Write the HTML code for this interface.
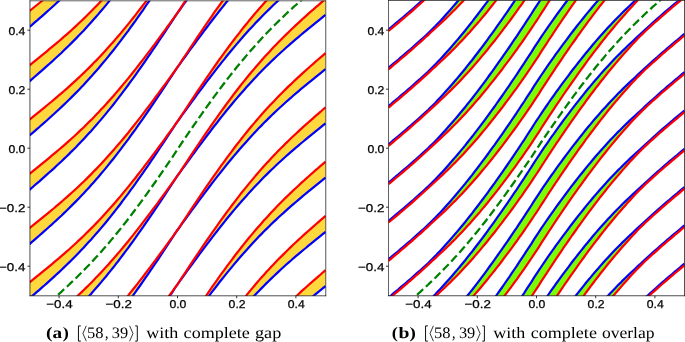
<!DOCTYPE html>
<html><head><meta charset="utf-8"><style>
html,body{margin:0;padding:0;background:#fff;}
svg{display:block;}
text{text-rendering:geometricPrecision;}
.tk{font-family:"Liberation Sans",sans-serif;font-size:11.30px;fill:#000;stroke:#000;stroke-width:0.25px;}
.cr{font-family:"Liberation Serif",serif;font-size:16.00px;fill:#000;}
.cb{font-family:"Liberation Serif",serif;font-size:16.00px;font-weight:bold;fill:#000;}
</style></head><body>
<svg width="685" height="342" viewBox="0 0 685 342" style="will-change:transform">
<rect width="685" height="342" fill="#fff"/>
<defs></defs>
<clipPath id="c0"><rect x="29.95" y="0.80" width="295.80" height="295.00"/></clipPath>
<g clip-path="url(#c0)">
<path d="M29.5 608.0 L32.0 606.0 L34.4 604.0 L36.9 602.0 L39.4 600.0 L41.8 598.0 L44.3 596.0 L46.8 594.0 L49.2 591.9 L51.7 589.9 L54.2 587.8 L56.6 585.8 L59.1 583.7 L61.6 581.6 L64.0 579.4 L66.5 577.3 L69.0 575.1 L71.4 572.9 L73.9 570.6 L76.4 568.3 L78.8 566.0 L81.3 563.7 L83.8 561.3 L86.2 558.9 L88.7 556.5 L91.2 554.0 L93.6 551.5 L96.1 549.0 L98.6 546.4 L101.0 543.8 L103.5 541.1 L106.0 538.4 L108.4 535.7 L110.9 532.9 L113.4 530.1 L115.8 527.3 L118.3 524.4 L120.8 521.5 L123.2 518.5 L125.7 515.6 L128.2 512.5 L130.6 509.5 L133.1 506.4 L135.6 503.3 L138.0 500.2 L140.5 497.0 L143.0 493.8 L145.4 490.6 L147.9 487.3 L150.4 484.0 L152.8 480.7 L155.3 477.4 L157.8 474.1 L160.2 470.8 L162.7 467.4 L165.2 464.0 L167.6 460.7 L170.1 457.3 L172.6 453.9 L175.0 450.5 L177.5 447.1 L180.0 443.3 L182.4 439.6 L184.9 435.9 L187.4 432.1 L189.8 428.4 L192.3 424.7 L194.8 421.0 L197.2 417.3 L199.7 413.7 L202.2 410.0 L204.6 406.4 L207.1 402.8 L209.6 399.2 L212.0 395.7 L214.5 392.1 L217.0 388.6 L219.4 385.2 L221.9 381.7 L224.4 378.3 L226.8 375.0 L229.3 371.6 L231.8 368.3 L234.2 365.1 L236.7 361.9 L239.2 358.7 L241.6 355.5 L244.1 352.4 L246.6 349.4 L249.0 346.4 L251.5 343.4 L254.0 340.5 L256.4 337.6 L258.9 334.7 L261.4 331.9 L263.8 329.1 L266.3 326.4 L268.8 323.7 L271.2 321.1 L273.7 318.4 L276.2 315.9 L278.6 313.3 L281.1 310.8 L283.6 308.4 L286.0 305.9 L288.5 303.5 L291.0 301.2 L293.4 298.8 L295.9 296.5 L298.4 294.2 L300.8 291.9 L303.3 289.7 L305.8 287.5 L308.2 285.3 L310.7 283.1 L313.2 280.9 L315.6 278.8 L318.1 276.6 L320.6 274.5 L323.0 272.3 L325.5 270.2 L325.5 286.2 L323.0 288.2 L320.6 290.2 L318.1 292.2 L315.6 294.2 L313.2 296.2 L310.7 298.2 L308.2 300.2 L305.8 302.2 L303.3 304.3 L300.8 306.3 L298.4 308.4 L295.9 310.5 L293.4 312.6 L291.0 314.7 L288.5 316.9 L286.0 319.1 L283.6 321.3 L281.1 323.6 L278.6 325.8 L276.2 328.1 L273.7 330.5 L271.2 332.8 L268.8 335.2 L266.3 337.7 L263.8 340.1 L261.4 342.6 L258.9 345.2 L256.4 347.8 L254.0 350.4 L251.5 353.0 L249.0 355.7 L246.6 358.5 L244.1 361.2 L241.6 364.0 L239.2 366.9 L236.7 369.8 L234.2 372.7 L231.8 375.6 L229.3 378.6 L226.8 381.6 L224.4 384.7 L221.9 387.8 L219.4 390.9 L217.0 394.0 L214.5 397.2 L212.0 400.4 L209.6 403.6 L207.1 406.9 L204.6 410.1 L202.2 413.4 L199.7 416.7 L197.2 420.1 L194.8 423.4 L192.3 426.8 L189.8 430.1 L187.4 433.5 L184.9 436.9 L182.4 440.3 L180.0 443.7 L177.5 447.1 L175.0 450.8 L172.6 454.6 L170.1 458.3 L167.6 462.0 L165.2 465.7 L162.7 469.5 L160.2 473.2 L157.8 476.8 L155.3 480.5 L152.8 484.1 L150.4 487.8 L147.9 491.4 L145.4 495.0 L143.0 498.5 L140.5 502.0 L138.0 505.5 L135.6 509.0 L133.1 512.4 L130.6 515.8 L128.2 519.2 L125.7 522.5 L123.2 525.8 L120.8 529.1 L118.3 532.3 L115.8 535.5 L113.4 538.6 L110.9 541.7 L108.4 544.8 L106.0 547.8 L103.5 550.8 L101.0 553.7 L98.6 556.6 L96.1 559.5 L93.6 562.3 L91.2 565.0 L88.7 567.8 L86.2 570.5 L83.8 573.1 L81.3 575.7 L78.8 578.3 L76.4 580.8 L73.9 583.3 L71.4 585.8 L69.0 588.2 L66.5 590.6 L64.0 593.0 L61.6 595.4 L59.1 597.7 L56.6 600.0 L54.2 602.2 L51.7 604.5 L49.2 606.7 L46.8 608.9 L44.3 611.1 L41.8 613.3 L39.4 615.4 L36.9 617.6 L34.4 619.7 L32.0 621.8 L29.5 624.0Z M29.5 553.7 L32.0 551.7 L34.4 549.7 L36.9 547.7 L39.4 545.7 L41.8 543.7 L44.3 541.7 L46.8 539.7 L49.2 537.7 L51.7 535.6 L54.2 533.6 L56.6 531.5 L59.1 529.4 L61.6 527.3 L64.0 525.2 L66.5 523.0 L69.0 520.8 L71.4 518.6 L73.9 516.3 L76.4 514.1 L78.8 511.8 L81.3 509.4 L83.8 507.1 L86.2 504.7 L88.7 502.2 L91.2 499.8 L93.6 497.3 L96.1 494.7 L98.6 492.1 L101.0 489.5 L103.5 486.9 L106.0 484.2 L108.4 481.4 L110.9 478.7 L113.4 475.9 L115.8 473.0 L118.3 470.1 L120.8 467.2 L123.2 464.3 L125.7 461.3 L128.2 458.3 L130.6 455.2 L133.1 452.1 L135.6 449.0 L138.0 445.9 L140.5 442.7 L143.0 439.5 L145.4 436.3 L147.9 433.0 L150.4 429.8 L152.8 426.5 L155.3 423.2 L157.8 419.8 L160.2 416.5 L162.7 413.1 L165.2 409.8 L167.6 406.4 L170.1 403.0 L172.6 399.6 L175.0 396.2 L177.5 392.8 L180.0 389.1 L182.4 385.3 L184.9 381.6 L187.4 377.9 L189.8 374.2 L192.3 370.4 L194.8 366.7 L197.2 363.1 L199.7 359.4 L202.2 355.8 L204.6 352.1 L207.1 348.5 L209.6 344.9 L212.0 341.4 L214.5 337.9 L217.0 334.4 L219.4 330.9 L221.9 327.5 L224.4 324.1 L226.8 320.7 L229.3 317.4 L231.8 314.1 L234.2 310.8 L236.7 307.6 L239.2 304.4 L241.6 301.3 L244.1 298.2 L246.6 295.1 L249.0 292.1 L251.5 289.1 L254.0 286.2 L256.4 283.3 L258.9 280.4 L261.4 277.6 L263.8 274.9 L266.3 272.1 L268.8 269.4 L271.2 266.8 L273.7 264.2 L276.2 261.6 L278.6 259.1 L281.1 256.6 L283.6 254.1 L286.0 251.7 L288.5 249.3 L291.0 246.9 L293.4 244.5 L295.9 242.2 L298.4 239.9 L300.8 237.7 L303.3 235.4 L305.8 233.2 L308.2 231.0 L310.7 228.8 L313.2 226.6 L315.6 224.5 L318.1 222.3 L320.6 220.2 L323.0 218.1 L325.5 215.9 L325.5 231.9 L323.0 233.9 L320.6 235.9 L318.1 237.9 L315.6 239.9 L313.2 241.9 L310.7 243.9 L308.2 245.9 L305.8 248.0 L303.3 250.0 L300.8 252.1 L298.4 254.1 L295.9 256.2 L293.4 258.3 L291.0 260.5 L288.5 262.6 L286.0 264.8 L283.6 267.0 L281.1 269.3 L278.6 271.6 L276.2 273.9 L273.7 276.2 L271.2 278.6 L268.8 281.0 L266.3 283.4 L263.8 285.9 L261.4 288.4 L258.9 290.9 L256.4 293.5 L254.0 296.1 L251.5 298.8 L249.0 301.5 L246.6 304.2 L244.1 307.0 L241.6 309.8 L239.2 312.6 L236.7 315.5 L234.2 318.4 L231.8 321.4 L229.3 324.3 L226.8 327.4 L224.4 330.4 L221.9 333.5 L219.4 336.6 L217.0 339.7 L214.5 342.9 L212.0 346.1 L209.6 349.3 L207.1 352.6 L204.6 355.9 L202.2 359.2 L199.7 362.5 L197.2 365.8 L194.8 369.1 L192.3 372.5 L189.8 375.9 L187.4 379.2 L184.9 382.6 L182.4 386.0 L180.0 389.4 L177.5 392.8 L175.0 396.6 L172.6 400.3 L170.1 404.0 L167.6 407.8 L165.2 411.5 L162.7 415.2 L160.2 418.9 L157.8 422.6 L155.3 426.2 L152.8 429.9 L150.4 433.5 L147.9 437.1 L145.4 440.7 L143.0 444.2 L140.5 447.8 L138.0 451.3 L135.6 454.7 L133.1 458.2 L130.6 461.6 L128.2 464.9 L125.7 468.3 L123.2 471.6 L120.8 474.8 L118.3 478.0 L115.8 481.2 L113.4 484.4 L110.9 487.5 L108.4 490.5 L106.0 493.5 L103.5 496.5 L101.0 499.4 L98.6 502.3 L96.1 505.2 L93.6 508.0 L91.2 510.8 L88.7 513.5 L86.2 516.2 L83.8 518.8 L81.3 521.5 L78.8 524.0 L76.4 526.6 L73.9 529.1 L71.4 531.5 L69.0 534.0 L66.5 536.4 L64.0 538.7 L61.6 541.1 L59.1 543.4 L56.6 545.7 L54.2 548.0 L51.7 550.2 L49.2 552.4 L46.8 554.6 L44.3 556.8 L41.8 559.0 L39.4 561.1 L36.9 563.3 L34.4 565.4 L32.0 567.6 L29.5 569.7Z M29.5 499.4 L32.0 497.4 L34.4 495.5 L36.9 493.5 L39.4 491.5 L41.8 489.5 L44.3 487.5 L46.8 485.4 L49.2 483.4 L51.7 481.4 L54.2 479.3 L56.6 477.2 L59.1 475.1 L61.6 473.0 L64.0 470.9 L66.5 468.7 L69.0 466.5 L71.4 464.3 L73.9 462.1 L76.4 459.8 L78.8 457.5 L81.3 455.2 L83.8 452.8 L86.2 450.4 L88.7 448.0 L91.2 445.5 L93.6 443.0 L96.1 440.4 L98.6 437.9 L101.0 435.2 L103.5 432.6 L106.0 429.9 L108.4 427.2 L110.9 424.4 L113.4 421.6 L115.8 418.7 L118.3 415.9 L120.8 413.0 L123.2 410.0 L125.7 407.0 L128.2 404.0 L130.6 401.0 L133.1 397.9 L135.6 394.8 L138.0 391.6 L140.5 388.4 L143.0 385.2 L145.4 382.0 L147.9 378.8 L150.4 375.5 L152.8 372.2 L155.3 368.9 L157.8 365.6 L160.2 362.2 L162.7 358.9 L165.2 355.5 L167.6 352.1 L170.1 348.7 L172.6 345.3 L175.0 341.9 L177.5 338.5 L180.0 334.8 L182.4 331.1 L184.9 327.3 L187.4 323.6 L189.8 319.9 L192.3 316.2 L194.8 312.5 L197.2 308.8 L199.7 305.1 L202.2 301.5 L204.6 297.9 L207.1 294.3 L209.6 290.7 L212.0 287.1 L214.5 283.6 L217.0 280.1 L219.4 276.6 L221.9 273.2 L224.4 269.8 L226.8 266.4 L229.3 263.1 L231.8 259.8 L234.2 256.5 L236.7 253.3 L239.2 250.1 L241.6 247.0 L244.1 243.9 L246.6 240.8 L249.0 237.8 L251.5 234.9 L254.0 231.9 L256.4 229.0 L258.9 226.2 L261.4 223.4 L263.8 220.6 L266.3 217.9 L268.8 215.2 L271.2 212.5 L273.7 209.9 L276.2 207.3 L278.6 204.8 L281.1 202.3 L283.6 199.8 L286.0 197.4 L288.5 195.0 L291.0 192.6 L293.4 190.3 L295.9 188.0 L298.4 185.7 L300.8 183.4 L303.3 181.2 L305.8 178.9 L308.2 176.7 L310.7 174.5 L313.2 172.4 L315.6 170.2 L318.1 168.1 L320.6 165.9 L323.0 163.8 L325.5 161.7 L325.5 177.7 L323.0 179.6 L320.6 181.6 L318.1 183.6 L315.6 185.6 L313.2 187.6 L310.7 189.6 L308.2 191.7 L305.8 193.7 L303.3 195.7 L300.8 197.8 L298.4 199.9 L295.9 202.0 L293.4 204.1 L291.0 206.2 L288.5 208.4 L286.0 210.6 L283.6 212.8 L281.1 215.0 L278.6 217.3 L276.2 219.6 L273.7 221.9 L271.2 224.3 L268.8 226.7 L266.3 229.1 L263.8 231.6 L261.4 234.1 L258.9 236.6 L256.4 239.2 L254.0 241.8 L251.5 244.5 L249.0 247.2 L246.6 249.9 L244.1 252.7 L241.6 255.5 L239.2 258.3 L236.7 261.2 L234.2 264.1 L231.8 267.1 L229.3 270.1 L226.8 273.1 L224.4 276.1 L221.9 279.2 L219.4 282.3 L217.0 285.5 L214.5 288.7 L212.0 291.9 L209.6 295.1 L207.1 298.3 L204.6 301.6 L202.2 304.9 L199.7 308.2 L197.2 311.5 L194.8 314.9 L192.3 318.2 L189.8 321.6 L187.4 325.0 L184.9 328.4 L182.4 331.7 L180.0 335.1 L177.5 338.5 L175.0 342.3 L172.6 346.0 L170.1 349.8 L167.6 353.5 L165.2 357.2 L162.7 360.9 L160.2 364.6 L157.8 368.3 L155.3 372.0 L152.8 375.6 L150.4 379.2 L147.9 382.8 L145.4 386.4 L143.0 390.0 L140.5 393.5 L138.0 397.0 L135.6 400.5 L133.1 403.9 L130.6 407.3 L128.2 410.7 L125.7 414.0 L123.2 417.3 L120.8 420.5 L118.3 423.8 L115.8 426.9 L113.4 430.1 L110.9 433.2 L108.4 436.2 L106.0 439.3 L103.5 442.2 L101.0 445.2 L98.6 448.1 L96.1 450.9 L93.6 453.7 L91.2 456.5 L88.7 459.2 L86.2 461.9 L83.8 464.6 L81.3 467.2 L78.8 469.8 L76.4 472.3 L73.9 474.8 L71.4 477.3 L69.0 479.7 L66.5 482.1 L64.0 484.5 L61.6 486.8 L59.1 489.1 L56.6 491.4 L54.2 493.7 L51.7 495.9 L49.2 498.2 L46.8 500.4 L44.3 502.5 L41.8 504.7 L39.4 506.9 L36.9 509.0 L34.4 511.2 L32.0 513.3 L29.5 515.4Z M29.5 445.2 L32.0 443.2 L34.4 441.2 L36.9 439.2 L39.4 437.2 L41.8 435.2 L44.3 433.2 L46.8 431.2 L49.2 429.1 L51.7 427.1 L54.2 425.0 L56.6 423.0 L59.1 420.9 L61.6 418.7 L64.0 416.6 L66.5 414.5 L69.0 412.3 L71.4 410.0 L73.9 407.8 L76.4 405.5 L78.8 403.2 L81.3 400.9 L83.8 398.5 L86.2 396.1 L88.7 393.7 L91.2 391.2 L93.6 388.7 L96.1 386.2 L98.6 383.6 L101.0 381.0 L103.5 378.3 L106.0 375.6 L108.4 372.9 L110.9 370.1 L113.4 367.3 L115.8 364.5 L118.3 361.6 L120.8 358.7 L123.2 355.7 L125.7 352.8 L128.2 349.7 L130.6 346.7 L133.1 343.6 L135.6 340.5 L138.0 337.3 L140.5 334.2 L143.0 331.0 L145.4 327.7 L147.9 324.5 L150.4 321.2 L152.8 317.9 L155.3 314.6 L157.8 311.3 L160.2 308.0 L162.7 304.6 L165.2 301.2 L167.6 297.8 L170.1 294.5 L172.6 291.1 L175.0 287.7 L177.5 284.3 L180.0 280.5 L182.4 276.8 L184.9 273.1 L187.4 269.3 L189.8 265.6 L192.3 261.9 L194.8 258.2 L197.2 254.5 L199.7 250.9 L202.2 247.2 L204.6 243.6 L207.1 240.0 L209.6 236.4 L212.0 232.9 L214.5 229.3 L217.0 225.8 L219.4 222.4 L221.9 218.9 L224.4 215.5 L226.8 212.2 L229.3 208.8 L231.8 205.5 L234.2 202.3 L236.7 199.1 L239.2 195.9 L241.6 192.7 L244.1 189.6 L246.6 186.6 L249.0 183.6 L251.5 180.6 L254.0 177.6 L256.4 174.8 L258.9 171.9 L261.4 169.1 L263.8 166.3 L266.3 163.6 L268.8 160.9 L271.2 158.3 L273.7 155.6 L276.2 153.1 L278.6 150.5 L281.1 148.0 L283.6 145.6 L286.0 143.1 L288.5 140.7 L291.0 138.3 L293.4 136.0 L295.9 133.7 L298.4 131.4 L300.8 129.1 L303.3 126.9 L305.8 124.7 L308.2 122.5 L310.7 120.3 L313.2 118.1 L315.6 115.9 L318.1 113.8 L320.6 111.7 L323.0 109.5 L325.5 107.4 L325.5 123.4 L323.0 125.4 L320.6 127.4 L318.1 129.4 L315.6 131.4 L313.2 133.4 L310.7 135.4 L308.2 137.4 L305.8 139.4 L303.3 141.5 L300.8 143.5 L298.4 145.6 L295.9 147.7 L293.4 149.8 L291.0 151.9 L288.5 154.1 L286.0 156.3 L283.6 158.5 L281.1 160.7 L278.6 163.0 L276.2 165.3 L273.7 167.7 L271.2 170.0 L268.8 172.4 L266.3 174.9 L263.8 177.3 L261.4 179.8 L258.9 182.4 L256.4 185.0 L254.0 187.6 L251.5 190.2 L249.0 192.9 L246.6 195.7 L244.1 198.4 L241.6 201.2 L239.2 204.1 L236.7 206.9 L234.2 209.9 L231.8 212.8 L229.3 215.8 L226.8 218.8 L224.4 221.9 L221.9 225.0 L219.4 228.1 L217.0 231.2 L214.5 234.4 L212.0 237.6 L209.6 240.8 L207.1 244.1 L204.6 247.3 L202.2 250.6 L199.7 253.9 L197.2 257.3 L194.8 260.6 L192.3 264.0 L189.8 267.3 L187.4 270.7 L184.9 274.1 L182.4 277.5 L180.0 280.9 L177.5 284.3 L175.0 288.0 L172.6 291.8 L170.1 295.5 L167.6 299.2 L165.2 302.9 L162.7 306.6 L160.2 310.3 L157.8 314.0 L155.3 317.7 L152.8 321.3 L150.4 325.0 L147.9 328.6 L145.4 332.1 L143.0 335.7 L140.5 339.2 L138.0 342.7 L135.6 346.2 L133.1 349.6 L130.6 353.0 L128.2 356.4 L125.7 359.7 L123.2 363.0 L120.8 366.3 L118.3 369.5 L115.8 372.7 L113.4 375.8 L110.9 378.9 L108.4 382.0 L106.0 385.0 L103.5 388.0 L101.0 390.9 L98.6 393.8 L96.1 396.6 L93.6 399.5 L91.2 402.2 L88.7 405.0 L86.2 407.6 L83.8 410.3 L81.3 412.9 L78.8 415.5 L76.4 418.0 L73.9 420.5 L71.4 423.0 L69.0 425.4 L66.5 427.8 L64.0 430.2 L61.6 432.5 L59.1 434.9 L56.6 437.2 L54.2 439.4 L51.7 441.7 L49.2 443.9 L46.8 446.1 L44.3 448.3 L41.8 450.4 L39.4 452.6 L36.9 454.8 L34.4 456.9 L32.0 459.0 L29.5 461.2Z M29.5 390.9 L32.0 388.9 L34.4 386.9 L36.9 384.9 L39.4 382.9 L41.8 380.9 L44.3 378.9 L46.8 376.9 L49.2 374.9 L51.7 372.8 L54.2 370.8 L56.6 368.7 L59.1 366.6 L61.6 364.5 L64.0 362.3 L66.5 360.2 L69.0 358.0 L71.4 355.8 L73.9 353.5 L76.4 351.3 L78.8 349.0 L81.3 346.6 L83.8 344.3 L86.2 341.9 L88.7 339.4 L91.2 337.0 L93.6 334.4 L96.1 331.9 L98.6 329.3 L101.0 326.7 L103.5 324.0 L106.0 321.4 L108.4 318.6 L110.9 315.9 L113.4 313.1 L115.8 310.2 L118.3 307.3 L120.8 304.4 L123.2 301.5 L125.7 298.5 L128.2 295.5 L130.6 292.4 L133.1 289.3 L135.6 286.2 L138.0 283.1 L140.5 279.9 L143.0 276.7 L145.4 273.5 L147.9 270.2 L150.4 267.0 L152.8 263.7 L155.3 260.4 L157.8 257.0 L160.2 253.7 L162.7 250.3 L165.2 247.0 L167.6 243.6 L170.1 240.2 L172.6 236.8 L175.0 233.4 L177.5 230.0 L180.0 226.3 L182.4 222.5 L184.9 218.8 L187.4 215.1 L189.8 211.3 L192.3 207.6 L194.8 203.9 L197.2 200.3 L199.7 196.6 L202.2 192.9 L204.6 189.3 L207.1 185.7 L209.6 182.1 L212.0 178.6 L214.5 175.1 L217.0 171.6 L219.4 168.1 L221.9 164.7 L224.4 161.3 L226.8 157.9 L229.3 154.6 L231.8 151.3 L234.2 148.0 L236.7 144.8 L239.2 141.6 L241.6 138.5 L244.1 135.4 L246.6 132.3 L249.0 129.3 L251.5 126.3 L254.0 123.4 L256.4 120.5 L258.9 117.6 L261.4 114.8 L263.8 112.1 L266.3 109.3 L268.8 106.6 L271.2 104.0 L273.7 101.4 L276.2 98.8 L278.6 96.3 L281.1 93.8 L283.6 91.3 L286.0 88.9 L288.5 86.4 L291.0 84.1 L293.4 81.7 L295.9 79.4 L298.4 77.1 L300.8 74.9 L303.3 72.6 L305.8 70.4 L308.2 68.2 L310.7 66.0 L313.2 63.8 L315.6 61.7 L318.1 59.5 L320.6 57.4 L323.0 55.3 L325.5 53.1 L325.5 69.1 L323.0 71.1 L320.6 73.1 L318.1 75.1 L315.6 77.1 L313.2 79.1 L310.7 81.1 L308.2 83.1 L305.8 85.1 L303.3 87.2 L300.8 89.2 L298.4 91.3 L295.9 93.4 L293.4 95.5 L291.0 97.7 L288.5 99.8 L286.0 102.0 L283.6 104.2 L281.1 106.5 L278.6 108.7 L276.2 111.0 L273.7 113.4 L271.2 115.7 L268.8 118.1 L266.3 120.6 L263.8 123.1 L261.4 125.6 L258.9 128.1 L256.4 130.7 L254.0 133.3 L251.5 136.0 L249.0 138.7 L246.6 141.4 L244.1 144.2 L241.6 147.0 L239.2 149.8 L236.7 152.7 L234.2 155.6 L231.8 158.5 L229.3 161.5 L226.8 164.5 L224.4 167.6 L221.9 170.7 L219.4 173.8 L217.0 176.9 L214.5 180.1 L212.0 183.3 L209.6 186.5 L207.1 189.8 L204.6 193.1 L202.2 196.3 L199.7 199.7 L197.2 203.0 L194.8 206.3 L192.3 209.7 L189.8 213.1 L187.4 216.4 L184.9 219.8 L182.4 223.2 L180.0 226.6 L177.5 230.0 L175.0 233.7 L172.6 237.5 L170.1 241.2 L167.6 244.9 L165.2 248.7 L162.7 252.4 L160.2 256.1 L157.8 259.8 L155.3 263.4 L152.8 267.1 L150.4 270.7 L147.9 274.3 L145.4 277.9 L143.0 281.4 L140.5 285.0 L138.0 288.5 L135.6 291.9 L133.1 295.4 L130.6 298.8 L128.2 302.1 L125.7 305.5 L123.2 308.8 L120.8 312.0 L118.3 315.2 L115.8 318.4 L113.4 321.5 L110.9 324.6 L108.4 327.7 L106.0 330.7 L103.5 333.7 L101.0 336.6 L98.6 339.5 L96.1 342.4 L93.6 345.2 L91.2 348.0 L88.7 350.7 L86.2 353.4 L83.8 356.0 L81.3 358.6 L78.8 361.2 L76.4 363.8 L73.9 366.3 L71.4 368.7 L69.0 371.2 L66.5 373.6 L64.0 375.9 L61.6 378.3 L59.1 380.6 L56.6 382.9 L54.2 385.1 L51.7 387.4 L49.2 389.6 L46.8 391.8 L44.3 394.0 L41.8 396.2 L39.4 398.3 L36.9 400.5 L34.4 402.6 L32.0 404.8 L29.5 406.9Z M29.5 336.6 L32.0 334.6 L34.4 332.6 L36.9 330.7 L39.4 328.7 L41.8 326.7 L44.3 324.6 L46.8 322.6 L49.2 320.6 L51.7 318.6 L54.2 316.5 L56.6 314.4 L59.1 312.3 L61.6 310.2 L64.0 308.1 L66.5 305.9 L69.0 303.7 L71.4 301.5 L73.9 299.3 L76.4 297.0 L78.8 294.7 L81.3 292.4 L83.8 290.0 L86.2 287.6 L88.7 285.2 L91.2 282.7 L93.6 280.2 L96.1 277.6 L98.6 275.1 L101.0 272.4 L103.5 269.8 L106.0 267.1 L108.4 264.4 L110.9 261.6 L113.4 258.8 L115.8 255.9 L118.3 253.1 L120.8 250.1 L123.2 247.2 L125.7 244.2 L128.2 241.2 L130.6 238.1 L133.1 235.1 L135.6 231.9 L138.0 228.8 L140.5 225.6 L143.0 222.4 L145.4 219.2 L147.9 216.0 L150.4 212.7 L152.8 209.4 L155.3 206.1 L157.8 202.8 L160.2 199.4 L162.7 196.1 L165.2 192.7 L167.6 189.3 L170.1 185.9 L172.6 182.5 L175.0 179.1 L177.5 175.7 L180.0 172.0 L182.4 168.3 L184.9 164.5 L187.4 160.8 L189.8 157.1 L192.3 153.4 L194.8 149.7 L197.2 146.0 L199.7 142.3 L202.2 138.7 L204.6 135.0 L207.1 131.4 L209.6 127.9 L212.0 124.3 L214.5 120.8 L217.0 117.3 L219.4 113.8 L221.9 110.4 L224.4 107.0 L226.8 103.6 L229.3 100.3 L231.8 97.0 L234.2 93.7 L236.7 90.5 L239.2 87.3 L241.6 84.2 L244.1 81.1 L246.6 78.0 L249.0 75.0 L251.5 72.0 L254.0 69.1 L256.4 66.2 L258.9 63.4 L261.4 60.6 L263.8 57.8 L266.3 55.1 L268.8 52.4 L271.2 49.7 L273.7 47.1 L276.2 44.5 L278.6 42.0 L281.1 39.5 L283.6 37.0 L286.0 34.6 L288.5 32.2 L291.0 29.8 L293.4 27.5 L295.9 25.1 L298.4 22.9 L300.8 20.6 L303.3 18.3 L305.8 16.1 L308.2 13.9 L310.7 11.7 L313.2 9.6 L315.6 7.4 L318.1 5.3 L320.6 3.1 L323.0 1.0 L325.5 -1.1 L325.5 14.8 L323.0 16.8 L320.6 18.8 L318.1 20.8 L315.6 22.8 L313.2 24.8 L310.7 26.8 L308.2 28.8 L305.8 30.9 L303.3 32.9 L300.8 35.0 L298.4 37.1 L295.9 39.1 L293.4 41.3 L291.0 43.4 L288.5 45.6 L286.0 47.7 L283.6 50.0 L281.1 52.2 L278.6 54.5 L276.2 56.8 L273.7 59.1 L271.2 61.5 L268.8 63.9 L266.3 66.3 L263.8 68.8 L261.4 71.3 L258.9 73.8 L256.4 76.4 L254.0 79.0 L251.5 81.7 L249.0 84.4 L246.6 87.1 L244.1 89.9 L241.6 92.7 L239.2 95.5 L236.7 98.4 L234.2 101.3 L231.8 104.3 L229.3 107.3 L226.8 110.3 L224.4 113.3 L221.9 116.4 L219.4 119.5 L217.0 122.7 L214.5 125.8 L212.0 129.0 L209.6 132.3 L207.1 135.5 L204.6 138.8 L202.2 142.1 L199.7 145.4 L197.2 148.7 L194.8 152.1 L192.3 155.4 L189.8 158.8 L187.4 162.2 L184.9 165.5 L182.4 168.9 L180.0 172.3 L177.5 175.7 L175.0 179.5 L172.6 183.2 L170.1 186.9 L167.6 190.7 L165.2 194.4 L162.7 198.1 L160.2 201.8 L157.8 205.5 L155.3 209.1 L152.8 212.8 L150.4 216.4 L147.9 220.0 L145.4 223.6 L143.0 227.2 L140.5 230.7 L138.0 234.2 L135.6 237.7 L133.1 241.1 L130.6 244.5 L128.2 247.9 L125.7 251.2 L123.2 254.5 L120.8 257.7 L118.3 261.0 L115.8 264.1 L113.4 267.3 L110.9 270.4 L108.4 273.4 L106.0 276.5 L103.5 279.4 L101.0 282.4 L98.6 285.3 L96.1 288.1 L93.6 290.9 L91.2 293.7 L88.7 296.4 L86.2 299.1 L83.8 301.8 L81.3 304.4 L78.8 306.9 L76.4 309.5 L73.9 312.0 L71.4 314.5 L69.0 316.9 L66.5 319.3 L64.0 321.7 L61.6 324.0 L59.1 326.3 L56.6 328.6 L54.2 330.9 L51.7 333.1 L49.2 335.3 L46.8 337.5 L44.3 339.7 L41.8 341.9 L39.4 344.1 L36.9 346.2 L34.4 348.4 L32.0 350.5 L29.5 352.6Z M29.5 282.4 L32.0 280.4 L34.4 278.4 L36.9 276.4 L39.4 274.4 L41.8 272.4 L44.3 270.4 L46.8 268.4 L49.2 266.3 L51.7 264.3 L54.2 262.2 L56.6 260.1 L59.1 258.1 L61.6 255.9 L64.0 253.8 L66.5 251.6 L69.0 249.5 L71.4 247.2 L73.9 245.0 L76.4 242.7 L78.8 240.4 L81.3 238.1 L83.8 235.7 L86.2 233.3 L88.7 230.9 L91.2 228.4 L93.6 225.9 L96.1 223.4 L98.6 220.8 L101.0 218.2 L103.5 215.5 L106.0 212.8 L108.4 210.1 L110.9 207.3 L113.4 204.5 L115.8 201.7 L118.3 198.8 L120.8 195.9 L123.2 192.9 L125.7 189.9 L128.2 186.9 L130.6 183.9 L133.1 180.8 L135.6 177.7 L138.0 174.5 L140.5 171.4 L143.0 168.2 L145.4 164.9 L147.9 161.7 L150.4 158.4 L152.8 155.1 L155.3 151.8 L157.8 148.5 L160.2 145.1 L162.7 141.8 L165.2 138.4 L167.6 135.0 L170.1 131.7 L172.6 128.3 L175.0 124.9 L177.5 121.5 L180.0 117.7 L182.4 114.0 L184.9 110.3 L187.4 106.5 L189.8 102.8 L192.3 99.1 L194.8 95.4 L197.2 91.7 L199.7 88.1 L202.2 84.4 L204.6 80.8 L207.1 77.2 L209.6 73.6 L212.0 70.0 L214.5 66.5 L217.0 63.0 L219.4 59.5 L221.9 56.1 L224.4 52.7 L226.8 49.3 L229.3 46.0 L231.8 42.7 L234.2 39.5 L236.7 36.2 L239.2 33.1 L241.6 29.9 L244.1 26.8 L246.6 23.8 L249.0 20.7 L251.5 17.8 L254.0 14.8 L256.4 11.9 L258.9 9.1 L261.4 6.3 L263.8 3.5 L266.3 0.8 L268.8 -1.9 L271.2 -4.6 L273.7 -7.2 L276.2 -9.7 L278.6 -12.3 L281.1 -14.8 L283.6 -17.3 L286.0 -19.7 L288.5 -22.1 L291.0 -24.5 L293.4 -26.8 L295.9 -29.1 L298.4 -31.4 L300.8 -33.7 L303.3 -35.9 L305.8 -38.1 L308.2 -40.3 L310.7 -42.5 L313.2 -44.7 L315.6 -46.9 L318.1 -49.0 L320.6 -51.2 L323.0 -53.3 L325.5 -55.4 L325.5 -39.4 L323.0 -37.4 L320.6 -35.4 L318.1 -33.5 L315.6 -31.5 L313.2 -29.5 L310.7 -27.4 L308.2 -25.4 L305.8 -23.4 L303.3 -21.4 L300.8 -19.3 L298.4 -17.2 L295.9 -15.1 L293.4 -13.0 L291.0 -10.9 L288.5 -8.7 L286.0 -6.5 L283.6 -4.3 L281.1 -2.1 L278.6 0.2 L276.2 2.5 L273.7 4.8 L271.2 7.2 L268.8 9.6 L266.3 12.0 L263.8 14.5 L261.4 17.0 L258.9 19.6 L256.4 22.1 L254.0 24.8 L251.5 27.4 L249.0 30.1 L246.6 32.8 L244.1 35.6 L241.6 38.4 L239.2 41.3 L236.7 44.1 L234.2 47.1 L231.8 50.0 L229.3 53.0 L226.8 56.0 L224.4 59.1 L221.9 62.1 L219.4 65.3 L217.0 68.4 L214.5 71.6 L212.0 74.8 L209.6 78.0 L207.1 81.2 L204.6 84.5 L202.2 87.8 L199.7 91.1 L197.2 94.4 L194.8 97.8 L192.3 101.1 L189.8 104.5 L187.4 107.9 L184.9 111.3 L182.4 114.7 L180.0 118.1 L177.5 121.5 L175.0 125.2 L172.6 128.9 L170.1 132.7 L167.6 136.4 L165.2 140.1 L162.7 143.8 L160.2 147.5 L157.8 151.2 L155.3 154.9 L152.8 158.5 L150.4 162.2 L147.9 165.8 L145.4 169.3 L143.0 172.9 L140.5 176.4 L138.0 179.9 L135.6 183.4 L133.1 186.8 L130.6 190.2 L128.2 193.6 L125.7 196.9 L123.2 200.2 L120.8 203.5 L118.3 206.7 L115.8 209.9 L113.4 213.0 L110.9 216.1 L108.4 219.2 L106.0 222.2 L103.5 225.2 L101.0 228.1 L98.6 231.0 L96.1 233.8 L93.6 236.6 L91.2 239.4 L88.7 242.1 L86.2 244.8 L83.8 247.5 L81.3 250.1 L78.8 252.7 L76.4 255.2 L73.9 257.7 L71.4 260.2 L69.0 262.6 L66.5 265.0 L64.0 267.4 L61.6 269.7 L59.1 272.1 L56.6 274.3 L54.2 276.6 L51.7 278.9 L49.2 281.1 L46.8 283.3 L44.3 285.5 L41.8 287.6 L39.4 289.8 L36.9 291.9 L34.4 294.1 L32.0 296.2 L29.5 298.3Z M29.5 228.1 L32.0 226.1 L34.4 224.1 L36.9 222.1 L39.4 220.1 L41.8 218.1 L44.3 216.1 L46.8 214.1 L49.2 212.1 L51.7 210.0 L54.2 208.0 L56.6 205.9 L59.1 203.8 L61.6 201.7 L64.0 199.5 L66.5 197.4 L69.0 195.2 L71.4 193.0 L73.9 190.7 L76.4 188.5 L78.8 186.2 L81.3 183.8 L83.8 181.5 L86.2 179.1 L88.7 176.6 L91.2 174.1 L93.6 171.6 L96.1 169.1 L98.6 166.5 L101.0 163.9 L103.5 161.2 L106.0 158.5 L108.4 155.8 L110.9 153.0 L113.4 150.2 L115.8 147.4 L118.3 144.5 L120.8 141.6 L123.2 138.7 L125.7 135.7 L128.2 132.7 L130.6 129.6 L133.1 126.5 L135.6 123.4 L138.0 120.3 L140.5 117.1 L143.0 113.9 L145.4 110.7 L147.9 107.4 L150.4 104.1 L152.8 100.9 L155.3 97.5 L157.8 94.2 L160.2 90.9 L162.7 87.5 L165.2 84.1 L167.6 80.8 L170.1 77.4 L172.6 74.0 L175.0 70.6 L177.5 67.2 L180.0 63.5 L182.4 59.7 L184.9 56.0 L187.4 52.3 L189.8 48.5 L192.3 44.8 L194.8 41.1 L197.2 37.4 L199.7 33.8 L202.2 30.1 L204.6 26.5 L207.1 22.9 L209.6 19.3 L212.0 15.8 L214.5 12.2 L217.0 8.7 L219.4 5.3 L221.9 1.8 L224.4 -1.6 L226.8 -4.9 L229.3 -8.3 L231.8 -11.6 L234.2 -14.8 L236.7 -18.0 L239.2 -21.2 L241.6 -24.3 L244.1 -27.4 L246.6 -30.5 L249.0 -33.5 L251.5 -36.5 L254.0 -39.4 L256.4 -42.3 L258.9 -45.2 L261.4 -48.0 L263.8 -50.8 L266.3 -53.5 L268.8 -56.2 L271.2 -58.8 L273.7 -61.4 L276.2 -64.0 L278.6 -66.6 L281.1 -69.1 L283.6 -71.5 L286.0 -74.0 L288.5 -76.4 L291.0 -78.7 L293.4 -81.1 L295.9 -83.4 L298.4 -85.7 L300.8 -87.9 L303.3 -90.2 L305.8 -92.4 L308.2 -94.6 L310.7 -96.8 L313.2 -99.0 L315.6 -101.1 L318.1 -103.3 L320.6 -105.4 L323.0 -107.6 L325.5 -109.7 L325.5 -93.7 L323.0 -91.7 L320.6 -89.7 L318.1 -87.7 L315.6 -85.7 L313.2 -83.7 L310.7 -81.7 L308.2 -79.7 L305.8 -77.7 L303.3 -75.6 L300.8 -73.6 L298.4 -71.5 L295.9 -69.4 L293.4 -67.3 L291.0 -65.1 L288.5 -63.0 L286.0 -60.8 L283.6 -58.6 L281.1 -56.3 L278.6 -54.1 L276.2 -51.8 L273.7 -49.4 L271.2 -47.1 L268.8 -44.7 L266.3 -42.2 L263.8 -39.8 L261.4 -37.2 L258.9 -34.7 L256.4 -32.1 L254.0 -29.5 L251.5 -26.8 L249.0 -24.2 L246.6 -21.4 L244.1 -18.7 L241.6 -15.9 L239.2 -13.0 L236.7 -10.1 L234.2 -7.2 L231.8 -4.3 L229.3 -1.3 L226.8 1.7 L224.4 4.8 L221.9 7.9 L219.4 11.0 L217.0 14.1 L214.5 17.3 L212.0 20.5 L209.6 23.7 L207.1 27.0 L204.6 30.2 L202.2 33.5 L199.7 36.8 L197.2 40.2 L194.8 43.5 L192.3 46.9 L189.8 50.2 L187.4 53.6 L184.9 57.0 L182.4 60.4 L180.0 63.8 L177.5 67.2 L175.0 70.9 L172.6 74.7 L170.1 78.4 L167.6 82.1 L165.2 85.9 L162.7 89.6 L160.2 93.3 L157.8 96.9 L155.3 100.6 L152.8 104.3 L150.4 107.9 L147.9 111.5 L145.4 115.1 L143.0 118.6 L140.5 122.1 L138.0 125.6 L135.6 129.1 L133.1 132.5 L130.6 135.9 L128.2 139.3 L125.7 142.6 L123.2 145.9 L120.8 149.2 L118.3 152.4 L115.8 155.6 L113.4 158.7 L110.9 161.8 L108.4 164.9 L106.0 167.9 L103.5 170.9 L101.0 173.8 L98.6 176.7 L96.1 179.6 L93.6 182.4 L91.2 185.1 L88.7 187.9 L86.2 190.6 L83.8 193.2 L81.3 195.8 L78.8 198.4 L76.4 200.9 L73.9 203.4 L71.4 205.9 L69.0 208.3 L66.5 210.8 L64.0 213.1 L61.6 215.5 L59.1 217.8 L56.6 220.1 L54.2 222.3 L51.7 224.6 L49.2 226.8 L46.8 229.0 L44.3 231.2 L41.8 233.4 L39.4 235.5 L36.9 237.7 L34.4 239.8 L32.0 241.9 L29.5 244.1Z M29.5 173.8 L32.0 171.8 L34.4 169.8 L36.9 167.8 L39.4 165.8 L41.8 163.8 L44.3 161.8 L46.8 159.8 L49.2 157.8 L51.7 155.7 L54.2 153.7 L56.6 151.6 L59.1 149.5 L61.6 147.4 L64.0 145.3 L66.5 143.1 L69.0 140.9 L71.4 138.7 L73.9 136.5 L76.4 134.2 L78.8 131.9 L81.3 129.5 L83.8 127.2 L86.2 124.8 L88.7 122.3 L91.2 119.9 L93.6 117.4 L96.1 114.8 L98.6 112.2 L101.0 109.6 L103.5 107.0 L106.0 104.3 L108.4 101.5 L110.9 98.8 L113.4 96.0 L115.8 93.1 L118.3 90.3 L120.8 87.3 L123.2 84.4 L125.7 81.4 L128.2 78.4 L130.6 75.3 L133.1 72.2 L135.6 69.1 L138.0 66.0 L140.5 62.8 L143.0 59.6 L145.4 56.4 L147.9 53.1 L150.4 49.9 L152.8 46.6 L155.3 43.3 L157.8 39.9 L160.2 36.6 L162.7 33.2 L165.2 29.9 L167.6 26.5 L170.1 23.1 L172.6 19.7 L175.0 16.3 L177.5 12.9 L180.0 9.2 L182.4 5.4 L184.9 1.7 L187.4 -2.0 L189.8 -5.7 L192.3 -9.4 L194.8 -13.1 L197.2 -16.8 L199.7 -20.5 L202.2 -24.1 L204.6 -27.8 L207.1 -31.4 L209.6 -34.9 L212.0 -38.5 L214.5 -42.0 L217.0 -45.5 L219.4 -49.0 L221.9 -52.4 L224.4 -55.8 L226.8 -59.2 L229.3 -62.5 L231.8 -65.8 L234.2 -69.1 L236.7 -72.3 L239.2 -75.5 L241.6 -78.6 L244.1 -81.7 L246.6 -84.8 L249.0 -87.8 L251.5 -90.8 L254.0 -93.7 L256.4 -96.6 L258.9 -99.4 L261.4 -102.3 L263.8 -105.0 L266.3 -107.8 L268.8 -110.4 L271.2 -113.1 L273.7 -115.7 L276.2 -118.3 L278.6 -120.8 L281.1 -123.3 L283.6 -125.8 L286.0 -128.2 L288.5 -130.6 L291.0 -133.0 L293.4 -135.3 L295.9 -137.7 L298.4 -140.0 L300.8 -142.2 L303.3 -144.5 L305.8 -146.7 L308.2 -148.9 L310.7 -151.1 L313.2 -153.2 L315.6 -155.4 L318.1 -157.6 L320.6 -159.7 L323.0 -161.8 L325.5 -164.0 L325.5 -148.0 L323.0 -146.0 L320.6 -144.0 L318.1 -142.0 L315.6 -140.0 L313.2 -138.0 L310.7 -136.0 L308.2 -134.0 L305.8 -131.9 L303.3 -129.9 L300.8 -127.8 L298.4 -125.8 L295.9 -123.7 L293.4 -121.5 L291.0 -119.4 L288.5 -117.3 L286.0 -115.1 L283.6 -112.8 L281.1 -110.6 L278.6 -108.3 L276.2 -106.0 L273.7 -103.7 L271.2 -101.3 L268.8 -98.9 L266.3 -96.5 L263.8 -94.0 L261.4 -91.5 L258.9 -89.0 L256.4 -86.4 L254.0 -83.8 L251.5 -81.1 L249.0 -78.4 L246.6 -75.7 L244.1 -72.9 L241.6 -70.1 L239.2 -67.3 L236.7 -64.4 L234.2 -61.5 L231.8 -58.5 L229.3 -55.6 L226.8 -52.5 L224.4 -49.5 L221.9 -46.4 L219.4 -43.3 L217.0 -40.1 L214.5 -37.0 L212.0 -33.8 L209.6 -30.5 L207.1 -27.3 L204.6 -24.0 L202.2 -20.7 L199.7 -17.4 L197.2 -14.1 L194.8 -10.8 L192.3 -7.4 L189.8 -4.0 L187.4 -0.6 L184.9 2.7 L182.4 6.1 L180.0 9.5 L177.5 12.9 L175.0 16.7 L172.6 20.4 L170.1 24.1 L167.6 27.9 L165.2 31.6 L162.7 35.3 L160.2 39.0 L157.8 42.7 L155.3 46.3 L152.8 50.0 L150.4 53.6 L147.9 57.2 L145.4 60.8 L143.0 64.3 L140.5 67.9 L138.0 71.4 L135.6 74.8 L133.1 78.3 L130.6 81.7 L128.2 85.0 L125.7 88.4 L123.2 91.7 L120.8 94.9 L118.3 98.1 L115.8 101.3 L113.4 104.5 L110.9 107.6 L108.4 110.6 L106.0 113.6 L103.5 116.6 L101.0 119.6 L98.6 122.4 L96.1 125.3 L93.6 128.1 L91.2 130.9 L88.7 133.6 L86.2 136.3 L83.8 138.9 L81.3 141.6 L78.8 144.1 L76.4 146.7 L73.9 149.2 L71.4 151.6 L69.0 154.1 L66.5 156.5 L64.0 158.9 L61.6 161.2 L59.1 163.5 L56.6 165.8 L54.2 168.1 L51.7 170.3 L49.2 172.5 L46.8 174.7 L44.3 176.9 L41.8 179.1 L39.4 181.3 L36.9 183.4 L34.4 185.5 L32.0 187.7 L29.5 189.8Z M29.5 119.5 L32.0 117.6 L34.4 115.6 L36.9 113.6 L39.4 111.6 L41.8 109.6 L44.3 107.6 L46.8 105.5 L49.2 103.5 L51.7 101.5 L54.2 99.4 L56.6 97.3 L59.1 95.2 L61.6 93.1 L64.0 91.0 L66.5 88.8 L69.0 86.6 L71.4 84.4 L73.9 82.2 L76.4 79.9 L78.8 77.6 L81.3 75.3 L83.8 72.9 L86.2 70.5 L88.7 68.1 L91.2 65.6 L93.6 63.1 L96.1 60.6 L98.6 58.0 L101.0 55.4 L103.5 52.7 L106.0 50.0 L108.4 47.3 L110.9 44.5 L113.4 41.7 L115.8 38.9 L118.3 36.0 L120.8 33.1 L123.2 30.1 L125.7 27.1 L128.2 24.1 L130.6 21.1 L133.1 18.0 L135.6 14.9 L138.0 11.7 L140.5 8.5 L143.0 5.3 L145.4 2.1 L147.9 -1.1 L150.4 -4.4 L152.8 -7.7 L155.3 -11.0 L157.8 -14.3 L160.2 -17.7 L162.7 -21.0 L165.2 -24.4 L167.6 -27.8 L170.1 -31.2 L172.6 -34.5 L175.0 -37.9 L177.5 -41.3 L180.0 -45.1 L182.4 -48.8 L184.9 -52.6 L187.4 -56.3 L189.8 -60.0 L192.3 -63.7 L194.8 -67.4 L197.2 -71.1 L199.7 -74.8 L202.2 -78.4 L204.6 -82.0 L207.1 -85.6 L209.6 -89.2 L212.0 -92.8 L214.5 -96.3 L217.0 -99.8 L219.4 -103.3 L221.9 -106.7 L224.4 -110.1 L226.8 -113.5 L229.3 -116.8 L231.8 -120.1 L234.2 -123.3 L236.7 -126.6 L239.2 -129.7 L241.6 -132.9 L244.1 -136.0 L246.6 -139.0 L249.0 -142.1 L251.5 -145.0 L254.0 -148.0 L256.4 -150.9 L258.9 -153.7 L261.4 -156.5 L263.8 -159.3 L266.3 -162.0 L268.8 -164.7 L271.2 -167.4 L273.7 -170.0 L276.2 -172.6 L278.6 -175.1 L281.1 -177.6 L283.6 -180.1 L286.0 -182.5 L288.5 -184.9 L291.0 -187.3 L293.4 -189.6 L295.9 -191.9 L298.4 -194.2 L300.8 -196.5 L303.3 -198.7 L305.8 -201.0 L308.2 -203.2 L310.7 -205.3 L313.2 -207.5 L315.6 -209.7 L318.1 -211.8 L320.6 -214.0 L323.0 -216.1 L325.5 -218.2 L325.5 -202.2 L323.0 -200.2 L320.6 -198.3 L318.1 -196.3 L315.6 -194.3 L313.2 -192.3 L310.7 -190.3 L308.2 -188.2 L305.8 -186.2 L303.3 -184.2 L300.8 -182.1 L298.4 -180.0 L295.9 -177.9 L293.4 -175.8 L291.0 -173.7 L288.5 -171.5 L286.0 -169.3 L283.6 -167.1 L281.1 -164.9 L278.6 -162.6 L276.2 -160.3 L273.7 -158.0 L271.2 -155.6 L268.8 -153.2 L266.3 -150.8 L263.8 -148.3 L261.4 -145.8 L258.9 -143.2 L256.4 -140.7 L254.0 -138.0 L251.5 -135.4 L249.0 -132.7 L246.6 -130.0 L244.1 -127.2 L241.6 -124.4 L239.2 -121.5 L236.7 -118.7 L234.2 -115.8 L231.8 -112.8 L229.3 -109.8 L226.8 -106.8 L224.4 -103.8 L221.9 -100.7 L219.4 -97.6 L217.0 -94.4 L214.5 -91.2 L212.0 -88.0 L209.6 -84.8 L207.1 -81.6 L204.6 -78.3 L202.2 -75.0 L199.7 -71.7 L197.2 -68.4 L194.8 -65.0 L192.3 -61.7 L189.8 -58.3 L187.4 -54.9 L184.9 -51.5 L182.4 -48.1 L180.0 -44.7 L177.5 -41.3 L175.0 -37.6 L172.6 -33.9 L170.1 -30.1 L167.6 -26.4 L165.2 -22.7 L162.7 -19.0 L160.2 -15.3 L157.8 -11.6 L155.3 -7.9 L152.8 -4.3 L150.4 -0.7 L147.9 2.9 L145.4 6.5 L143.0 10.1 L140.5 13.6 L138.0 17.1 L135.6 20.6 L133.1 24.0 L130.6 27.4 L128.2 30.8 L125.7 34.1 L123.2 37.4 L120.8 40.7 L118.3 43.9 L115.8 47.1 L113.4 50.2 L110.9 53.3 L108.4 56.4 L106.0 59.4 L103.5 62.3 L101.0 65.3 L98.6 68.2 L96.1 71.0 L93.6 73.8 L91.2 76.6 L88.7 79.3 L86.2 82.0 L83.8 84.7 L81.3 87.3 L78.8 89.9 L76.4 92.4 L73.9 94.9 L71.4 97.4 L69.0 99.8 L66.5 102.2 L64.0 104.6 L61.6 106.9 L59.1 109.2 L56.6 111.5 L54.2 113.8 L51.7 116.0 L49.2 118.3 L46.8 120.5 L44.3 122.7 L41.8 124.8 L39.4 127.0 L36.9 129.1 L34.4 131.3 L32.0 133.4 L29.5 135.5Z M29.5 65.3 L32.0 63.3 L34.4 61.3 L36.9 59.3 L39.4 57.3 L41.8 55.3 L44.3 53.3 L46.8 51.3 L49.2 49.2 L51.7 47.2 L54.2 45.1 L56.6 43.1 L59.1 41.0 L61.6 38.9 L64.0 36.7 L66.5 34.6 L69.0 32.4 L71.4 30.2 L73.9 27.9 L76.4 25.6 L78.8 23.3 L81.3 21.0 L83.8 18.6 L86.2 16.2 L88.7 13.8 L91.2 11.3 L93.6 8.8 L96.1 6.3 L98.6 3.7 L101.0 1.1 L103.5 -1.6 L106.0 -4.3 L108.4 -7.0 L110.9 -9.8 L113.4 -12.6 L115.8 -15.4 L118.3 -18.3 L120.8 -21.2 L123.2 -24.2 L125.7 -27.1 L128.2 -30.2 L130.6 -33.2 L133.1 -36.3 L135.6 -39.4 L138.0 -42.5 L140.5 -45.7 L143.0 -48.9 L145.4 -52.1 L147.9 -55.4 L150.4 -58.7 L152.8 -62.0 L155.3 -65.3 L157.8 -68.6 L160.2 -71.9 L162.7 -75.3 L165.2 -78.7 L167.6 -82.0 L170.1 -85.4 L172.6 -88.8 L175.0 -92.2 L177.5 -95.6 L180.0 -99.4 L182.4 -103.1 L184.9 -106.8 L187.4 -110.6 L189.8 -114.3 L192.3 -118.0 L194.8 -121.7 L197.2 -125.4 L199.7 -129.0 L202.2 -132.7 L204.6 -136.3 L207.1 -139.9 L209.6 -143.5 L212.0 -147.0 L214.5 -150.6 L217.0 -154.1 L219.4 -157.5 L221.9 -161.0 L224.4 -164.4 L226.8 -167.7 L229.3 -171.1 L231.8 -174.4 L234.2 -177.6 L236.7 -180.8 L239.2 -184.0 L241.6 -187.2 L244.1 -190.3 L246.6 -193.3 L249.0 -196.3 L251.5 -199.3 L254.0 -202.2 L256.4 -205.1 L258.9 -208.0 L261.4 -210.8 L263.8 -213.6 L266.3 -216.3 L268.8 -219.0 L271.2 -221.6 L273.7 -224.3 L276.2 -226.8 L278.6 -229.4 L281.1 -231.9 L283.6 -234.3 L286.0 -236.8 L288.5 -239.2 L291.0 -241.5 L293.4 -243.9 L295.9 -246.2 L298.4 -248.5 L300.8 -250.8 L303.3 -253.0 L305.8 -255.2 L308.2 -257.4 L310.7 -259.6 L313.2 -261.8 L315.6 -263.9 L318.1 -266.1 L320.6 -268.2 L323.0 -270.4 L325.5 -272.5 L325.5 -256.5 L323.0 -254.5 L320.6 -252.5 L318.1 -250.5 L315.6 -248.5 L313.2 -246.5 L310.7 -244.5 L308.2 -242.5 L305.8 -240.5 L303.3 -238.4 L300.8 -236.4 L298.4 -234.3 L295.9 -232.2 L293.4 -230.1 L291.0 -228.0 L288.5 -225.8 L286.0 -223.6 L283.6 -221.4 L281.1 -219.1 L278.6 -216.9 L276.2 -214.6 L273.7 -212.2 L271.2 -209.9 L268.8 -207.5 L266.3 -205.0 L263.8 -202.6 L261.4 -200.1 L258.9 -197.5 L256.4 -194.9 L254.0 -192.3 L251.5 -189.7 L249.0 -187.0 L246.6 -184.2 L244.1 -181.5 L241.6 -178.7 L239.2 -175.8 L236.7 -172.9 L234.2 -170.0 L231.8 -167.1 L229.3 -164.1 L226.8 -161.1 L224.4 -158.0 L221.9 -154.9 L219.4 -151.8 L217.0 -148.7 L214.5 -145.5 L212.0 -142.3 L209.6 -139.1 L207.1 -135.8 L204.6 -132.6 L202.2 -129.3 L199.7 -126.0 L197.2 -122.6 L194.8 -119.3 L192.3 -115.9 L189.8 -112.6 L187.4 -109.2 L184.9 -105.8 L182.4 -102.4 L180.0 -99.0 L177.5 -95.6 L175.0 -91.9 L172.6 -88.1 L170.1 -84.4 L167.6 -80.7 L165.2 -77.0 L162.7 -73.2 L160.2 -69.5 L157.8 -65.9 L155.3 -62.2 L152.8 -58.6 L150.4 -54.9 L147.9 -51.3 L145.4 -47.7 L143.0 -44.2 L140.5 -40.7 L138.0 -37.2 L135.6 -33.7 L133.1 -30.3 L130.6 -26.9 L128.2 -23.5 L125.7 -20.2 L123.2 -16.9 L120.8 -13.6 L118.3 -10.4 L115.8 -7.2 L113.4 -4.1 L110.9 -1.0 L108.4 2.1 L106.0 5.1 L103.5 8.1 L101.0 11.0 L98.6 13.9 L96.1 16.8 L93.6 19.6 L91.2 22.3 L88.7 25.1 L86.2 27.8 L83.8 30.4 L81.3 33.0 L78.8 35.6 L76.4 38.1 L73.9 40.6 L71.4 43.1 L69.0 45.5 L66.5 47.9 L64.0 50.3 L61.6 52.7 L59.1 55.0 L56.6 57.3 L54.2 59.5 L51.7 61.8 L49.2 64.0 L46.8 66.2 L44.3 68.4 L41.8 70.6 L39.4 72.7 L36.9 74.9 L34.4 77.0 L32.0 79.1 L29.5 81.3Z M29.5 11.0 L32.0 9.0 L34.4 7.0 L36.9 5.0 L39.4 3.0 L41.8 1.0 L44.3 -1.0 L46.8 -3.0 L49.2 -5.0 L51.7 -7.1 L54.2 -9.1 L56.6 -11.2 L59.1 -13.3 L61.6 -15.4 L64.0 -17.5 L66.5 -19.7 L69.0 -21.9 L71.4 -24.1 L73.9 -26.4 L76.4 -28.6 L78.8 -30.9 L81.3 -33.3 L83.8 -35.6 L86.2 -38.0 L88.7 -40.5 L91.2 -42.9 L93.6 -45.4 L96.1 -48.0 L98.6 -50.6 L101.0 -53.2 L103.5 -55.8 L106.0 -58.5 L108.4 -61.3 L110.9 -64.0 L113.4 -66.8 L115.8 -69.7 L118.3 -72.6 L120.8 -75.5 L123.2 -78.4 L125.7 -81.4 L128.2 -84.4 L130.6 -87.5 L133.1 -90.6 L135.6 -93.7 L138.0 -96.8 L140.5 -100.0 L143.0 -103.2 L145.4 -106.4 L147.9 -109.7 L150.4 -112.9 L152.8 -116.2 L155.3 -119.5 L157.8 -122.9 L160.2 -126.2 L162.7 -129.6 L165.2 -132.9 L167.6 -136.3 L170.1 -139.7 L172.6 -143.1 L175.0 -146.5 L177.5 -149.9 L180.0 -153.6 L182.4 -157.4 L184.9 -161.1 L187.4 -164.8 L189.8 -168.5 L192.3 -172.3 L194.8 -176.0 L197.2 -179.6 L199.7 -183.3 L202.2 -186.9 L204.6 -190.6 L207.1 -194.2 L209.6 -197.8 L212.0 -201.3 L214.5 -204.8 L217.0 -208.3 L219.4 -211.8 L221.9 -215.2 L224.4 -218.6 L226.8 -222.0 L229.3 -225.3 L231.8 -228.6 L234.2 -231.9 L236.7 -235.1 L239.2 -238.3 L241.6 -241.4 L244.1 -244.5 L246.6 -247.6 L249.0 -250.6 L251.5 -253.6 L254.0 -256.5 L256.4 -259.4 L258.9 -262.3 L261.4 -265.1 L263.8 -267.8 L266.3 -270.6 L268.8 -273.3 L271.2 -275.9 L273.7 -278.5 L276.2 -281.1 L278.6 -283.6 L281.1 -286.1 L283.6 -288.6 L286.0 -291.0 L288.5 -293.4 L291.0 -295.8 L293.4 -298.2 L295.9 -300.5 L298.4 -302.8 L300.8 -305.0 L303.3 -307.3 L305.8 -309.5 L308.2 -311.7 L310.7 -313.9 L313.2 -316.1 L315.6 -318.2 L318.1 -320.4 L320.6 -322.5 L323.0 -324.6 L325.5 -326.8 L325.5 -310.8 L323.0 -308.8 L320.6 -306.8 L318.1 -304.8 L315.6 -302.8 L313.2 -300.8 L310.7 -298.8 L308.2 -296.8 L305.8 -294.7 L303.3 -292.7 L300.8 -290.6 L298.4 -288.6 L295.9 -286.5 L293.4 -284.4 L291.0 -282.2 L288.5 -280.1 L286.0 -277.9 L283.6 -275.7 L281.1 -273.4 L278.6 -271.1 L276.2 -268.8 L273.7 -266.5 L271.2 -264.1 L268.8 -261.7 L266.3 -259.3 L263.8 -256.8 L261.4 -254.3 L258.9 -251.8 L256.4 -249.2 L254.0 -246.6 L251.5 -243.9 L249.0 -241.2 L246.6 -238.5 L244.1 -235.7 L241.6 -232.9 L239.2 -230.1 L236.7 -227.2 L234.2 -224.3 L231.8 -221.3 L229.3 -218.4 L226.8 -215.3 L224.4 -212.3 L221.9 -209.2 L219.4 -206.1 L217.0 -203.0 L214.5 -199.8 L212.0 -196.6 L209.6 -193.4 L207.1 -190.1 L204.6 -186.8 L202.2 -183.5 L199.7 -180.2 L197.2 -176.9 L194.8 -173.6 L192.3 -170.2 L189.8 -166.8 L187.4 -163.5 L184.9 -160.1 L182.4 -156.7 L180.0 -153.3 L177.5 -149.9 L175.0 -146.1 L172.6 -142.4 L170.1 -138.7 L167.6 -134.9 L165.2 -131.2 L162.7 -127.5 L160.2 -123.8 L157.8 -120.1 L155.3 -116.5 L152.8 -112.8 L150.4 -109.2 L147.9 -105.6 L145.4 -102.0 L143.0 -98.5 L140.5 -94.9 L138.0 -91.4 L135.6 -88.0 L133.1 -84.5 L130.6 -81.1 L128.2 -77.8 L125.7 -74.4 L123.2 -71.1 L120.8 -67.9 L118.3 -64.7 L115.8 -61.5 L113.4 -58.3 L110.9 -55.2 L108.4 -52.2 L106.0 -49.2 L103.5 -46.2 L101.0 -43.3 L98.6 -40.4 L96.1 -37.5 L93.6 -34.7 L91.2 -31.9 L88.7 -29.2 L86.2 -26.5 L83.8 -23.9 L81.3 -21.2 L78.8 -18.7 L76.4 -16.1 L73.9 -13.6 L71.4 -11.2 L69.0 -8.7 L66.5 -6.3 L64.0 -4.0 L61.6 -1.6 L59.1 0.7 L56.6 3.0 L54.2 5.3 L51.7 7.5 L49.2 9.7 L46.8 11.9 L44.3 14.1 L41.8 16.3 L39.4 18.4 L36.9 20.6 L34.4 22.7 L32.0 24.9 L29.5 27.0Z" fill="#ffd83d" stroke="none"/>
<path d="M29.5 624.0 L32.0 621.8 L34.4 619.7 L36.9 617.6 L39.4 615.4 L41.8 613.3 L44.3 611.1 L46.8 608.9 L49.2 606.7 L51.7 604.5 L54.2 602.2 L56.6 600.0 L59.1 597.7 L61.6 595.4 L64.0 593.0 L66.5 590.6 L69.0 588.2 L71.4 585.8 L73.9 583.3 L76.4 580.8 L78.8 578.3 L81.3 575.7 L83.8 573.1 L86.2 570.5 L88.7 567.8 L91.2 565.0 L93.6 562.3 L96.1 559.5 L98.6 556.6 L101.0 553.7 L103.5 550.8 L106.0 547.8 L108.4 544.8 L110.9 541.7 L113.4 538.6 L115.8 535.5 L118.3 532.3 L120.8 529.1 L123.2 525.8 L125.7 522.5 L128.2 519.2 L130.6 515.8 L133.1 512.4 L135.6 509.0 L138.0 505.5 L140.5 502.0 L143.0 498.5 L145.4 495.0 L147.9 491.4 L150.4 487.8 L152.8 484.1 L155.3 480.5 L157.8 476.8 L160.2 473.2 L162.7 469.5 L165.2 465.7 L167.6 462.0 L170.1 458.3 L172.6 454.6 L175.0 450.8 L177.5 447.1 L180.0 443.7 L182.4 440.3 L184.9 436.9 L187.4 433.5 L189.8 430.1 L192.3 426.8 L194.8 423.4 L197.2 420.1 L199.7 416.7 L202.2 413.4 L204.6 410.1 L207.1 406.9 L209.6 403.6 L212.0 400.4 L214.5 397.2 L217.0 394.0 L219.4 390.9 L221.9 387.8 L224.4 384.7 L226.8 381.6 L229.3 378.6 L231.8 375.6 L234.2 372.7 L236.7 369.8 L239.2 366.9 L241.6 364.0 L244.1 361.2 L246.6 358.5 L249.0 355.7 L251.5 353.0 L254.0 350.4 L256.4 347.8 L258.9 345.2 L261.4 342.6 L263.8 340.1 L266.3 337.7 L268.8 335.2 L271.2 332.8 L273.7 330.5 L276.2 328.1 L278.6 325.8 L281.1 323.6 L283.6 321.3 L286.0 319.1 L288.5 316.9 L291.0 314.7 L293.4 312.6 L295.9 310.5 L298.4 308.4 L300.8 306.3 L303.3 304.3 L305.8 302.2 L308.2 300.2 L310.7 298.2 L313.2 296.2 L315.6 294.2 L318.1 292.2 L320.6 290.2 L323.0 288.2 L325.5 286.2 M29.5 569.7 L32.0 567.6 L34.4 565.4 L36.9 563.3 L39.4 561.1 L41.8 559.0 L44.3 556.8 L46.8 554.6 L49.2 552.4 L51.7 550.2 L54.2 548.0 L56.6 545.7 L59.1 543.4 L61.6 541.1 L64.0 538.7 L66.5 536.4 L69.0 534.0 L71.4 531.5 L73.9 529.1 L76.4 526.6 L78.8 524.0 L81.3 521.5 L83.8 518.8 L86.2 516.2 L88.7 513.5 L91.2 510.8 L93.6 508.0 L96.1 505.2 L98.6 502.3 L101.0 499.4 L103.5 496.5 L106.0 493.5 L108.4 490.5 L110.9 487.5 L113.4 484.4 L115.8 481.2 L118.3 478.0 L120.8 474.8 L123.2 471.6 L125.7 468.3 L128.2 464.9 L130.6 461.6 L133.1 458.2 L135.6 454.7 L138.0 451.3 L140.5 447.8 L143.0 444.2 L145.4 440.7 L147.9 437.1 L150.4 433.5 L152.8 429.9 L155.3 426.2 L157.8 422.6 L160.2 418.9 L162.7 415.2 L165.2 411.5 L167.6 407.8 L170.1 404.0 L172.6 400.3 L175.0 396.6 L177.5 392.8 L180.0 389.4 L182.4 386.0 L184.9 382.6 L187.4 379.2 L189.8 375.9 L192.3 372.5 L194.8 369.1 L197.2 365.8 L199.7 362.5 L202.2 359.2 L204.6 355.9 L207.1 352.6 L209.6 349.3 L212.0 346.1 L214.5 342.9 L217.0 339.7 L219.4 336.6 L221.9 333.5 L224.4 330.4 L226.8 327.4 L229.3 324.3 L231.8 321.4 L234.2 318.4 L236.7 315.5 L239.2 312.6 L241.6 309.8 L244.1 307.0 L246.6 304.2 L249.0 301.5 L251.5 298.8 L254.0 296.1 L256.4 293.5 L258.9 290.9 L261.4 288.4 L263.8 285.9 L266.3 283.4 L268.8 281.0 L271.2 278.6 L273.7 276.2 L276.2 273.9 L278.6 271.6 L281.1 269.3 L283.6 267.0 L286.0 264.8 L288.5 262.6 L291.0 260.5 L293.4 258.3 L295.9 256.2 L298.4 254.1 L300.8 252.1 L303.3 250.0 L305.8 248.0 L308.2 245.9 L310.7 243.9 L313.2 241.9 L315.6 239.9 L318.1 237.9 L320.6 235.9 L323.0 233.9 L325.5 231.9 M29.5 515.4 L32.0 513.3 L34.4 511.2 L36.9 509.0 L39.4 506.9 L41.8 504.7 L44.3 502.5 L46.8 500.4 L49.2 498.2 L51.7 495.9 L54.2 493.7 L56.6 491.4 L59.1 489.1 L61.6 486.8 L64.0 484.5 L66.5 482.1 L69.0 479.7 L71.4 477.3 L73.9 474.8 L76.4 472.3 L78.8 469.8 L81.3 467.2 L83.8 464.6 L86.2 461.9 L88.7 459.2 L91.2 456.5 L93.6 453.7 L96.1 450.9 L98.6 448.1 L101.0 445.2 L103.5 442.2 L106.0 439.3 L108.4 436.2 L110.9 433.2 L113.4 430.1 L115.8 426.9 L118.3 423.8 L120.8 420.5 L123.2 417.3 L125.7 414.0 L128.2 410.7 L130.6 407.3 L133.1 403.9 L135.6 400.5 L138.0 397.0 L140.5 393.5 L143.0 390.0 L145.4 386.4 L147.9 382.8 L150.4 379.2 L152.8 375.6 L155.3 372.0 L157.8 368.3 L160.2 364.6 L162.7 360.9 L165.2 357.2 L167.6 353.5 L170.1 349.8 L172.6 346.0 L175.0 342.3 L177.5 338.5 L180.0 335.1 L182.4 331.7 L184.9 328.4 L187.4 325.0 L189.8 321.6 L192.3 318.2 L194.8 314.9 L197.2 311.5 L199.7 308.2 L202.2 304.9 L204.6 301.6 L207.1 298.3 L209.6 295.1 L212.0 291.9 L214.5 288.7 L217.0 285.5 L219.4 282.3 L221.9 279.2 L224.4 276.1 L226.8 273.1 L229.3 270.1 L231.8 267.1 L234.2 264.1 L236.7 261.2 L239.2 258.3 L241.6 255.5 L244.1 252.7 L246.6 249.9 L249.0 247.2 L251.5 244.5 L254.0 241.8 L256.4 239.2 L258.9 236.6 L261.4 234.1 L263.8 231.6 L266.3 229.1 L268.8 226.7 L271.2 224.3 L273.7 221.9 L276.2 219.6 L278.6 217.3 L281.1 215.0 L283.6 212.8 L286.0 210.6 L288.5 208.4 L291.0 206.2 L293.4 204.1 L295.9 202.0 L298.4 199.9 L300.8 197.8 L303.3 195.7 L305.8 193.7 L308.2 191.7 L310.7 189.6 L313.2 187.6 L315.6 185.6 L318.1 183.6 L320.6 181.6 L323.0 179.6 L325.5 177.7 M29.5 461.2 L32.0 459.0 L34.4 456.9 L36.9 454.8 L39.4 452.6 L41.8 450.4 L44.3 448.3 L46.8 446.1 L49.2 443.9 L51.7 441.7 L54.2 439.4 L56.6 437.2 L59.1 434.9 L61.6 432.5 L64.0 430.2 L66.5 427.8 L69.0 425.4 L71.4 423.0 L73.9 420.5 L76.4 418.0 L78.8 415.5 L81.3 412.9 L83.8 410.3 L86.2 407.6 L88.7 405.0 L91.2 402.2 L93.6 399.5 L96.1 396.6 L98.6 393.8 L101.0 390.9 L103.5 388.0 L106.0 385.0 L108.4 382.0 L110.9 378.9 L113.4 375.8 L115.8 372.7 L118.3 369.5 L120.8 366.3 L123.2 363.0 L125.7 359.7 L128.2 356.4 L130.6 353.0 L133.1 349.6 L135.6 346.2 L138.0 342.7 L140.5 339.2 L143.0 335.7 L145.4 332.1 L147.9 328.6 L150.4 325.0 L152.8 321.3 L155.3 317.7 L157.8 314.0 L160.2 310.3 L162.7 306.6 L165.2 302.9 L167.6 299.2 L170.1 295.5 L172.6 291.8 L175.0 288.0 L177.5 284.3 L180.0 280.9 L182.4 277.5 L184.9 274.1 L187.4 270.7 L189.8 267.3 L192.3 264.0 L194.8 260.6 L197.2 257.3 L199.7 253.9 L202.2 250.6 L204.6 247.3 L207.1 244.1 L209.6 240.8 L212.0 237.6 L214.5 234.4 L217.0 231.2 L219.4 228.1 L221.9 225.0 L224.4 221.9 L226.8 218.8 L229.3 215.8 L231.8 212.8 L234.2 209.9 L236.7 206.9 L239.2 204.1 L241.6 201.2 L244.1 198.4 L246.6 195.7 L249.0 192.9 L251.5 190.2 L254.0 187.6 L256.4 185.0 L258.9 182.4 L261.4 179.8 L263.8 177.3 L266.3 174.9 L268.8 172.4 L271.2 170.0 L273.7 167.7 L276.2 165.3 L278.6 163.0 L281.1 160.7 L283.6 158.5 L286.0 156.3 L288.5 154.1 L291.0 151.9 L293.4 149.8 L295.9 147.7 L298.4 145.6 L300.8 143.5 L303.3 141.5 L305.8 139.4 L308.2 137.4 L310.7 135.4 L313.2 133.4 L315.6 131.4 L318.1 129.4 L320.6 127.4 L323.0 125.4 L325.5 123.4 M29.5 406.9 L32.0 404.8 L34.4 402.6 L36.9 400.5 L39.4 398.3 L41.8 396.2 L44.3 394.0 L46.8 391.8 L49.2 389.6 L51.7 387.4 L54.2 385.1 L56.6 382.9 L59.1 380.6 L61.6 378.3 L64.0 375.9 L66.5 373.6 L69.0 371.2 L71.4 368.7 L73.9 366.3 L76.4 363.8 L78.8 361.2 L81.3 358.6 L83.8 356.0 L86.2 353.4 L88.7 350.7 L91.2 348.0 L93.6 345.2 L96.1 342.4 L98.6 339.5 L101.0 336.6 L103.5 333.7 L106.0 330.7 L108.4 327.7 L110.9 324.6 L113.4 321.5 L115.8 318.4 L118.3 315.2 L120.8 312.0 L123.2 308.8 L125.7 305.5 L128.2 302.1 L130.6 298.8 L133.1 295.4 L135.6 291.9 L138.0 288.5 L140.5 285.0 L143.0 281.4 L145.4 277.9 L147.9 274.3 L150.4 270.7 L152.8 267.1 L155.3 263.4 L157.8 259.8 L160.2 256.1 L162.7 252.4 L165.2 248.7 L167.6 244.9 L170.1 241.2 L172.6 237.5 L175.0 233.7 L177.5 230.0 L180.0 226.6 L182.4 223.2 L184.9 219.8 L187.4 216.4 L189.8 213.1 L192.3 209.7 L194.8 206.3 L197.2 203.0 L199.7 199.7 L202.2 196.3 L204.6 193.1 L207.1 189.8 L209.6 186.5 L212.0 183.3 L214.5 180.1 L217.0 176.9 L219.4 173.8 L221.9 170.7 L224.4 167.6 L226.8 164.5 L229.3 161.5 L231.8 158.5 L234.2 155.6 L236.7 152.7 L239.2 149.8 L241.6 147.0 L244.1 144.2 L246.6 141.4 L249.0 138.7 L251.5 136.0 L254.0 133.3 L256.4 130.7 L258.9 128.1 L261.4 125.6 L263.8 123.1 L266.3 120.6 L268.8 118.1 L271.2 115.7 L273.7 113.4 L276.2 111.0 L278.6 108.7 L281.1 106.5 L283.6 104.2 L286.0 102.0 L288.5 99.8 L291.0 97.7 L293.4 95.5 L295.9 93.4 L298.4 91.3 L300.8 89.2 L303.3 87.2 L305.8 85.1 L308.2 83.1 L310.7 81.1 L313.2 79.1 L315.6 77.1 L318.1 75.1 L320.6 73.1 L323.0 71.1 L325.5 69.1 M29.5 352.6 L32.0 350.5 L34.4 348.4 L36.9 346.2 L39.4 344.1 L41.8 341.9 L44.3 339.7 L46.8 337.5 L49.2 335.3 L51.7 333.1 L54.2 330.9 L56.6 328.6 L59.1 326.3 L61.6 324.0 L64.0 321.7 L66.5 319.3 L69.0 316.9 L71.4 314.5 L73.9 312.0 L76.4 309.5 L78.8 306.9 L81.3 304.4 L83.8 301.8 L86.2 299.1 L88.7 296.4 L91.2 293.7 L93.6 290.9 L96.1 288.1 L98.6 285.3 L101.0 282.4 L103.5 279.4 L106.0 276.5 L108.4 273.4 L110.9 270.4 L113.4 267.3 L115.8 264.1 L118.3 261.0 L120.8 257.7 L123.2 254.5 L125.7 251.2 L128.2 247.9 L130.6 244.5 L133.1 241.1 L135.6 237.7 L138.0 234.2 L140.5 230.7 L143.0 227.2 L145.4 223.6 L147.9 220.0 L150.4 216.4 L152.8 212.8 L155.3 209.1 L157.8 205.5 L160.2 201.8 L162.7 198.1 L165.2 194.4 L167.6 190.7 L170.1 186.9 L172.6 183.2 L175.0 179.5 L177.5 175.7 L180.0 172.3 L182.4 168.9 L184.9 165.5 L187.4 162.2 L189.8 158.8 L192.3 155.4 L194.8 152.1 L197.2 148.7 L199.7 145.4 L202.2 142.1 L204.6 138.8 L207.1 135.5 L209.6 132.3 L212.0 129.0 L214.5 125.8 L217.0 122.7 L219.4 119.5 L221.9 116.4 L224.4 113.3 L226.8 110.3 L229.3 107.3 L231.8 104.3 L234.2 101.3 L236.7 98.4 L239.2 95.5 L241.6 92.7 L244.1 89.9 L246.6 87.1 L249.0 84.4 L251.5 81.7 L254.0 79.0 L256.4 76.4 L258.9 73.8 L261.4 71.3 L263.8 68.8 L266.3 66.3 L268.8 63.9 L271.2 61.5 L273.7 59.1 L276.2 56.8 L278.6 54.5 L281.1 52.2 L283.6 50.0 L286.0 47.7 L288.5 45.6 L291.0 43.4 L293.4 41.3 L295.9 39.1 L298.4 37.1 L300.8 35.0 L303.3 32.9 L305.8 30.9 L308.2 28.8 L310.7 26.8 L313.2 24.8 L315.6 22.8 L318.1 20.8 L320.6 18.8 L323.0 16.8 L325.5 14.8 M29.5 298.3 L32.0 296.2 L34.4 294.1 L36.9 291.9 L39.4 289.8 L41.8 287.6 L44.3 285.5 L46.8 283.3 L49.2 281.1 L51.7 278.9 L54.2 276.6 L56.6 274.3 L59.1 272.1 L61.6 269.7 L64.0 267.4 L66.5 265.0 L69.0 262.6 L71.4 260.2 L73.9 257.7 L76.4 255.2 L78.8 252.7 L81.3 250.1 L83.8 247.5 L86.2 244.8 L88.7 242.1 L91.2 239.4 L93.6 236.6 L96.1 233.8 L98.6 231.0 L101.0 228.1 L103.5 225.2 L106.0 222.2 L108.4 219.2 L110.9 216.1 L113.4 213.0 L115.8 209.9 L118.3 206.7 L120.8 203.5 L123.2 200.2 L125.7 196.9 L128.2 193.6 L130.6 190.2 L133.1 186.8 L135.6 183.4 L138.0 179.9 L140.5 176.4 L143.0 172.9 L145.4 169.3 L147.9 165.8 L150.4 162.2 L152.8 158.5 L155.3 154.9 L157.8 151.2 L160.2 147.5 L162.7 143.8 L165.2 140.1 L167.6 136.4 L170.1 132.7 L172.6 128.9 L175.0 125.2 L177.5 121.5 L180.0 118.1 L182.4 114.7 L184.9 111.3 L187.4 107.9 L189.8 104.5 L192.3 101.1 L194.8 97.8 L197.2 94.4 L199.7 91.1 L202.2 87.8 L204.6 84.5 L207.1 81.2 L209.6 78.0 L212.0 74.8 L214.5 71.6 L217.0 68.4 L219.4 65.3 L221.9 62.1 L224.4 59.1 L226.8 56.0 L229.3 53.0 L231.8 50.0 L234.2 47.1 L236.7 44.1 L239.2 41.3 L241.6 38.4 L244.1 35.6 L246.6 32.8 L249.0 30.1 L251.5 27.4 L254.0 24.8 L256.4 22.1 L258.9 19.6 L261.4 17.0 L263.8 14.5 L266.3 12.0 L268.8 9.6 L271.2 7.2 L273.7 4.8 L276.2 2.5 L278.6 0.2 L281.1 -2.1 L283.6 -4.3 L286.0 -6.5 L288.5 -8.7 L291.0 -10.9 L293.4 -13.0 L295.9 -15.1 L298.4 -17.2 L300.8 -19.3 L303.3 -21.4 L305.8 -23.4 L308.2 -25.4 L310.7 -27.4 L313.2 -29.5 L315.6 -31.5 L318.1 -33.5 L320.6 -35.4 L323.0 -37.4 L325.5 -39.4 M29.5 244.1 L32.0 241.9 L34.4 239.8 L36.9 237.7 L39.4 235.5 L41.8 233.4 L44.3 231.2 L46.8 229.0 L49.2 226.8 L51.7 224.6 L54.2 222.3 L56.6 220.1 L59.1 217.8 L61.6 215.5 L64.0 213.1 L66.5 210.8 L69.0 208.3 L71.4 205.9 L73.9 203.4 L76.4 200.9 L78.8 198.4 L81.3 195.8 L83.8 193.2 L86.2 190.6 L88.7 187.9 L91.2 185.1 L93.6 182.4 L96.1 179.6 L98.6 176.7 L101.0 173.8 L103.5 170.9 L106.0 167.9 L108.4 164.9 L110.9 161.8 L113.4 158.7 L115.8 155.6 L118.3 152.4 L120.8 149.2 L123.2 145.9 L125.7 142.6 L128.2 139.3 L130.6 135.9 L133.1 132.5 L135.6 129.1 L138.0 125.6 L140.5 122.1 L143.0 118.6 L145.4 115.1 L147.9 111.5 L150.4 107.9 L152.8 104.3 L155.3 100.6 L157.8 96.9 L160.2 93.3 L162.7 89.6 L165.2 85.9 L167.6 82.1 L170.1 78.4 L172.6 74.7 L175.0 70.9 L177.5 67.2 L180.0 63.8 L182.4 60.4 L184.9 57.0 L187.4 53.6 L189.8 50.2 L192.3 46.9 L194.8 43.5 L197.2 40.2 L199.7 36.8 L202.2 33.5 L204.6 30.2 L207.1 27.0 L209.6 23.7 L212.0 20.5 L214.5 17.3 L217.0 14.1 L219.4 11.0 L221.9 7.9 L224.4 4.8 L226.8 1.7 L229.3 -1.3 L231.8 -4.3 L234.2 -7.2 L236.7 -10.1 L239.2 -13.0 L241.6 -15.9 L244.1 -18.7 L246.6 -21.4 L249.0 -24.2 L251.5 -26.8 L254.0 -29.5 L256.4 -32.1 L258.9 -34.7 L261.4 -37.2 L263.8 -39.8 L266.3 -42.2 L268.8 -44.7 L271.2 -47.1 L273.7 -49.4 L276.2 -51.8 L278.6 -54.1 L281.1 -56.3 L283.6 -58.6 L286.0 -60.8 L288.5 -63.0 L291.0 -65.1 L293.4 -67.3 L295.9 -69.4 L298.4 -71.5 L300.8 -73.6 L303.3 -75.6 L305.8 -77.7 L308.2 -79.7 L310.7 -81.7 L313.2 -83.7 L315.6 -85.7 L318.1 -87.7 L320.6 -89.7 L323.0 -91.7 L325.5 -93.7 M29.5 189.8 L32.0 187.7 L34.4 185.5 L36.9 183.4 L39.4 181.3 L41.8 179.1 L44.3 176.9 L46.8 174.7 L49.2 172.5 L51.7 170.3 L54.2 168.1 L56.6 165.8 L59.1 163.5 L61.6 161.2 L64.0 158.9 L66.5 156.5 L69.0 154.1 L71.4 151.6 L73.9 149.2 L76.4 146.7 L78.8 144.1 L81.3 141.6 L83.8 138.9 L86.2 136.3 L88.7 133.6 L91.2 130.9 L93.6 128.1 L96.1 125.3 L98.6 122.4 L101.0 119.6 L103.5 116.6 L106.0 113.6 L108.4 110.6 L110.9 107.6 L113.4 104.5 L115.8 101.3 L118.3 98.1 L120.8 94.9 L123.2 91.7 L125.7 88.4 L128.2 85.0 L130.6 81.7 L133.1 78.3 L135.6 74.8 L138.0 71.4 L140.5 67.9 L143.0 64.3 L145.4 60.8 L147.9 57.2 L150.4 53.6 L152.8 50.0 L155.3 46.3 L157.8 42.7 L160.2 39.0 L162.7 35.3 L165.2 31.6 L167.6 27.9 L170.1 24.1 L172.6 20.4 L175.0 16.7 L177.5 12.9 L180.0 9.5 L182.4 6.1 L184.9 2.7 L187.4 -0.6 L189.8 -4.0 L192.3 -7.4 L194.8 -10.8 L197.2 -14.1 L199.7 -17.4 L202.2 -20.7 L204.6 -24.0 L207.1 -27.3 L209.6 -30.5 L212.0 -33.8 L214.5 -37.0 L217.0 -40.1 L219.4 -43.3 L221.9 -46.4 L224.4 -49.5 L226.8 -52.5 L229.3 -55.6 L231.8 -58.5 L234.2 -61.5 L236.7 -64.4 L239.2 -67.3 L241.6 -70.1 L244.1 -72.9 L246.6 -75.7 L249.0 -78.4 L251.5 -81.1 L254.0 -83.8 L256.4 -86.4 L258.9 -89.0 L261.4 -91.5 L263.8 -94.0 L266.3 -96.5 L268.8 -98.9 L271.2 -101.3 L273.7 -103.7 L276.2 -106.0 L278.6 -108.3 L281.1 -110.6 L283.6 -112.8 L286.0 -115.1 L288.5 -117.3 L291.0 -119.4 L293.4 -121.5 L295.9 -123.7 L298.4 -125.8 L300.8 -127.8 L303.3 -129.9 L305.8 -131.9 L308.2 -134.0 L310.7 -136.0 L313.2 -138.0 L315.6 -140.0 L318.1 -142.0 L320.6 -144.0 L323.0 -146.0 L325.5 -148.0 M29.5 135.5 L32.0 133.4 L34.4 131.3 L36.9 129.1 L39.4 127.0 L41.8 124.8 L44.3 122.7 L46.8 120.5 L49.2 118.3 L51.7 116.0 L54.2 113.8 L56.6 111.5 L59.1 109.2 L61.6 106.9 L64.0 104.6 L66.5 102.2 L69.0 99.8 L71.4 97.4 L73.9 94.9 L76.4 92.4 L78.8 89.9 L81.3 87.3 L83.8 84.7 L86.2 82.0 L88.7 79.3 L91.2 76.6 L93.6 73.8 L96.1 71.0 L98.6 68.2 L101.0 65.3 L103.5 62.3 L106.0 59.4 L108.4 56.4 L110.9 53.3 L113.4 50.2 L115.8 47.1 L118.3 43.9 L120.8 40.7 L123.2 37.4 L125.7 34.1 L128.2 30.8 L130.6 27.4 L133.1 24.0 L135.6 20.6 L138.0 17.1 L140.5 13.6 L143.0 10.1 L145.4 6.5 L147.9 2.9 L150.4 -0.7 L152.8 -4.3 L155.3 -7.9 L157.8 -11.6 L160.2 -15.3 L162.7 -19.0 L165.2 -22.7 L167.6 -26.4 L170.1 -30.1 L172.6 -33.9 L175.0 -37.6 L177.5 -41.3 L180.0 -44.7 L182.4 -48.1 L184.9 -51.5 L187.4 -54.9 L189.8 -58.3 L192.3 -61.7 L194.8 -65.0 L197.2 -68.4 L199.7 -71.7 L202.2 -75.0 L204.6 -78.3 L207.1 -81.6 L209.6 -84.8 L212.0 -88.0 L214.5 -91.2 L217.0 -94.4 L219.4 -97.6 L221.9 -100.7 L224.4 -103.8 L226.8 -106.8 L229.3 -109.8 L231.8 -112.8 L234.2 -115.8 L236.7 -118.7 L239.2 -121.5 L241.6 -124.4 L244.1 -127.2 L246.6 -130.0 L249.0 -132.7 L251.5 -135.4 L254.0 -138.0 L256.4 -140.7 L258.9 -143.2 L261.4 -145.8 L263.8 -148.3 L266.3 -150.8 L268.8 -153.2 L271.2 -155.6 L273.7 -158.0 L276.2 -160.3 L278.6 -162.6 L281.1 -164.9 L283.6 -167.1 L286.0 -169.3 L288.5 -171.5 L291.0 -173.7 L293.4 -175.8 L295.9 -177.9 L298.4 -180.0 L300.8 -182.1 L303.3 -184.2 L305.8 -186.2 L308.2 -188.2 L310.7 -190.3 L313.2 -192.3 L315.6 -194.3 L318.1 -196.3 L320.6 -198.3 L323.0 -200.2 L325.5 -202.2 M29.5 81.3 L32.0 79.1 L34.4 77.0 L36.9 74.9 L39.4 72.7 L41.8 70.6 L44.3 68.4 L46.8 66.2 L49.2 64.0 L51.7 61.8 L54.2 59.5 L56.6 57.3 L59.1 55.0 L61.6 52.7 L64.0 50.3 L66.5 47.9 L69.0 45.5 L71.4 43.1 L73.9 40.6 L76.4 38.1 L78.8 35.6 L81.3 33.0 L83.8 30.4 L86.2 27.8 L88.7 25.1 L91.2 22.3 L93.6 19.6 L96.1 16.8 L98.6 13.9 L101.0 11.0 L103.5 8.1 L106.0 5.1 L108.4 2.1 L110.9 -1.0 L113.4 -4.1 L115.8 -7.2 L118.3 -10.4 L120.8 -13.6 L123.2 -16.9 L125.7 -20.2 L128.2 -23.5 L130.6 -26.9 L133.1 -30.3 L135.6 -33.7 L138.0 -37.2 L140.5 -40.7 L143.0 -44.2 L145.4 -47.7 L147.9 -51.3 L150.4 -54.9 L152.8 -58.6 L155.3 -62.2 L157.8 -65.9 L160.2 -69.5 L162.7 -73.2 L165.2 -77.0 L167.6 -80.7 L170.1 -84.4 L172.6 -88.1 L175.0 -91.9 L177.5 -95.6 L180.0 -99.0 L182.4 -102.4 L184.9 -105.8 L187.4 -109.2 L189.8 -112.6 L192.3 -115.9 L194.8 -119.3 L197.2 -122.6 L199.7 -126.0 L202.2 -129.3 L204.6 -132.6 L207.1 -135.8 L209.6 -139.1 L212.0 -142.3 L214.5 -145.5 L217.0 -148.7 L219.4 -151.8 L221.9 -154.9 L224.4 -158.0 L226.8 -161.1 L229.3 -164.1 L231.8 -167.1 L234.2 -170.0 L236.7 -172.9 L239.2 -175.8 L241.6 -178.7 L244.1 -181.5 L246.6 -184.2 L249.0 -187.0 L251.5 -189.7 L254.0 -192.3 L256.4 -194.9 L258.9 -197.5 L261.4 -200.1 L263.8 -202.6 L266.3 -205.0 L268.8 -207.5 L271.2 -209.9 L273.7 -212.2 L276.2 -214.6 L278.6 -216.9 L281.1 -219.1 L283.6 -221.4 L286.0 -223.6 L288.5 -225.8 L291.0 -228.0 L293.4 -230.1 L295.9 -232.2 L298.4 -234.3 L300.8 -236.4 L303.3 -238.4 L305.8 -240.5 L308.2 -242.5 L310.7 -244.5 L313.2 -246.5 L315.6 -248.5 L318.1 -250.5 L320.6 -252.5 L323.0 -254.5 L325.5 -256.5 M29.5 27.0 L32.0 24.9 L34.4 22.7 L36.9 20.6 L39.4 18.4 L41.8 16.3 L44.3 14.1 L46.8 11.9 L49.2 9.7 L51.7 7.5 L54.2 5.3 L56.6 3.0 L59.1 0.7 L61.6 -1.6 L64.0 -4.0 L66.5 -6.3 L69.0 -8.7 L71.4 -11.2 L73.9 -13.6 L76.4 -16.1 L78.8 -18.7 L81.3 -21.2 L83.8 -23.9 L86.2 -26.5 L88.7 -29.2 L91.2 -31.9 L93.6 -34.7 L96.1 -37.5 L98.6 -40.4 L101.0 -43.3 L103.5 -46.2 L106.0 -49.2 L108.4 -52.2 L110.9 -55.2 L113.4 -58.3 L115.8 -61.5 L118.3 -64.7 L120.8 -67.9 L123.2 -71.1 L125.7 -74.4 L128.2 -77.8 L130.6 -81.1 L133.1 -84.5 L135.6 -88.0 L138.0 -91.4 L140.5 -94.9 L143.0 -98.5 L145.4 -102.0 L147.9 -105.6 L150.4 -109.2 L152.8 -112.8 L155.3 -116.5 L157.8 -120.1 L160.2 -123.8 L162.7 -127.5 L165.2 -131.2 L167.6 -134.9 L170.1 -138.7 L172.6 -142.4 L175.0 -146.1 L177.5 -149.9 L180.0 -153.3 L182.4 -156.7 L184.9 -160.1 L187.4 -163.5 L189.8 -166.8 L192.3 -170.2 L194.8 -173.6 L197.2 -176.9 L199.7 -180.2 L202.2 -183.5 L204.6 -186.8 L207.1 -190.1 L209.6 -193.4 L212.0 -196.6 L214.5 -199.8 L217.0 -203.0 L219.4 -206.1 L221.9 -209.2 L224.4 -212.3 L226.8 -215.3 L229.3 -218.4 L231.8 -221.3 L234.2 -224.3 L236.7 -227.2 L239.2 -230.1 L241.6 -232.9 L244.1 -235.7 L246.6 -238.5 L249.0 -241.2 L251.5 -243.9 L254.0 -246.6 L256.4 -249.2 L258.9 -251.8 L261.4 -254.3 L263.8 -256.8 L266.3 -259.3 L268.8 -261.7 L271.2 -264.1 L273.7 -266.5 L276.2 -268.8 L278.6 -271.1 L281.1 -273.4 L283.6 -275.7 L286.0 -277.9 L288.5 -280.1 L291.0 -282.2 L293.4 -284.4 L295.9 -286.5 L298.4 -288.6 L300.8 -290.6 L303.3 -292.7 L305.8 -294.7 L308.2 -296.8 L310.7 -298.8 L313.2 -300.8 L315.6 -302.8 L318.1 -304.8 L320.6 -306.8 L323.0 -308.8 L325.5 -310.8" fill="none" stroke="#0000ff" stroke-width="2.20"/>
<path d="M29.5 608.0 L32.0 606.0 L34.4 604.0 L36.9 602.0 L39.4 600.0 L41.8 598.0 L44.3 596.0 L46.8 594.0 L49.2 591.9 L51.7 589.9 L54.2 587.8 L56.6 585.8 L59.1 583.7 L61.6 581.6 L64.0 579.4 L66.5 577.3 L69.0 575.1 L71.4 572.9 L73.9 570.6 L76.4 568.3 L78.8 566.0 L81.3 563.7 L83.8 561.3 L86.2 558.9 L88.7 556.5 L91.2 554.0 L93.6 551.5 L96.1 549.0 L98.6 546.4 L101.0 543.8 L103.5 541.1 L106.0 538.4 L108.4 535.7 L110.9 532.9 L113.4 530.1 L115.8 527.3 L118.3 524.4 L120.8 521.5 L123.2 518.5 L125.7 515.6 L128.2 512.5 L130.6 509.5 L133.1 506.4 L135.6 503.3 L138.0 500.2 L140.5 497.0 L143.0 493.8 L145.4 490.6 L147.9 487.3 L150.4 484.0 L152.8 480.7 L155.3 477.4 L157.8 474.1 L160.2 470.8 L162.7 467.4 L165.2 464.0 L167.6 460.7 L170.1 457.3 L172.6 453.9 L175.0 450.5 L177.5 447.1 L180.0 443.3 L182.4 439.6 L184.9 435.9 L187.4 432.1 L189.8 428.4 L192.3 424.7 L194.8 421.0 L197.2 417.3 L199.7 413.7 L202.2 410.0 L204.6 406.4 L207.1 402.8 L209.6 399.2 L212.0 395.7 L214.5 392.1 L217.0 388.6 L219.4 385.2 L221.9 381.7 L224.4 378.3 L226.8 375.0 L229.3 371.6 L231.8 368.3 L234.2 365.1 L236.7 361.9 L239.2 358.7 L241.6 355.5 L244.1 352.4 L246.6 349.4 L249.0 346.4 L251.5 343.4 L254.0 340.5 L256.4 337.6 L258.9 334.7 L261.4 331.9 L263.8 329.1 L266.3 326.4 L268.8 323.7 L271.2 321.1 L273.7 318.4 L276.2 315.9 L278.6 313.3 L281.1 310.8 L283.6 308.4 L286.0 305.9 L288.5 303.5 L291.0 301.2 L293.4 298.8 L295.9 296.5 L298.4 294.2 L300.8 291.9 L303.3 289.7 L305.8 287.5 L308.2 285.3 L310.7 283.1 L313.2 280.9 L315.6 278.8 L318.1 276.6 L320.6 274.5 L323.0 272.3 L325.5 270.2 M29.5 553.7 L32.0 551.7 L34.4 549.7 L36.9 547.7 L39.4 545.7 L41.8 543.7 L44.3 541.7 L46.8 539.7 L49.2 537.7 L51.7 535.6 L54.2 533.6 L56.6 531.5 L59.1 529.4 L61.6 527.3 L64.0 525.2 L66.5 523.0 L69.0 520.8 L71.4 518.6 L73.9 516.3 L76.4 514.1 L78.8 511.8 L81.3 509.4 L83.8 507.1 L86.2 504.7 L88.7 502.2 L91.2 499.8 L93.6 497.3 L96.1 494.7 L98.6 492.1 L101.0 489.5 L103.5 486.9 L106.0 484.2 L108.4 481.4 L110.9 478.7 L113.4 475.9 L115.8 473.0 L118.3 470.1 L120.8 467.2 L123.2 464.3 L125.7 461.3 L128.2 458.3 L130.6 455.2 L133.1 452.1 L135.6 449.0 L138.0 445.9 L140.5 442.7 L143.0 439.5 L145.4 436.3 L147.9 433.0 L150.4 429.8 L152.8 426.5 L155.3 423.2 L157.8 419.8 L160.2 416.5 L162.7 413.1 L165.2 409.8 L167.6 406.4 L170.1 403.0 L172.6 399.6 L175.0 396.2 L177.5 392.8 L180.0 389.1 L182.4 385.3 L184.9 381.6 L187.4 377.9 L189.8 374.2 L192.3 370.4 L194.8 366.7 L197.2 363.1 L199.7 359.4 L202.2 355.8 L204.6 352.1 L207.1 348.5 L209.6 344.9 L212.0 341.4 L214.5 337.9 L217.0 334.4 L219.4 330.9 L221.9 327.5 L224.4 324.1 L226.8 320.7 L229.3 317.4 L231.8 314.1 L234.2 310.8 L236.7 307.6 L239.2 304.4 L241.6 301.3 L244.1 298.2 L246.6 295.1 L249.0 292.1 L251.5 289.1 L254.0 286.2 L256.4 283.3 L258.9 280.4 L261.4 277.6 L263.8 274.9 L266.3 272.1 L268.8 269.4 L271.2 266.8 L273.7 264.2 L276.2 261.6 L278.6 259.1 L281.1 256.6 L283.6 254.1 L286.0 251.7 L288.5 249.3 L291.0 246.9 L293.4 244.5 L295.9 242.2 L298.4 239.9 L300.8 237.7 L303.3 235.4 L305.8 233.2 L308.2 231.0 L310.7 228.8 L313.2 226.6 L315.6 224.5 L318.1 222.3 L320.6 220.2 L323.0 218.1 L325.5 215.9 M29.5 499.4 L32.0 497.4 L34.4 495.5 L36.9 493.5 L39.4 491.5 L41.8 489.5 L44.3 487.5 L46.8 485.4 L49.2 483.4 L51.7 481.4 L54.2 479.3 L56.6 477.2 L59.1 475.1 L61.6 473.0 L64.0 470.9 L66.5 468.7 L69.0 466.5 L71.4 464.3 L73.9 462.1 L76.4 459.8 L78.8 457.5 L81.3 455.2 L83.8 452.8 L86.2 450.4 L88.7 448.0 L91.2 445.5 L93.6 443.0 L96.1 440.4 L98.6 437.9 L101.0 435.2 L103.5 432.6 L106.0 429.9 L108.4 427.2 L110.9 424.4 L113.4 421.6 L115.8 418.7 L118.3 415.9 L120.8 413.0 L123.2 410.0 L125.7 407.0 L128.2 404.0 L130.6 401.0 L133.1 397.9 L135.6 394.8 L138.0 391.6 L140.5 388.4 L143.0 385.2 L145.4 382.0 L147.9 378.8 L150.4 375.5 L152.8 372.2 L155.3 368.9 L157.8 365.6 L160.2 362.2 L162.7 358.9 L165.2 355.5 L167.6 352.1 L170.1 348.7 L172.6 345.3 L175.0 341.9 L177.5 338.5 L180.0 334.8 L182.4 331.1 L184.9 327.3 L187.4 323.6 L189.8 319.9 L192.3 316.2 L194.8 312.5 L197.2 308.8 L199.7 305.1 L202.2 301.5 L204.6 297.9 L207.1 294.3 L209.6 290.7 L212.0 287.1 L214.5 283.6 L217.0 280.1 L219.4 276.6 L221.9 273.2 L224.4 269.8 L226.8 266.4 L229.3 263.1 L231.8 259.8 L234.2 256.5 L236.7 253.3 L239.2 250.1 L241.6 247.0 L244.1 243.9 L246.6 240.8 L249.0 237.8 L251.5 234.9 L254.0 231.9 L256.4 229.0 L258.9 226.2 L261.4 223.4 L263.8 220.6 L266.3 217.9 L268.8 215.2 L271.2 212.5 L273.7 209.9 L276.2 207.3 L278.6 204.8 L281.1 202.3 L283.6 199.8 L286.0 197.4 L288.5 195.0 L291.0 192.6 L293.4 190.3 L295.9 188.0 L298.4 185.7 L300.8 183.4 L303.3 181.2 L305.8 178.9 L308.2 176.7 L310.7 174.5 L313.2 172.4 L315.6 170.2 L318.1 168.1 L320.6 165.9 L323.0 163.8 L325.5 161.7 M29.5 445.2 L32.0 443.2 L34.4 441.2 L36.9 439.2 L39.4 437.2 L41.8 435.2 L44.3 433.2 L46.8 431.2 L49.2 429.1 L51.7 427.1 L54.2 425.0 L56.6 423.0 L59.1 420.9 L61.6 418.7 L64.0 416.6 L66.5 414.5 L69.0 412.3 L71.4 410.0 L73.9 407.8 L76.4 405.5 L78.8 403.2 L81.3 400.9 L83.8 398.5 L86.2 396.1 L88.7 393.7 L91.2 391.2 L93.6 388.7 L96.1 386.2 L98.6 383.6 L101.0 381.0 L103.5 378.3 L106.0 375.6 L108.4 372.9 L110.9 370.1 L113.4 367.3 L115.8 364.5 L118.3 361.6 L120.8 358.7 L123.2 355.7 L125.7 352.8 L128.2 349.7 L130.6 346.7 L133.1 343.6 L135.6 340.5 L138.0 337.3 L140.5 334.2 L143.0 331.0 L145.4 327.7 L147.9 324.5 L150.4 321.2 L152.8 317.9 L155.3 314.6 L157.8 311.3 L160.2 308.0 L162.7 304.6 L165.2 301.2 L167.6 297.8 L170.1 294.5 L172.6 291.1 L175.0 287.7 L177.5 284.3 L180.0 280.5 L182.4 276.8 L184.9 273.1 L187.4 269.3 L189.8 265.6 L192.3 261.9 L194.8 258.2 L197.2 254.5 L199.7 250.9 L202.2 247.2 L204.6 243.6 L207.1 240.0 L209.6 236.4 L212.0 232.9 L214.5 229.3 L217.0 225.8 L219.4 222.4 L221.9 218.9 L224.4 215.5 L226.8 212.2 L229.3 208.8 L231.8 205.5 L234.2 202.3 L236.7 199.1 L239.2 195.9 L241.6 192.7 L244.1 189.6 L246.6 186.6 L249.0 183.6 L251.5 180.6 L254.0 177.6 L256.4 174.8 L258.9 171.9 L261.4 169.1 L263.8 166.3 L266.3 163.6 L268.8 160.9 L271.2 158.3 L273.7 155.6 L276.2 153.1 L278.6 150.5 L281.1 148.0 L283.6 145.6 L286.0 143.1 L288.5 140.7 L291.0 138.3 L293.4 136.0 L295.9 133.7 L298.4 131.4 L300.8 129.1 L303.3 126.9 L305.8 124.7 L308.2 122.5 L310.7 120.3 L313.2 118.1 L315.6 115.9 L318.1 113.8 L320.6 111.7 L323.0 109.5 L325.5 107.4 M29.5 390.9 L32.0 388.9 L34.4 386.9 L36.9 384.9 L39.4 382.9 L41.8 380.9 L44.3 378.9 L46.8 376.9 L49.2 374.9 L51.7 372.8 L54.2 370.8 L56.6 368.7 L59.1 366.6 L61.6 364.5 L64.0 362.3 L66.5 360.2 L69.0 358.0 L71.4 355.8 L73.9 353.5 L76.4 351.3 L78.8 349.0 L81.3 346.6 L83.8 344.3 L86.2 341.9 L88.7 339.4 L91.2 337.0 L93.6 334.4 L96.1 331.9 L98.6 329.3 L101.0 326.7 L103.5 324.0 L106.0 321.4 L108.4 318.6 L110.9 315.9 L113.4 313.1 L115.8 310.2 L118.3 307.3 L120.8 304.4 L123.2 301.5 L125.7 298.5 L128.2 295.5 L130.6 292.4 L133.1 289.3 L135.6 286.2 L138.0 283.1 L140.5 279.9 L143.0 276.7 L145.4 273.5 L147.9 270.2 L150.4 267.0 L152.8 263.7 L155.3 260.4 L157.8 257.0 L160.2 253.7 L162.7 250.3 L165.2 247.0 L167.6 243.6 L170.1 240.2 L172.6 236.8 L175.0 233.4 L177.5 230.0 L180.0 226.3 L182.4 222.5 L184.9 218.8 L187.4 215.1 L189.8 211.3 L192.3 207.6 L194.8 203.9 L197.2 200.3 L199.7 196.6 L202.2 192.9 L204.6 189.3 L207.1 185.7 L209.6 182.1 L212.0 178.6 L214.5 175.1 L217.0 171.6 L219.4 168.1 L221.9 164.7 L224.4 161.3 L226.8 157.9 L229.3 154.6 L231.8 151.3 L234.2 148.0 L236.7 144.8 L239.2 141.6 L241.6 138.5 L244.1 135.4 L246.6 132.3 L249.0 129.3 L251.5 126.3 L254.0 123.4 L256.4 120.5 L258.9 117.6 L261.4 114.8 L263.8 112.1 L266.3 109.3 L268.8 106.6 L271.2 104.0 L273.7 101.4 L276.2 98.8 L278.6 96.3 L281.1 93.8 L283.6 91.3 L286.0 88.9 L288.5 86.4 L291.0 84.1 L293.4 81.7 L295.9 79.4 L298.4 77.1 L300.8 74.9 L303.3 72.6 L305.8 70.4 L308.2 68.2 L310.7 66.0 L313.2 63.8 L315.6 61.7 L318.1 59.5 L320.6 57.4 L323.0 55.3 L325.5 53.1 M29.5 336.6 L32.0 334.6 L34.4 332.6 L36.9 330.7 L39.4 328.7 L41.8 326.7 L44.3 324.6 L46.8 322.6 L49.2 320.6 L51.7 318.6 L54.2 316.5 L56.6 314.4 L59.1 312.3 L61.6 310.2 L64.0 308.1 L66.5 305.9 L69.0 303.7 L71.4 301.5 L73.9 299.3 L76.4 297.0 L78.8 294.7 L81.3 292.4 L83.8 290.0 L86.2 287.6 L88.7 285.2 L91.2 282.7 L93.6 280.2 L96.1 277.6 L98.6 275.1 L101.0 272.4 L103.5 269.8 L106.0 267.1 L108.4 264.4 L110.9 261.6 L113.4 258.8 L115.8 255.9 L118.3 253.1 L120.8 250.1 L123.2 247.2 L125.7 244.2 L128.2 241.2 L130.6 238.1 L133.1 235.1 L135.6 231.9 L138.0 228.8 L140.5 225.6 L143.0 222.4 L145.4 219.2 L147.9 216.0 L150.4 212.7 L152.8 209.4 L155.3 206.1 L157.8 202.8 L160.2 199.4 L162.7 196.1 L165.2 192.7 L167.6 189.3 L170.1 185.9 L172.6 182.5 L175.0 179.1 L177.5 175.7 L180.0 172.0 L182.4 168.3 L184.9 164.5 L187.4 160.8 L189.8 157.1 L192.3 153.4 L194.8 149.7 L197.2 146.0 L199.7 142.3 L202.2 138.7 L204.6 135.0 L207.1 131.4 L209.6 127.9 L212.0 124.3 L214.5 120.8 L217.0 117.3 L219.4 113.8 L221.9 110.4 L224.4 107.0 L226.8 103.6 L229.3 100.3 L231.8 97.0 L234.2 93.7 L236.7 90.5 L239.2 87.3 L241.6 84.2 L244.1 81.1 L246.6 78.0 L249.0 75.0 L251.5 72.0 L254.0 69.1 L256.4 66.2 L258.9 63.4 L261.4 60.6 L263.8 57.8 L266.3 55.1 L268.8 52.4 L271.2 49.7 L273.7 47.1 L276.2 44.5 L278.6 42.0 L281.1 39.5 L283.6 37.0 L286.0 34.6 L288.5 32.2 L291.0 29.8 L293.4 27.5 L295.9 25.1 L298.4 22.9 L300.8 20.6 L303.3 18.3 L305.8 16.1 L308.2 13.9 L310.7 11.7 L313.2 9.6 L315.6 7.4 L318.1 5.3 L320.6 3.1 L323.0 1.0 L325.5 -1.1 M29.5 282.4 L32.0 280.4 L34.4 278.4 L36.9 276.4 L39.4 274.4 L41.8 272.4 L44.3 270.4 L46.8 268.4 L49.2 266.3 L51.7 264.3 L54.2 262.2 L56.6 260.1 L59.1 258.1 L61.6 255.9 L64.0 253.8 L66.5 251.6 L69.0 249.5 L71.4 247.2 L73.9 245.0 L76.4 242.7 L78.8 240.4 L81.3 238.1 L83.8 235.7 L86.2 233.3 L88.7 230.9 L91.2 228.4 L93.6 225.9 L96.1 223.4 L98.6 220.8 L101.0 218.2 L103.5 215.5 L106.0 212.8 L108.4 210.1 L110.9 207.3 L113.4 204.5 L115.8 201.7 L118.3 198.8 L120.8 195.9 L123.2 192.9 L125.7 189.9 L128.2 186.9 L130.6 183.9 L133.1 180.8 L135.6 177.7 L138.0 174.5 L140.5 171.4 L143.0 168.2 L145.4 164.9 L147.9 161.7 L150.4 158.4 L152.8 155.1 L155.3 151.8 L157.8 148.5 L160.2 145.1 L162.7 141.8 L165.2 138.4 L167.6 135.0 L170.1 131.7 L172.6 128.3 L175.0 124.9 L177.5 121.5 L180.0 117.7 L182.4 114.0 L184.9 110.3 L187.4 106.5 L189.8 102.8 L192.3 99.1 L194.8 95.4 L197.2 91.7 L199.7 88.1 L202.2 84.4 L204.6 80.8 L207.1 77.2 L209.6 73.6 L212.0 70.0 L214.5 66.5 L217.0 63.0 L219.4 59.5 L221.9 56.1 L224.4 52.7 L226.8 49.3 L229.3 46.0 L231.8 42.7 L234.2 39.5 L236.7 36.2 L239.2 33.1 L241.6 29.9 L244.1 26.8 L246.6 23.8 L249.0 20.7 L251.5 17.8 L254.0 14.8 L256.4 11.9 L258.9 9.1 L261.4 6.3 L263.8 3.5 L266.3 0.8 L268.8 -1.9 L271.2 -4.6 L273.7 -7.2 L276.2 -9.7 L278.6 -12.3 L281.1 -14.8 L283.6 -17.3 L286.0 -19.7 L288.5 -22.1 L291.0 -24.5 L293.4 -26.8 L295.9 -29.1 L298.4 -31.4 L300.8 -33.7 L303.3 -35.9 L305.8 -38.1 L308.2 -40.3 L310.7 -42.5 L313.2 -44.7 L315.6 -46.9 L318.1 -49.0 L320.6 -51.2 L323.0 -53.3 L325.5 -55.4 M29.5 228.1 L32.0 226.1 L34.4 224.1 L36.9 222.1 L39.4 220.1 L41.8 218.1 L44.3 216.1 L46.8 214.1 L49.2 212.1 L51.7 210.0 L54.2 208.0 L56.6 205.9 L59.1 203.8 L61.6 201.7 L64.0 199.5 L66.5 197.4 L69.0 195.2 L71.4 193.0 L73.9 190.7 L76.4 188.5 L78.8 186.2 L81.3 183.8 L83.8 181.5 L86.2 179.1 L88.7 176.6 L91.2 174.1 L93.6 171.6 L96.1 169.1 L98.6 166.5 L101.0 163.9 L103.5 161.2 L106.0 158.5 L108.4 155.8 L110.9 153.0 L113.4 150.2 L115.8 147.4 L118.3 144.5 L120.8 141.6 L123.2 138.7 L125.7 135.7 L128.2 132.7 L130.6 129.6 L133.1 126.5 L135.6 123.4 L138.0 120.3 L140.5 117.1 L143.0 113.9 L145.4 110.7 L147.9 107.4 L150.4 104.1 L152.8 100.9 L155.3 97.5 L157.8 94.2 L160.2 90.9 L162.7 87.5 L165.2 84.1 L167.6 80.8 L170.1 77.4 L172.6 74.0 L175.0 70.6 L177.5 67.2 L180.0 63.5 L182.4 59.7 L184.9 56.0 L187.4 52.3 L189.8 48.5 L192.3 44.8 L194.8 41.1 L197.2 37.4 L199.7 33.8 L202.2 30.1 L204.6 26.5 L207.1 22.9 L209.6 19.3 L212.0 15.8 L214.5 12.2 L217.0 8.7 L219.4 5.3 L221.9 1.8 L224.4 -1.6 L226.8 -4.9 L229.3 -8.3 L231.8 -11.6 L234.2 -14.8 L236.7 -18.0 L239.2 -21.2 L241.6 -24.3 L244.1 -27.4 L246.6 -30.5 L249.0 -33.5 L251.5 -36.5 L254.0 -39.4 L256.4 -42.3 L258.9 -45.2 L261.4 -48.0 L263.8 -50.8 L266.3 -53.5 L268.8 -56.2 L271.2 -58.8 L273.7 -61.4 L276.2 -64.0 L278.6 -66.6 L281.1 -69.1 L283.6 -71.5 L286.0 -74.0 L288.5 -76.4 L291.0 -78.7 L293.4 -81.1 L295.9 -83.4 L298.4 -85.7 L300.8 -87.9 L303.3 -90.2 L305.8 -92.4 L308.2 -94.6 L310.7 -96.8 L313.2 -99.0 L315.6 -101.1 L318.1 -103.3 L320.6 -105.4 L323.0 -107.6 L325.5 -109.7 M29.5 173.8 L32.0 171.8 L34.4 169.8 L36.9 167.8 L39.4 165.8 L41.8 163.8 L44.3 161.8 L46.8 159.8 L49.2 157.8 L51.7 155.7 L54.2 153.7 L56.6 151.6 L59.1 149.5 L61.6 147.4 L64.0 145.3 L66.5 143.1 L69.0 140.9 L71.4 138.7 L73.9 136.5 L76.4 134.2 L78.8 131.9 L81.3 129.5 L83.8 127.2 L86.2 124.8 L88.7 122.3 L91.2 119.9 L93.6 117.4 L96.1 114.8 L98.6 112.2 L101.0 109.6 L103.5 107.0 L106.0 104.3 L108.4 101.5 L110.9 98.8 L113.4 96.0 L115.8 93.1 L118.3 90.3 L120.8 87.3 L123.2 84.4 L125.7 81.4 L128.2 78.4 L130.6 75.3 L133.1 72.2 L135.6 69.1 L138.0 66.0 L140.5 62.8 L143.0 59.6 L145.4 56.4 L147.9 53.1 L150.4 49.9 L152.8 46.6 L155.3 43.3 L157.8 39.9 L160.2 36.6 L162.7 33.2 L165.2 29.9 L167.6 26.5 L170.1 23.1 L172.6 19.7 L175.0 16.3 L177.5 12.9 L180.0 9.2 L182.4 5.4 L184.9 1.7 L187.4 -2.0 L189.8 -5.7 L192.3 -9.4 L194.8 -13.1 L197.2 -16.8 L199.7 -20.5 L202.2 -24.1 L204.6 -27.8 L207.1 -31.4 L209.6 -34.9 L212.0 -38.5 L214.5 -42.0 L217.0 -45.5 L219.4 -49.0 L221.9 -52.4 L224.4 -55.8 L226.8 -59.2 L229.3 -62.5 L231.8 -65.8 L234.2 -69.1 L236.7 -72.3 L239.2 -75.5 L241.6 -78.6 L244.1 -81.7 L246.6 -84.8 L249.0 -87.8 L251.5 -90.8 L254.0 -93.7 L256.4 -96.6 L258.9 -99.4 L261.4 -102.3 L263.8 -105.0 L266.3 -107.8 L268.8 -110.4 L271.2 -113.1 L273.7 -115.7 L276.2 -118.3 L278.6 -120.8 L281.1 -123.3 L283.6 -125.8 L286.0 -128.2 L288.5 -130.6 L291.0 -133.0 L293.4 -135.3 L295.9 -137.7 L298.4 -140.0 L300.8 -142.2 L303.3 -144.5 L305.8 -146.7 L308.2 -148.9 L310.7 -151.1 L313.2 -153.2 L315.6 -155.4 L318.1 -157.6 L320.6 -159.7 L323.0 -161.8 L325.5 -164.0 M29.5 119.5 L32.0 117.6 L34.4 115.6 L36.9 113.6 L39.4 111.6 L41.8 109.6 L44.3 107.6 L46.8 105.5 L49.2 103.5 L51.7 101.5 L54.2 99.4 L56.6 97.3 L59.1 95.2 L61.6 93.1 L64.0 91.0 L66.5 88.8 L69.0 86.6 L71.4 84.4 L73.9 82.2 L76.4 79.9 L78.8 77.6 L81.3 75.3 L83.8 72.9 L86.2 70.5 L88.7 68.1 L91.2 65.6 L93.6 63.1 L96.1 60.6 L98.6 58.0 L101.0 55.4 L103.5 52.7 L106.0 50.0 L108.4 47.3 L110.9 44.5 L113.4 41.7 L115.8 38.9 L118.3 36.0 L120.8 33.1 L123.2 30.1 L125.7 27.1 L128.2 24.1 L130.6 21.1 L133.1 18.0 L135.6 14.9 L138.0 11.7 L140.5 8.5 L143.0 5.3 L145.4 2.1 L147.9 -1.1 L150.4 -4.4 L152.8 -7.7 L155.3 -11.0 L157.8 -14.3 L160.2 -17.7 L162.7 -21.0 L165.2 -24.4 L167.6 -27.8 L170.1 -31.2 L172.6 -34.5 L175.0 -37.9 L177.5 -41.3 L180.0 -45.1 L182.4 -48.8 L184.9 -52.6 L187.4 -56.3 L189.8 -60.0 L192.3 -63.7 L194.8 -67.4 L197.2 -71.1 L199.7 -74.8 L202.2 -78.4 L204.6 -82.0 L207.1 -85.6 L209.6 -89.2 L212.0 -92.8 L214.5 -96.3 L217.0 -99.8 L219.4 -103.3 L221.9 -106.7 L224.4 -110.1 L226.8 -113.5 L229.3 -116.8 L231.8 -120.1 L234.2 -123.3 L236.7 -126.6 L239.2 -129.7 L241.6 -132.9 L244.1 -136.0 L246.6 -139.0 L249.0 -142.1 L251.5 -145.0 L254.0 -148.0 L256.4 -150.9 L258.9 -153.7 L261.4 -156.5 L263.8 -159.3 L266.3 -162.0 L268.8 -164.7 L271.2 -167.4 L273.7 -170.0 L276.2 -172.6 L278.6 -175.1 L281.1 -177.6 L283.6 -180.1 L286.0 -182.5 L288.5 -184.9 L291.0 -187.3 L293.4 -189.6 L295.9 -191.9 L298.4 -194.2 L300.8 -196.5 L303.3 -198.7 L305.8 -201.0 L308.2 -203.2 L310.7 -205.3 L313.2 -207.5 L315.6 -209.7 L318.1 -211.8 L320.6 -214.0 L323.0 -216.1 L325.5 -218.2 M29.5 65.3 L32.0 63.3 L34.4 61.3 L36.9 59.3 L39.4 57.3 L41.8 55.3 L44.3 53.3 L46.8 51.3 L49.2 49.2 L51.7 47.2 L54.2 45.1 L56.6 43.1 L59.1 41.0 L61.6 38.9 L64.0 36.7 L66.5 34.6 L69.0 32.4 L71.4 30.2 L73.9 27.9 L76.4 25.6 L78.8 23.3 L81.3 21.0 L83.8 18.6 L86.2 16.2 L88.7 13.8 L91.2 11.3 L93.6 8.8 L96.1 6.3 L98.6 3.7 L101.0 1.1 L103.5 -1.6 L106.0 -4.3 L108.4 -7.0 L110.9 -9.8 L113.4 -12.6 L115.8 -15.4 L118.3 -18.3 L120.8 -21.2 L123.2 -24.2 L125.7 -27.1 L128.2 -30.2 L130.6 -33.2 L133.1 -36.3 L135.6 -39.4 L138.0 -42.5 L140.5 -45.7 L143.0 -48.9 L145.4 -52.1 L147.9 -55.4 L150.4 -58.7 L152.8 -62.0 L155.3 -65.3 L157.8 -68.6 L160.2 -71.9 L162.7 -75.3 L165.2 -78.7 L167.6 -82.0 L170.1 -85.4 L172.6 -88.8 L175.0 -92.2 L177.5 -95.6 L180.0 -99.4 L182.4 -103.1 L184.9 -106.8 L187.4 -110.6 L189.8 -114.3 L192.3 -118.0 L194.8 -121.7 L197.2 -125.4 L199.7 -129.0 L202.2 -132.7 L204.6 -136.3 L207.1 -139.9 L209.6 -143.5 L212.0 -147.0 L214.5 -150.6 L217.0 -154.1 L219.4 -157.5 L221.9 -161.0 L224.4 -164.4 L226.8 -167.7 L229.3 -171.1 L231.8 -174.4 L234.2 -177.6 L236.7 -180.8 L239.2 -184.0 L241.6 -187.2 L244.1 -190.3 L246.6 -193.3 L249.0 -196.3 L251.5 -199.3 L254.0 -202.2 L256.4 -205.1 L258.9 -208.0 L261.4 -210.8 L263.8 -213.6 L266.3 -216.3 L268.8 -219.0 L271.2 -221.6 L273.7 -224.3 L276.2 -226.8 L278.6 -229.4 L281.1 -231.9 L283.6 -234.3 L286.0 -236.8 L288.5 -239.2 L291.0 -241.5 L293.4 -243.9 L295.9 -246.2 L298.4 -248.5 L300.8 -250.8 L303.3 -253.0 L305.8 -255.2 L308.2 -257.4 L310.7 -259.6 L313.2 -261.8 L315.6 -263.9 L318.1 -266.1 L320.6 -268.2 L323.0 -270.4 L325.5 -272.5 M29.5 11.0 L32.0 9.0 L34.4 7.0 L36.9 5.0 L39.4 3.0 L41.8 1.0 L44.3 -1.0 L46.8 -3.0 L49.2 -5.0 L51.7 -7.1 L54.2 -9.1 L56.6 -11.2 L59.1 -13.3 L61.6 -15.4 L64.0 -17.5 L66.5 -19.7 L69.0 -21.9 L71.4 -24.1 L73.9 -26.4 L76.4 -28.6 L78.8 -30.9 L81.3 -33.3 L83.8 -35.6 L86.2 -38.0 L88.7 -40.5 L91.2 -42.9 L93.6 -45.4 L96.1 -48.0 L98.6 -50.6 L101.0 -53.2 L103.5 -55.8 L106.0 -58.5 L108.4 -61.3 L110.9 -64.0 L113.4 -66.8 L115.8 -69.7 L118.3 -72.6 L120.8 -75.5 L123.2 -78.4 L125.7 -81.4 L128.2 -84.4 L130.6 -87.5 L133.1 -90.6 L135.6 -93.7 L138.0 -96.8 L140.5 -100.0 L143.0 -103.2 L145.4 -106.4 L147.9 -109.7 L150.4 -112.9 L152.8 -116.2 L155.3 -119.5 L157.8 -122.9 L160.2 -126.2 L162.7 -129.6 L165.2 -132.9 L167.6 -136.3 L170.1 -139.7 L172.6 -143.1 L175.0 -146.5 L177.5 -149.9 L180.0 -153.6 L182.4 -157.4 L184.9 -161.1 L187.4 -164.8 L189.8 -168.5 L192.3 -172.3 L194.8 -176.0 L197.2 -179.6 L199.7 -183.3 L202.2 -186.9 L204.6 -190.6 L207.1 -194.2 L209.6 -197.8 L212.0 -201.3 L214.5 -204.8 L217.0 -208.3 L219.4 -211.8 L221.9 -215.2 L224.4 -218.6 L226.8 -222.0 L229.3 -225.3 L231.8 -228.6 L234.2 -231.9 L236.7 -235.1 L239.2 -238.3 L241.6 -241.4 L244.1 -244.5 L246.6 -247.6 L249.0 -250.6 L251.5 -253.6 L254.0 -256.5 L256.4 -259.4 L258.9 -262.3 L261.4 -265.1 L263.8 -267.8 L266.3 -270.6 L268.8 -273.3 L271.2 -275.9 L273.7 -278.5 L276.2 -281.1 L278.6 -283.6 L281.1 -286.1 L283.6 -288.6 L286.0 -291.0 L288.5 -293.4 L291.0 -295.8 L293.4 -298.2 L295.9 -300.5 L298.4 -302.8 L300.8 -305.0 L303.3 -307.3 L305.8 -309.5 L308.2 -311.7 L310.7 -313.9 L313.2 -316.1 L315.6 -318.2 L318.1 -320.4 L320.6 -322.5 L323.0 -324.6 L325.5 -326.8" fill="none" stroke="#ff0000" stroke-width="2.20"/>
<path d="M29.5 319.1 L32.0 317.0 L34.4 315.0 L36.9 312.9 L39.4 310.8 L41.8 308.7 L44.3 306.7 L46.8 304.6 L49.2 302.4 L51.7 300.3 L54.2 298.2 L56.6 296.0 L59.1 293.8 L61.6 291.6 L64.0 289.3 L66.5 287.1 L69.0 284.8 L71.4 282.4 L73.9 280.1 L76.4 277.7 L78.8 275.3 L81.3 272.8 L83.8 270.3 L86.2 267.8 L88.7 265.3 L91.2 262.7 L93.6 260.0 L96.1 257.3 L98.6 254.6 L101.0 251.9 L103.5 249.1 L106.0 246.2 L108.4 243.4 L110.9 240.4 L113.4 237.5 L115.8 234.5 L118.3 231.5 L120.8 228.4 L123.2 225.3 L125.7 222.2 L128.2 219.0 L130.6 215.8 L133.1 212.5 L135.6 209.2 L138.0 205.9 L140.5 202.6 L143.0 199.2 L145.4 195.8 L147.9 192.4 L150.4 188.9 L152.8 185.5 L155.3 182.0 L157.8 178.4 L160.2 174.9 L162.7 171.3 L165.2 167.7 L167.6 164.1 L170.1 160.4 L172.6 156.8 L175.0 153.1 L177.5 149.4 L180.0 145.7 L182.4 142.0 L184.9 138.4 L187.4 134.7 L189.8 131.1 L192.3 127.5 L194.8 123.9 L197.2 120.4 L199.7 116.8 L202.2 113.3 L204.6 109.9 L207.1 106.4 L209.6 103.0 L212.0 99.6 L214.5 96.2 L217.0 92.9 L219.4 89.6 L221.9 86.3 L224.4 83.0 L226.8 79.8 L229.3 76.6 L231.8 73.5 L234.2 70.4 L236.7 67.3 L239.2 64.3 L241.6 61.3 L244.1 58.4 L246.6 55.4 L249.0 52.6 L251.5 49.7 L254.0 46.9 L256.4 44.2 L258.9 41.5 L261.4 38.8 L263.8 36.1 L266.3 33.5 L268.8 31.0 L271.2 28.5 L273.7 26.0 L276.2 23.5 L278.6 21.1 L281.1 18.7 L283.6 16.4 L286.0 14.0 L288.5 11.7 L291.0 9.5 L293.4 7.2 L295.9 5.0 L298.4 2.8 L300.8 0.6 L303.3 -1.5 L305.8 -3.6 L308.2 -5.8 L310.7 -7.9 L313.2 -9.9 L315.6 -12.0 L318.1 -14.1 L320.6 -16.2 L323.0 -18.2 L325.5 -20.3" fill="none" stroke="#008000" stroke-width="2.25" stroke-dasharray="8.33 3.60" stroke-dashoffset="-1.70"/>
</g>
<line x1="29.95" y1="0.40" x2="29.95" y2="296.20" stroke="#000" stroke-width="0.70"/>
<line x1="325.75" y1="0.40" x2="325.75" y2="296.20" stroke="#000" stroke-width="0.67"/>
<line x1="29.55" y1="0.80" x2="326.15" y2="0.80" stroke="#000" stroke-width="0.62"/>
<line x1="29.55" y1="295.80" x2="326.15" y2="295.80" stroke="#000" stroke-width="0.69"/>
<line x1="59.10" y1="295.80" x2="59.10" y2="298.30" stroke="#000" stroke-width="0.8"/>
<line x1="29.95" y1="266.20" x2="27.45" y2="266.20" stroke="#000" stroke-width="0.8"/>
<line x1="118.30" y1="295.80" x2="118.30" y2="298.30" stroke="#000" stroke-width="0.8"/>
<line x1="29.95" y1="207.20" x2="27.45" y2="207.20" stroke="#000" stroke-width="0.8"/>
<line x1="177.50" y1="295.80" x2="177.50" y2="298.30" stroke="#000" stroke-width="0.8"/>
<line x1="29.95" y1="148.20" x2="27.45" y2="148.20" stroke="#000" stroke-width="0.8"/>
<line x1="236.70" y1="295.80" x2="236.70" y2="298.30" stroke="#000" stroke-width="0.8"/>
<line x1="29.95" y1="89.20" x2="27.45" y2="89.20" stroke="#000" stroke-width="0.8"/>
<line x1="295.90" y1="295.80" x2="295.90" y2="298.30" stroke="#000" stroke-width="0.8"/>
<line x1="29.95" y1="30.20" x2="27.45" y2="30.20" stroke="#000" stroke-width="0.8"/>
<text x="59.50" y="308.30" text-anchor="middle" textLength="26.40" lengthAdjust="spacingAndGlyphs" class="tk">−0.4</text>
<text x="25.40" y="271.10" text-anchor="end" textLength="26.40" lengthAdjust="spacingAndGlyphs" class="tk">−0.4</text>
<text x="118.70" y="308.30" text-anchor="middle" textLength="26.40" lengthAdjust="spacingAndGlyphs" class="tk">−0.2</text>
<text x="25.40" y="212.10" text-anchor="end" textLength="26.40" lengthAdjust="spacingAndGlyphs" class="tk">−0.2</text>
<text x="177.90" y="308.30" text-anchor="middle" textLength="17.00" lengthAdjust="spacingAndGlyphs" class="tk">0.0</text>
<text x="25.40" y="153.10" text-anchor="end" textLength="17.00" lengthAdjust="spacingAndGlyphs" class="tk">0.0</text>
<text x="237.10" y="308.30" text-anchor="middle" textLength="17.00" lengthAdjust="spacingAndGlyphs" class="tk">0.2</text>
<text x="25.40" y="94.10" text-anchor="end" textLength="17.00" lengthAdjust="spacingAndGlyphs" class="tk">0.2</text>
<text x="296.30" y="308.30" text-anchor="middle" textLength="17.00" lengthAdjust="spacingAndGlyphs" class="tk">0.4</text>
<text x="25.40" y="35.10" text-anchor="end" textLength="17.00" lengthAdjust="spacingAndGlyphs" class="tk">0.4</text>
<clipPath id="c1"><rect x="388.50" y="0.42" width="296.05" height="295.33"/></clipPath>
<g clip-path="url(#c1)">
<path d="M388.5 603.9 L391.0 601.9 L393.4 599.8 L395.9 597.7 L398.4 595.7 L400.8 593.6 L403.3 591.5 L405.8 589.4 L408.2 587.3 L410.7 585.2 L413.2 583.0 L415.6 580.8 L418.1 578.6 L420.6 576.4 L423.0 574.2 L425.5 571.9 L428.0 569.6 L430.4 567.2 L432.9 564.8 L435.4 562.3 L437.8 559.7 L440.3 557.1 L442.8 554.4 L445.2 551.7 L447.7 548.9 L450.2 546.1 L452.6 543.3 L455.1 540.4 L457.6 537.5 L460.0 534.6 L462.5 531.6 L465.0 528.6 L467.4 525.5 L469.9 522.4 L472.4 519.3 L474.8 516.1 L477.3 512.9 L479.8 509.6 L482.2 506.4 L484.7 503.1 L487.2 499.7 L489.6 496.3 L492.1 492.9 L494.6 489.5 L497.0 486.0 L499.5 482.5 L502.0 479.0 L504.4 475.5 L506.9 471.9 L509.4 468.3 L511.8 464.7 L514.3 461.0 L516.8 457.4 L519.2 453.7 L521.7 449.9 L524.2 446.2 L526.6 442.4 L529.1 438.6 L531.6 434.8 L534.0 430.9 L536.5 427.1 L539.0 423.4 L541.4 419.7 L543.9 416.0 L546.4 412.4 L548.8 408.9 L551.3 405.3 L553.8 401.9 L556.2 398.4 L558.7 395.0 L561.2 391.6 L563.6 388.3 L566.1 385.0 L568.6 381.7 L571.0 378.4 L573.5 375.2 L576.0 372.0 L578.4 368.9 L580.9 365.8 L583.4 362.7 L585.8 359.6 L588.3 356.6 L590.8 353.7 L593.2 350.7 L595.7 347.8 L598.2 345.0 L600.6 342.2 L603.1 339.4 L605.6 336.7 L608.0 334.0 L610.5 331.3 L613.0 328.7 L615.4 326.2 L617.9 323.6 L620.4 321.2 L622.8 318.7 L625.3 316.3 L627.8 313.9 L630.2 311.6 L632.7 309.3 L635.2 307.0 L637.6 304.7 L640.1 302.5 L642.6 300.2 L645.0 297.9 L647.5 295.7 L650.0 293.4 L652.4 291.2 L654.9 289.0 L657.4 286.8 L659.8 284.6 L662.3 282.4 L664.8 280.3 L667.2 278.2 L669.7 276.1 L672.2 274.0 L674.6 271.9 L677.1 269.9 L679.6 267.8 L682.0 265.7 L684.5 263.7 L684.5 265.3 L682.0 267.3 L679.6 269.4 L677.1 271.5 L674.6 273.5 L672.2 275.6 L669.7 277.7 L667.2 279.8 L664.8 281.9 L662.3 284.0 L659.8 286.2 L657.4 288.4 L654.9 290.6 L652.4 292.8 L650.0 295.0 L647.5 297.3 L645.0 299.6 L642.6 302.0 L640.1 304.4 L637.6 306.9 L635.2 309.5 L632.7 312.1 L630.2 314.8 L627.8 317.5 L625.3 320.3 L622.8 323.1 L620.4 325.9 L617.9 328.8 L615.4 331.7 L613.0 334.6 L610.5 337.6 L608.0 340.6 L605.6 343.7 L603.1 346.8 L600.6 349.9 L598.2 353.1 L595.7 356.3 L593.2 359.6 L590.8 362.8 L588.3 366.1 L585.8 369.5 L583.4 372.9 L580.9 376.3 L578.4 379.7 L576.0 383.2 L573.5 386.7 L571.0 390.2 L568.6 393.7 L566.1 397.3 L563.6 400.9 L561.2 404.5 L558.7 408.2 L556.2 411.8 L553.8 415.5 L551.3 419.3 L548.8 423.0 L546.4 426.8 L543.9 430.6 L541.4 434.4 L539.0 438.3 L536.5 442.1 L534.0 445.8 L531.6 449.5 L529.1 453.2 L526.6 456.8 L524.2 460.3 L521.7 463.9 L519.2 467.3 L516.8 470.8 L514.3 474.2 L511.8 477.6 L509.4 480.9 L506.9 484.2 L504.4 487.5 L502.0 490.8 L499.5 494.0 L497.0 497.2 L494.6 500.3 L492.1 503.4 L489.6 506.5 L487.2 509.6 L484.7 512.6 L482.2 515.5 L479.8 518.5 L477.3 521.4 L474.8 524.2 L472.4 527.0 L469.9 529.8 L467.4 532.5 L465.0 535.2 L462.5 537.9 L460.0 540.5 L457.6 543.0 L455.1 545.6 L452.6 548.0 L450.2 550.5 L447.7 552.9 L445.2 555.3 L442.8 557.6 L440.3 559.9 L437.8 562.2 L435.4 564.5 L432.9 566.7 L430.4 569.0 L428.0 571.3 L425.5 573.5 L423.0 575.8 L420.6 578.0 L418.1 580.2 L415.6 582.4 L413.2 584.6 L410.7 586.8 L408.2 588.9 L405.8 591.0 L403.3 593.1 L400.8 595.2 L398.4 597.3 L395.9 599.3 L393.4 601.4 L391.0 603.5 L388.5 605.5Z M388.5 565.6 L391.0 563.6 L393.4 561.5 L395.9 559.4 L398.4 557.4 L400.8 555.3 L403.3 553.2 L405.8 551.1 L408.2 549.0 L410.7 546.9 L413.2 544.7 L415.6 542.5 L418.1 540.3 L420.6 538.1 L423.0 535.9 L425.5 533.6 L428.0 531.3 L430.4 528.9 L432.9 526.5 L435.4 524.0 L437.8 521.4 L440.3 518.8 L442.8 516.1 L445.2 513.4 L447.7 510.6 L450.2 507.8 L452.6 505.0 L455.1 502.1 L457.6 499.2 L460.0 496.3 L462.5 493.3 L465.0 490.3 L467.4 487.2 L469.9 484.1 L472.4 481.0 L474.8 477.8 L477.3 474.6 L479.8 471.3 L482.2 468.1 L484.7 464.8 L487.2 461.4 L489.6 458.0 L492.1 454.6 L494.6 451.2 L497.0 447.7 L499.5 444.2 L502.0 440.7 L504.4 437.2 L506.9 433.6 L509.4 430.0 L511.8 426.4 L514.3 422.7 L516.8 419.1 L519.2 415.4 L521.7 411.6 L524.2 407.9 L526.6 404.1 L529.1 400.3 L531.6 396.5 L534.0 392.6 L536.5 388.8 L539.0 385.1 L541.4 381.4 L543.9 377.7 L546.4 374.1 L548.8 370.6 L551.3 367.0 L553.8 363.6 L556.2 360.1 L558.7 356.7 L561.2 353.3 L563.6 350.0 L566.1 346.7 L568.6 343.4 L571.0 340.1 L573.5 336.9 L576.0 333.7 L578.4 330.6 L580.9 327.5 L583.4 324.4 L585.8 321.3 L588.3 318.3 L590.8 315.4 L593.2 312.4 L595.7 309.5 L598.2 306.7 L600.6 303.9 L603.1 301.1 L605.6 298.4 L608.0 295.7 L610.5 293.0 L613.0 290.4 L615.4 287.9 L617.9 285.3 L620.4 282.9 L622.8 280.4 L625.3 278.0 L627.8 275.6 L630.2 273.3 L632.7 271.0 L635.2 268.7 L637.6 266.4 L640.1 264.2 L642.6 261.9 L645.0 259.6 L647.5 257.4 L650.0 255.1 L652.4 252.9 L654.9 250.7 L657.4 248.5 L659.8 246.3 L662.3 244.1 L664.8 242.0 L667.2 239.9 L669.7 237.8 L672.2 235.7 L674.6 233.6 L677.1 231.6 L679.6 229.5 L682.0 227.4 L684.5 225.4 L684.5 227.0 L682.0 229.0 L679.6 231.1 L677.1 233.2 L674.6 235.2 L672.2 237.3 L669.7 239.4 L667.2 241.5 L664.8 243.6 L662.3 245.7 L659.8 247.9 L657.4 250.1 L654.9 252.3 L652.4 254.5 L650.0 256.7 L647.5 259.0 L645.0 261.3 L642.6 263.7 L640.1 266.1 L637.6 268.6 L635.2 271.2 L632.7 273.8 L630.2 276.5 L627.8 279.2 L625.3 282.0 L622.8 284.8 L620.4 287.6 L617.9 290.5 L615.4 293.4 L613.0 296.3 L610.5 299.3 L608.0 302.3 L605.6 305.4 L603.1 308.5 L600.6 311.6 L598.2 314.8 L595.7 318.0 L593.2 321.3 L590.8 324.5 L588.3 327.8 L585.8 331.2 L583.4 334.6 L580.9 338.0 L578.4 341.4 L576.0 344.9 L573.5 348.4 L571.0 351.9 L568.6 355.4 L566.1 359.0 L563.6 362.6 L561.2 366.2 L558.7 369.9 L556.2 373.5 L553.8 377.2 L551.3 381.0 L548.8 384.7 L546.4 388.5 L543.9 392.3 L541.4 396.1 L539.0 400.0 L536.5 403.8 L534.0 407.5 L531.6 411.2 L529.1 414.9 L526.6 418.5 L524.2 422.0 L521.7 425.6 L519.2 429.0 L516.8 432.5 L514.3 435.9 L511.8 439.3 L509.4 442.6 L506.9 445.9 L504.4 449.2 L502.0 452.5 L499.5 455.7 L497.0 458.9 L494.6 462.0 L492.1 465.1 L489.6 468.2 L487.2 471.3 L484.7 474.3 L482.2 477.2 L479.8 480.2 L477.3 483.1 L474.8 485.9 L472.4 488.7 L469.9 491.5 L467.4 494.2 L465.0 496.9 L462.5 499.6 L460.0 502.2 L457.6 504.7 L455.1 507.3 L452.6 509.7 L450.2 512.2 L447.7 514.6 L445.2 517.0 L442.8 519.3 L440.3 521.6 L437.8 523.9 L435.4 526.2 L432.9 528.4 L430.4 530.7 L428.0 533.0 L425.5 535.2 L423.0 537.5 L420.6 539.7 L418.1 541.9 L415.6 544.1 L413.2 546.3 L410.7 548.5 L408.2 550.6 L405.8 552.7 L403.3 554.8 L400.8 556.9 L398.4 559.0 L395.9 561.0 L393.4 563.1 L391.0 565.2 L388.5 567.2Z M388.5 527.3 L391.0 525.3 L393.4 523.2 L395.9 521.1 L398.4 519.1 L400.8 517.0 L403.3 514.9 L405.8 512.8 L408.2 510.7 L410.7 508.6 L413.2 506.4 L415.6 504.2 L418.1 502.0 L420.6 499.8 L423.0 497.6 L425.5 495.3 L428.0 493.0 L430.4 490.6 L432.9 488.2 L435.4 485.7 L437.8 483.1 L440.3 480.5 L442.8 477.8 L445.2 475.1 L447.7 472.3 L450.2 469.5 L452.6 466.7 L455.1 463.8 L457.6 460.9 L460.0 458.0 L462.5 455.0 L465.0 452.0 L467.4 448.9 L469.9 445.8 L472.4 442.7 L474.8 439.5 L477.3 436.3 L479.8 433.0 L482.2 429.8 L484.7 426.5 L487.2 423.1 L489.6 419.7 L492.1 416.3 L494.6 412.9 L497.0 409.4 L499.5 405.9 L502.0 402.4 L504.4 398.9 L506.9 395.3 L509.4 391.7 L511.8 388.1 L514.3 384.4 L516.8 380.8 L519.2 377.1 L521.7 373.3 L524.2 369.6 L526.6 365.8 L529.1 362.0 L531.6 358.2 L534.0 354.3 L536.5 350.5 L539.0 346.8 L541.4 343.1 L543.9 339.4 L546.4 335.8 L548.8 332.3 L551.3 328.7 L553.8 325.3 L556.2 321.8 L558.7 318.4 L561.2 315.0 L563.6 311.7 L566.1 308.4 L568.6 305.1 L571.0 301.8 L573.5 298.6 L576.0 295.4 L578.4 292.3 L580.9 289.2 L583.4 286.1 L585.8 283.0 L588.3 280.0 L590.8 277.1 L593.2 274.1 L595.7 271.2 L598.2 268.4 L600.6 265.6 L603.1 262.8 L605.6 260.1 L608.0 257.4 L610.5 254.7 L613.0 252.1 L615.4 249.6 L617.9 247.0 L620.4 244.6 L622.8 242.1 L625.3 239.7 L627.8 237.3 L630.2 235.0 L632.7 232.7 L635.2 230.4 L637.6 228.1 L640.1 225.9 L642.6 223.6 L645.0 221.3 L647.5 219.1 L650.0 216.8 L652.4 214.6 L654.9 212.4 L657.4 210.2 L659.8 208.0 L662.3 205.8 L664.8 203.7 L667.2 201.6 L669.7 199.5 L672.2 197.4 L674.6 195.3 L677.1 193.3 L679.6 191.2 L682.0 189.1 L684.5 187.1 L684.5 188.7 L682.0 190.7 L679.6 192.8 L677.1 194.9 L674.6 196.9 L672.2 199.0 L669.7 201.1 L667.2 203.2 L664.8 205.3 L662.3 207.4 L659.8 209.6 L657.4 211.8 L654.9 214.0 L652.4 216.2 L650.0 218.4 L647.5 220.7 L645.0 223.0 L642.6 225.4 L640.1 227.8 L637.6 230.3 L635.2 232.9 L632.7 235.5 L630.2 238.2 L627.8 240.9 L625.3 243.7 L622.8 246.5 L620.4 249.3 L617.9 252.2 L615.4 255.1 L613.0 258.0 L610.5 261.0 L608.0 264.0 L605.6 267.1 L603.1 270.2 L600.6 273.3 L598.2 276.5 L595.7 279.7 L593.2 283.0 L590.8 286.2 L588.3 289.5 L585.8 292.9 L583.4 296.3 L580.9 299.7 L578.4 303.1 L576.0 306.6 L573.5 310.1 L571.0 313.6 L568.6 317.1 L566.1 320.7 L563.6 324.3 L561.2 327.9 L558.7 331.6 L556.2 335.2 L553.8 338.9 L551.3 342.7 L548.8 346.4 L546.4 350.2 L543.9 354.0 L541.4 357.8 L539.0 361.7 L536.5 365.5 L534.0 369.2 L531.6 372.9 L529.1 376.6 L526.6 380.2 L524.2 383.7 L521.7 387.3 L519.2 390.7 L516.8 394.2 L514.3 397.6 L511.8 401.0 L509.4 404.3 L506.9 407.6 L504.4 410.9 L502.0 414.2 L499.5 417.4 L497.0 420.6 L494.6 423.7 L492.1 426.8 L489.6 429.9 L487.2 433.0 L484.7 436.0 L482.2 438.9 L479.8 441.9 L477.3 444.8 L474.8 447.6 L472.4 450.4 L469.9 453.2 L467.4 455.9 L465.0 458.6 L462.5 461.3 L460.0 463.9 L457.6 466.4 L455.1 469.0 L452.6 471.4 L450.2 473.9 L447.7 476.3 L445.2 478.7 L442.8 481.0 L440.3 483.3 L437.8 485.6 L435.4 487.9 L432.9 490.1 L430.4 492.4 L428.0 494.7 L425.5 496.9 L423.0 499.2 L420.6 501.4 L418.1 503.6 L415.6 505.8 L413.2 508.0 L410.7 510.2 L408.2 512.3 L405.8 514.4 L403.3 516.5 L400.8 518.6 L398.4 520.7 L395.9 522.7 L393.4 524.8 L391.0 526.9 L388.5 528.9Z M388.5 489.0 L391.0 487.0 L393.4 484.9 L395.9 482.8 L398.4 480.8 L400.8 478.7 L403.3 476.6 L405.8 474.5 L408.2 472.4 L410.7 470.3 L413.2 468.1 L415.6 465.9 L418.1 463.7 L420.6 461.5 L423.0 459.3 L425.5 457.0 L428.0 454.7 L430.4 452.3 L432.9 449.9 L435.4 447.4 L437.8 444.8 L440.3 442.2 L442.8 439.5 L445.2 436.8 L447.7 434.0 L450.2 431.2 L452.6 428.4 L455.1 425.5 L457.6 422.6 L460.0 419.7 L462.5 416.7 L465.0 413.7 L467.4 410.6 L469.9 407.5 L472.4 404.4 L474.8 401.2 L477.3 398.0 L479.8 394.7 L482.2 391.5 L484.7 388.2 L487.2 384.8 L489.6 381.4 L492.1 378.0 L494.6 374.6 L497.0 371.1 L499.5 367.6 L502.0 364.1 L504.4 360.6 L506.9 357.0 L509.4 353.4 L511.8 349.8 L514.3 346.1 L516.8 342.5 L519.2 338.8 L521.7 335.0 L524.2 331.3 L526.6 327.5 L529.1 323.7 L531.6 319.9 L534.0 316.0 L536.5 312.2 L539.0 308.5 L541.4 304.8 L543.9 301.1 L546.4 297.5 L548.8 294.0 L551.3 290.4 L553.8 287.0 L556.2 283.5 L558.7 280.1 L561.2 276.7 L563.6 273.4 L566.1 270.1 L568.6 266.8 L571.0 263.5 L573.5 260.3 L576.0 257.1 L578.4 254.0 L580.9 250.9 L583.4 247.8 L585.8 244.7 L588.3 241.7 L590.8 238.8 L593.2 235.8 L595.7 232.9 L598.2 230.1 L600.6 227.3 L603.1 224.5 L605.6 221.8 L608.0 219.1 L610.5 216.4 L613.0 213.8 L615.4 211.3 L617.9 208.7 L620.4 206.3 L622.8 203.8 L625.3 201.4 L627.8 199.0 L630.2 196.7 L632.7 194.4 L635.2 192.1 L637.6 189.8 L640.1 187.6 L642.6 185.3 L645.0 183.0 L647.5 180.8 L650.0 178.5 L652.4 176.3 L654.9 174.1 L657.4 171.9 L659.8 169.7 L662.3 167.5 L664.8 165.4 L667.2 163.3 L669.7 161.2 L672.2 159.1 L674.6 157.0 L677.1 155.0 L679.6 152.9 L682.0 150.8 L684.5 148.8 L684.5 150.4 L682.0 152.4 L679.6 154.5 L677.1 156.6 L674.6 158.6 L672.2 160.7 L669.7 162.8 L667.2 164.9 L664.8 167.0 L662.3 169.1 L659.8 171.3 L657.4 173.5 L654.9 175.7 L652.4 177.9 L650.0 180.1 L647.5 182.4 L645.0 184.7 L642.6 187.1 L640.1 189.5 L637.6 192.0 L635.2 194.6 L632.7 197.2 L630.2 199.9 L627.8 202.6 L625.3 205.4 L622.8 208.2 L620.4 211.0 L617.9 213.9 L615.4 216.8 L613.0 219.7 L610.5 222.7 L608.0 225.7 L605.6 228.8 L603.1 231.9 L600.6 235.0 L598.2 238.2 L595.7 241.4 L593.2 244.7 L590.8 247.9 L588.3 251.2 L585.8 254.6 L583.4 258.0 L580.9 261.4 L578.4 264.8 L576.0 268.3 L573.5 271.8 L571.0 275.3 L568.6 278.8 L566.1 282.4 L563.6 286.0 L561.2 289.6 L558.7 293.3 L556.2 296.9 L553.8 300.6 L551.3 304.4 L548.8 308.1 L546.4 311.9 L543.9 315.7 L541.4 319.5 L539.0 323.4 L536.5 327.2 L534.0 330.9 L531.6 334.6 L529.1 338.3 L526.6 341.9 L524.2 345.4 L521.7 349.0 L519.2 352.4 L516.8 355.9 L514.3 359.3 L511.8 362.7 L509.4 366.0 L506.9 369.3 L504.4 372.6 L502.0 375.9 L499.5 379.1 L497.0 382.3 L494.6 385.4 L492.1 388.5 L489.6 391.6 L487.2 394.7 L484.7 397.7 L482.2 400.6 L479.8 403.6 L477.3 406.5 L474.8 409.3 L472.4 412.1 L469.9 414.9 L467.4 417.6 L465.0 420.3 L462.5 423.0 L460.0 425.6 L457.6 428.1 L455.1 430.7 L452.6 433.1 L450.2 435.6 L447.7 438.0 L445.2 440.4 L442.8 442.7 L440.3 445.0 L437.8 447.3 L435.4 449.6 L432.9 451.8 L430.4 454.1 L428.0 456.4 L425.5 458.6 L423.0 460.9 L420.6 463.1 L418.1 465.3 L415.6 467.5 L413.2 469.7 L410.7 471.9 L408.2 474.0 L405.8 476.1 L403.3 478.2 L400.8 480.3 L398.4 482.4 L395.9 484.4 L393.4 486.5 L391.0 488.6 L388.5 490.6Z M388.5 450.7 L391.0 448.7 L393.4 446.6 L395.9 444.5 L398.4 442.5 L400.8 440.4 L403.3 438.3 L405.8 436.2 L408.2 434.1 L410.7 432.0 L413.2 429.8 L415.6 427.6 L418.1 425.4 L420.6 423.2 L423.0 421.0 L425.5 418.7 L428.0 416.4 L430.4 414.0 L432.9 411.6 L435.4 409.1 L437.8 406.5 L440.3 403.9 L442.8 401.2 L445.2 398.5 L447.7 395.7 L450.2 392.9 L452.6 390.1 L455.1 387.2 L457.6 384.3 L460.0 381.4 L462.5 378.4 L465.0 375.4 L467.4 372.3 L469.9 369.2 L472.4 366.1 L474.8 362.9 L477.3 359.7 L479.8 356.4 L482.2 353.2 L484.7 349.9 L487.2 346.5 L489.6 343.1 L492.1 339.7 L494.6 336.3 L497.0 332.8 L499.5 329.3 L502.0 325.8 L504.4 322.3 L506.9 318.7 L509.4 315.1 L511.8 311.5 L514.3 307.8 L516.8 304.2 L519.2 300.5 L521.7 296.7 L524.2 293.0 L526.6 289.2 L529.1 285.4 L531.6 281.6 L534.0 277.7 L536.5 273.9 L539.0 270.2 L541.4 266.5 L543.9 262.8 L546.4 259.2 L548.8 255.7 L551.3 252.1 L553.8 248.7 L556.2 245.2 L558.7 241.8 L561.2 238.4 L563.6 235.1 L566.1 231.8 L568.6 228.5 L571.0 225.2 L573.5 222.0 L576.0 218.8 L578.4 215.7 L580.9 212.6 L583.4 209.5 L585.8 206.4 L588.3 203.4 L590.8 200.5 L593.2 197.5 L595.7 194.6 L598.2 191.8 L600.6 189.0 L603.1 186.2 L605.6 183.5 L608.0 180.8 L610.5 178.1 L613.0 175.5 L615.4 173.0 L617.9 170.4 L620.4 168.0 L622.8 165.5 L625.3 163.1 L627.8 160.7 L630.2 158.4 L632.7 156.1 L635.2 153.8 L637.6 151.5 L640.1 149.3 L642.6 147.0 L645.0 144.7 L647.5 142.5 L650.0 140.2 L652.4 138.0 L654.9 135.8 L657.4 133.6 L659.8 131.4 L662.3 129.2 L664.8 127.1 L667.2 125.0 L669.7 122.9 L672.2 120.8 L674.6 118.7 L677.1 116.7 L679.6 114.6 L682.0 112.5 L684.5 110.5 L684.5 112.1 L682.0 114.1 L679.6 116.2 L677.1 118.3 L674.6 120.3 L672.2 122.4 L669.7 124.5 L667.2 126.6 L664.8 128.7 L662.3 130.8 L659.8 133.0 L657.4 135.2 L654.9 137.4 L652.4 139.6 L650.0 141.8 L647.5 144.1 L645.0 146.4 L642.6 148.8 L640.1 151.2 L637.6 153.7 L635.2 156.3 L632.7 158.9 L630.2 161.6 L627.8 164.3 L625.3 167.1 L622.8 169.9 L620.4 172.7 L617.9 175.6 L615.4 178.5 L613.0 181.4 L610.5 184.4 L608.0 187.4 L605.6 190.5 L603.1 193.6 L600.6 196.7 L598.2 199.9 L595.7 203.1 L593.2 206.4 L590.8 209.6 L588.3 212.9 L585.8 216.3 L583.4 219.7 L580.9 223.1 L578.4 226.5 L576.0 230.0 L573.5 233.5 L571.0 237.0 L568.6 240.5 L566.1 244.1 L563.6 247.7 L561.2 251.3 L558.7 255.0 L556.2 258.6 L553.8 262.3 L551.3 266.1 L548.8 269.8 L546.4 273.6 L543.9 277.4 L541.4 281.2 L539.0 285.1 L536.5 288.9 L534.0 292.6 L531.6 296.3 L529.1 300.0 L526.6 303.6 L524.2 307.1 L521.7 310.7 L519.2 314.1 L516.8 317.6 L514.3 321.0 L511.8 324.4 L509.4 327.7 L506.9 331.0 L504.4 334.3 L502.0 337.6 L499.5 340.8 L497.0 344.0 L494.6 347.1 L492.1 350.2 L489.6 353.3 L487.2 356.4 L484.7 359.4 L482.2 362.3 L479.8 365.3 L477.3 368.2 L474.8 371.0 L472.4 373.8 L469.9 376.6 L467.4 379.3 L465.0 382.0 L462.5 384.7 L460.0 387.3 L457.6 389.8 L455.1 392.4 L452.6 394.8 L450.2 397.3 L447.7 399.7 L445.2 402.1 L442.8 404.4 L440.3 406.7 L437.8 409.0 L435.4 411.3 L432.9 413.5 L430.4 415.8 L428.0 418.1 L425.5 420.3 L423.0 422.6 L420.6 424.8 L418.1 427.0 L415.6 429.2 L413.2 431.4 L410.7 433.6 L408.2 435.7 L405.8 437.8 L403.3 439.9 L400.8 442.0 L398.4 444.1 L395.9 446.1 L393.4 448.2 L391.0 450.3 L388.5 452.3Z M388.5 412.4 L391.0 410.4 L393.4 408.3 L395.9 406.2 L398.4 404.2 L400.8 402.1 L403.3 400.0 L405.8 397.9 L408.2 395.8 L410.7 393.7 L413.2 391.5 L415.6 389.3 L418.1 387.1 L420.6 384.9 L423.0 382.7 L425.5 380.4 L428.0 378.1 L430.4 375.7 L432.9 373.3 L435.4 370.8 L437.8 368.2 L440.3 365.6 L442.8 362.9 L445.2 360.2 L447.7 357.4 L450.2 354.6 L452.6 351.8 L455.1 348.9 L457.6 346.0 L460.0 343.1 L462.5 340.1 L465.0 337.1 L467.4 334.0 L469.9 330.9 L472.4 327.8 L474.8 324.6 L477.3 321.4 L479.8 318.1 L482.2 314.9 L484.7 311.6 L487.2 308.2 L489.6 304.8 L492.1 301.4 L494.6 298.0 L497.0 294.5 L499.5 291.0 L502.0 287.5 L504.4 284.0 L506.9 280.4 L509.4 276.8 L511.8 273.2 L514.3 269.5 L516.8 265.9 L519.2 262.2 L521.7 258.4 L524.2 254.7 L526.6 250.9 L529.1 247.1 L531.6 243.3 L534.0 239.4 L536.5 235.6 L539.0 231.9 L541.4 228.2 L543.9 224.5 L546.4 220.9 L548.8 217.4 L551.3 213.8 L553.8 210.4 L556.2 206.9 L558.7 203.5 L561.2 200.1 L563.6 196.8 L566.1 193.5 L568.6 190.2 L571.0 186.9 L573.5 183.7 L576.0 180.5 L578.4 177.4 L580.9 174.3 L583.4 171.2 L585.8 168.1 L588.3 165.1 L590.8 162.2 L593.2 159.2 L595.7 156.3 L598.2 153.5 L600.6 150.7 L603.1 147.9 L605.6 145.2 L608.0 142.5 L610.5 139.8 L613.0 137.2 L615.4 134.7 L617.9 132.1 L620.4 129.7 L622.8 127.2 L625.3 124.8 L627.8 122.4 L630.2 120.1 L632.7 117.8 L635.2 115.5 L637.6 113.2 L640.1 111.0 L642.6 108.7 L645.0 106.4 L647.5 104.2 L650.0 101.9 L652.4 99.7 L654.9 97.5 L657.4 95.3 L659.8 93.1 L662.3 90.9 L664.8 88.8 L667.2 86.7 L669.7 84.6 L672.2 82.5 L674.6 80.4 L677.1 78.4 L679.6 76.3 L682.0 74.2 L684.5 72.2 L684.5 73.8 L682.0 75.8 L679.6 77.9 L677.1 80.0 L674.6 82.0 L672.2 84.1 L669.7 86.2 L667.2 88.3 L664.8 90.4 L662.3 92.5 L659.8 94.7 L657.4 96.9 L654.9 99.1 L652.4 101.3 L650.0 103.5 L647.5 105.8 L645.0 108.1 L642.6 110.5 L640.1 112.9 L637.6 115.4 L635.2 118.0 L632.7 120.6 L630.2 123.3 L627.8 126.0 L625.3 128.8 L622.8 131.6 L620.4 134.4 L617.9 137.3 L615.4 140.2 L613.0 143.1 L610.5 146.1 L608.0 149.1 L605.6 152.2 L603.1 155.3 L600.6 158.4 L598.2 161.6 L595.7 164.8 L593.2 168.1 L590.8 171.3 L588.3 174.6 L585.8 178.0 L583.4 181.4 L580.9 184.8 L578.4 188.2 L576.0 191.7 L573.5 195.2 L571.0 198.7 L568.6 202.2 L566.1 205.8 L563.6 209.4 L561.2 213.0 L558.7 216.7 L556.2 220.3 L553.8 224.0 L551.3 227.8 L548.8 231.5 L546.4 235.3 L543.9 239.1 L541.4 242.9 L539.0 246.8 L536.5 250.6 L534.0 254.3 L531.6 258.0 L529.1 261.7 L526.6 265.3 L524.2 268.8 L521.7 272.4 L519.2 275.8 L516.8 279.3 L514.3 282.7 L511.8 286.1 L509.4 289.4 L506.9 292.7 L504.4 296.0 L502.0 299.3 L499.5 302.5 L497.0 305.7 L494.6 308.8 L492.1 311.9 L489.6 315.0 L487.2 318.1 L484.7 321.1 L482.2 324.0 L479.8 327.0 L477.3 329.9 L474.8 332.7 L472.4 335.5 L469.9 338.3 L467.4 341.0 L465.0 343.7 L462.5 346.4 L460.0 349.0 L457.6 351.5 L455.1 354.1 L452.6 356.5 L450.2 359.0 L447.7 361.4 L445.2 363.8 L442.8 366.1 L440.3 368.4 L437.8 370.7 L435.4 373.0 L432.9 375.2 L430.4 377.5 L428.0 379.8 L425.5 382.0 L423.0 384.3 L420.6 386.5 L418.1 388.7 L415.6 390.9 L413.2 393.1 L410.7 395.3 L408.2 397.4 L405.8 399.5 L403.3 401.6 L400.8 403.7 L398.4 405.8 L395.9 407.8 L393.4 409.9 L391.0 412.0 L388.5 414.0Z M388.5 374.1 L391.0 372.1 L393.4 370.0 L395.9 367.9 L398.4 365.9 L400.8 363.8 L403.3 361.7 L405.8 359.6 L408.2 357.5 L410.7 355.4 L413.2 353.2 L415.6 351.0 L418.1 348.8 L420.6 346.6 L423.0 344.4 L425.5 342.1 L428.0 339.8 L430.4 337.4 L432.9 335.0 L435.4 332.5 L437.8 329.9 L440.3 327.3 L442.8 324.6 L445.2 321.9 L447.7 319.1 L450.2 316.3 L452.6 313.5 L455.1 310.6 L457.6 307.7 L460.0 304.8 L462.5 301.8 L465.0 298.8 L467.4 295.7 L469.9 292.6 L472.4 289.5 L474.8 286.3 L477.3 283.1 L479.8 279.8 L482.2 276.6 L484.7 273.3 L487.2 269.9 L489.6 266.5 L492.1 263.1 L494.6 259.7 L497.0 256.2 L499.5 252.7 L502.0 249.2 L504.4 245.7 L506.9 242.1 L509.4 238.5 L511.8 234.9 L514.3 231.2 L516.8 227.6 L519.2 223.9 L521.7 220.1 L524.2 216.4 L526.6 212.6 L529.1 208.8 L531.6 205.0 L534.0 201.1 L536.5 197.3 L539.0 193.6 L541.4 189.9 L543.9 186.2 L546.4 182.6 L548.8 179.1 L551.3 175.5 L553.8 172.1 L556.2 168.6 L558.7 165.2 L561.2 161.8 L563.6 158.5 L566.1 155.2 L568.6 151.9 L571.0 148.6 L573.5 145.4 L576.0 142.2 L578.4 139.1 L580.9 136.0 L583.4 132.9 L585.8 129.8 L588.3 126.8 L590.8 123.9 L593.2 120.9 L595.7 118.0 L598.2 115.2 L600.6 112.4 L603.1 109.6 L605.6 106.9 L608.0 104.2 L610.5 101.5 L613.0 98.9 L615.4 96.4 L617.9 93.8 L620.4 91.4 L622.8 88.9 L625.3 86.5 L627.8 84.1 L630.2 81.8 L632.7 79.5 L635.2 77.2 L637.6 74.9 L640.1 72.7 L642.6 70.4 L645.0 68.1 L647.5 65.9 L650.0 63.6 L652.4 61.4 L654.9 59.2 L657.4 57.0 L659.8 54.8 L662.3 52.6 L664.8 50.5 L667.2 48.4 L669.7 46.3 L672.2 44.2 L674.6 42.1 L677.1 40.1 L679.6 38.0 L682.0 35.9 L684.5 33.9 L684.5 35.5 L682.0 37.5 L679.6 39.6 L677.1 41.7 L674.6 43.7 L672.2 45.8 L669.7 47.9 L667.2 50.0 L664.8 52.1 L662.3 54.2 L659.8 56.4 L657.4 58.6 L654.9 60.8 L652.4 63.0 L650.0 65.2 L647.5 67.5 L645.0 69.8 L642.6 72.2 L640.1 74.6 L637.6 77.1 L635.2 79.7 L632.7 82.3 L630.2 85.0 L627.8 87.7 L625.3 90.5 L622.8 93.3 L620.4 96.1 L617.9 99.0 L615.4 101.9 L613.0 104.8 L610.5 107.8 L608.0 110.8 L605.6 113.9 L603.1 117.0 L600.6 120.1 L598.2 123.3 L595.7 126.5 L593.2 129.8 L590.8 133.0 L588.3 136.3 L585.8 139.7 L583.4 143.1 L580.9 146.5 L578.4 149.9 L576.0 153.4 L573.5 156.9 L571.0 160.4 L568.6 163.9 L566.1 167.5 L563.6 171.1 L561.2 174.7 L558.7 178.4 L556.2 182.0 L553.8 185.7 L551.3 189.5 L548.8 193.2 L546.4 197.0 L543.9 200.8 L541.4 204.6 L539.0 208.5 L536.5 212.3 L534.0 216.0 L531.6 219.7 L529.1 223.4 L526.6 227.0 L524.2 230.5 L521.7 234.1 L519.2 237.5 L516.8 241.0 L514.3 244.4 L511.8 247.8 L509.4 251.1 L506.9 254.4 L504.4 257.7 L502.0 261.0 L499.5 264.2 L497.0 267.4 L494.6 270.5 L492.1 273.6 L489.6 276.7 L487.2 279.8 L484.7 282.8 L482.2 285.7 L479.8 288.7 L477.3 291.6 L474.8 294.4 L472.4 297.2 L469.9 300.0 L467.4 302.7 L465.0 305.4 L462.5 308.1 L460.0 310.7 L457.6 313.2 L455.1 315.8 L452.6 318.2 L450.2 320.7 L447.7 323.1 L445.2 325.5 L442.8 327.8 L440.3 330.1 L437.8 332.4 L435.4 334.7 L432.9 336.9 L430.4 339.2 L428.0 341.5 L425.5 343.7 L423.0 346.0 L420.6 348.2 L418.1 350.4 L415.6 352.6 L413.2 354.8 L410.7 357.0 L408.2 359.1 L405.8 361.2 L403.3 363.3 L400.8 365.4 L398.4 367.5 L395.9 369.5 L393.4 371.6 L391.0 373.7 L388.5 375.7Z M388.5 335.8 L391.0 333.8 L393.4 331.7 L395.9 329.6 L398.4 327.6 L400.8 325.5 L403.3 323.4 L405.8 321.3 L408.2 319.2 L410.7 317.1 L413.2 314.9 L415.6 312.7 L418.1 310.5 L420.6 308.3 L423.0 306.1 L425.5 303.8 L428.0 301.5 L430.4 299.1 L432.9 296.7 L435.4 294.2 L437.8 291.6 L440.3 289.0 L442.8 286.3 L445.2 283.6 L447.7 280.8 L450.2 278.0 L452.6 275.2 L455.1 272.3 L457.6 269.4 L460.0 266.5 L462.5 263.5 L465.0 260.5 L467.4 257.4 L469.9 254.3 L472.4 251.2 L474.8 248.0 L477.3 244.8 L479.8 241.5 L482.2 238.3 L484.7 235.0 L487.2 231.6 L489.6 228.2 L492.1 224.8 L494.6 221.4 L497.0 217.9 L499.5 214.4 L502.0 210.9 L504.4 207.4 L506.9 203.8 L509.4 200.2 L511.8 196.6 L514.3 192.9 L516.8 189.3 L519.2 185.6 L521.7 181.8 L524.2 178.1 L526.6 174.3 L529.1 170.5 L531.6 166.7 L534.0 162.8 L536.5 159.0 L539.0 155.3 L541.4 151.6 L543.9 147.9 L546.4 144.3 L548.8 140.8 L551.3 137.2 L553.8 133.8 L556.2 130.3 L558.7 126.9 L561.2 123.5 L563.6 120.2 L566.1 116.9 L568.6 113.6 L571.0 110.3 L573.5 107.1 L576.0 103.9 L578.4 100.8 L580.9 97.7 L583.4 94.6 L585.8 91.5 L588.3 88.5 L590.8 85.6 L593.2 82.6 L595.7 79.7 L598.2 76.9 L600.6 74.1 L603.1 71.3 L605.6 68.6 L608.0 65.9 L610.5 63.2 L613.0 60.6 L615.4 58.1 L617.9 55.5 L620.4 53.1 L622.8 50.6 L625.3 48.2 L627.8 45.8 L630.2 43.5 L632.7 41.2 L635.2 38.9 L637.6 36.6 L640.1 34.4 L642.6 32.1 L645.0 29.8 L647.5 27.6 L650.0 25.3 L652.4 23.1 L654.9 20.9 L657.4 18.7 L659.8 16.5 L662.3 14.3 L664.8 12.2 L667.2 10.1 L669.7 8.0 L672.2 5.9 L674.6 3.8 L677.1 1.8 L679.6 -0.3 L682.0 -2.4 L684.5 -4.4 L684.5 -2.8 L682.0 -0.8 L679.6 1.3 L677.1 3.4 L674.6 5.4 L672.2 7.5 L669.7 9.6 L667.2 11.7 L664.8 13.8 L662.3 15.9 L659.8 18.1 L657.4 20.3 L654.9 22.5 L652.4 24.7 L650.0 26.9 L647.5 29.2 L645.0 31.5 L642.6 33.9 L640.1 36.3 L637.6 38.8 L635.2 41.4 L632.7 44.0 L630.2 46.7 L627.8 49.4 L625.3 52.2 L622.8 55.0 L620.4 57.8 L617.9 60.7 L615.4 63.6 L613.0 66.5 L610.5 69.5 L608.0 72.5 L605.6 75.6 L603.1 78.7 L600.6 81.8 L598.2 85.0 L595.7 88.2 L593.2 91.5 L590.8 94.7 L588.3 98.0 L585.8 101.4 L583.4 104.8 L580.9 108.2 L578.4 111.6 L576.0 115.1 L573.5 118.6 L571.0 122.1 L568.6 125.6 L566.1 129.2 L563.6 132.8 L561.2 136.4 L558.7 140.1 L556.2 143.7 L553.8 147.4 L551.3 151.2 L548.8 154.9 L546.4 158.7 L543.9 162.5 L541.4 166.3 L539.0 170.2 L536.5 174.0 L534.0 177.7 L531.6 181.4 L529.1 185.1 L526.6 188.7 L524.2 192.2 L521.7 195.8 L519.2 199.2 L516.8 202.7 L514.3 206.1 L511.8 209.5 L509.4 212.8 L506.9 216.1 L504.4 219.4 L502.0 222.7 L499.5 225.9 L497.0 229.1 L494.6 232.2 L492.1 235.3 L489.6 238.4 L487.2 241.5 L484.7 244.5 L482.2 247.4 L479.8 250.4 L477.3 253.3 L474.8 256.1 L472.4 258.9 L469.9 261.7 L467.4 264.4 L465.0 267.1 L462.5 269.8 L460.0 272.4 L457.6 274.9 L455.1 277.5 L452.6 279.9 L450.2 282.4 L447.7 284.8 L445.2 287.2 L442.8 289.5 L440.3 291.8 L437.8 294.1 L435.4 296.4 L432.9 298.6 L430.4 300.9 L428.0 303.2 L425.5 305.4 L423.0 307.7 L420.6 309.9 L418.1 312.1 L415.6 314.3 L413.2 316.5 L410.7 318.7 L408.2 320.8 L405.8 322.9 L403.3 325.0 L400.8 327.1 L398.4 329.2 L395.9 331.2 L393.4 333.3 L391.0 335.4 L388.5 337.4Z M388.5 297.5 L391.0 295.5 L393.4 293.4 L395.9 291.3 L398.4 289.3 L400.8 287.2 L403.3 285.1 L405.8 283.0 L408.2 280.9 L410.7 278.8 L413.2 276.6 L415.6 274.4 L418.1 272.2 L420.6 270.0 L423.0 267.8 L425.5 265.5 L428.0 263.2 L430.4 260.8 L432.9 258.4 L435.4 255.9 L437.8 253.3 L440.3 250.7 L442.8 248.0 L445.2 245.3 L447.7 242.5 L450.2 239.7 L452.6 236.9 L455.1 234.0 L457.6 231.1 L460.0 228.2 L462.5 225.2 L465.0 222.2 L467.4 219.1 L469.9 216.0 L472.4 212.9 L474.8 209.7 L477.3 206.5 L479.8 203.2 L482.2 200.0 L484.7 196.7 L487.2 193.3 L489.6 189.9 L492.1 186.5 L494.6 183.1 L497.0 179.6 L499.5 176.1 L502.0 172.6 L504.4 169.1 L506.9 165.5 L509.4 161.9 L511.8 158.3 L514.3 154.6 L516.8 151.0 L519.2 147.3 L521.7 143.5 L524.2 139.8 L526.6 136.0 L529.1 132.2 L531.6 128.4 L534.0 124.5 L536.5 120.7 L539.0 117.0 L541.4 113.3 L543.9 109.6 L546.4 106.0 L548.8 102.5 L551.3 98.9 L553.8 95.5 L556.2 92.0 L558.7 88.6 L561.2 85.2 L563.6 81.9 L566.1 78.6 L568.6 75.3 L571.0 72.0 L573.5 68.8 L576.0 65.6 L578.4 62.5 L580.9 59.4 L583.4 56.3 L585.8 53.2 L588.3 50.2 L590.8 47.3 L593.2 44.3 L595.7 41.4 L598.2 38.6 L600.6 35.8 L603.1 33.0 L605.6 30.3 L608.0 27.6 L610.5 24.9 L613.0 22.3 L615.4 19.8 L617.9 17.2 L620.4 14.8 L622.8 12.3 L625.3 9.9 L627.8 7.5 L630.2 5.2 L632.7 2.9 L635.2 0.6 L637.6 -1.7 L640.1 -3.9 L642.6 -6.2 L645.0 -8.5 L647.5 -10.7 L650.0 -13.0 L652.4 -15.2 L654.9 -17.4 L657.4 -19.6 L659.8 -21.8 L662.3 -24.0 L664.8 -26.1 L667.2 -28.2 L669.7 -30.3 L672.2 -32.4 L674.6 -34.5 L677.1 -36.5 L679.6 -38.6 L682.0 -40.7 L684.5 -42.7 L684.5 -41.1 L682.0 -39.1 L679.6 -37.0 L677.1 -34.9 L674.6 -32.9 L672.2 -30.8 L669.7 -28.7 L667.2 -26.6 L664.8 -24.5 L662.3 -22.4 L659.8 -20.2 L657.4 -18.0 L654.9 -15.8 L652.4 -13.6 L650.0 -11.4 L647.5 -9.1 L645.0 -6.8 L642.6 -4.4 L640.1 -2.0 L637.6 0.5 L635.2 3.1 L632.7 5.7 L630.2 8.4 L627.8 11.1 L625.3 13.9 L622.8 16.7 L620.4 19.5 L617.9 22.4 L615.4 25.3 L613.0 28.2 L610.5 31.2 L608.0 34.2 L605.6 37.3 L603.1 40.4 L600.6 43.5 L598.2 46.7 L595.7 49.9 L593.2 53.2 L590.8 56.4 L588.3 59.7 L585.8 63.1 L583.4 66.5 L580.9 69.9 L578.4 73.3 L576.0 76.8 L573.5 80.3 L571.0 83.8 L568.6 87.3 L566.1 90.9 L563.6 94.5 L561.2 98.1 L558.7 101.8 L556.2 105.4 L553.8 109.1 L551.3 112.9 L548.8 116.6 L546.4 120.4 L543.9 124.2 L541.4 128.0 L539.0 131.9 L536.5 135.7 L534.0 139.4 L531.6 143.1 L529.1 146.8 L526.6 150.4 L524.2 153.9 L521.7 157.5 L519.2 160.9 L516.8 164.4 L514.3 167.8 L511.8 171.2 L509.4 174.5 L506.9 177.8 L504.4 181.1 L502.0 184.4 L499.5 187.6 L497.0 190.8 L494.6 193.9 L492.1 197.0 L489.6 200.1 L487.2 203.2 L484.7 206.2 L482.2 209.1 L479.8 212.1 L477.3 215.0 L474.8 217.8 L472.4 220.6 L469.9 223.4 L467.4 226.1 L465.0 228.8 L462.5 231.5 L460.0 234.1 L457.6 236.6 L455.1 239.2 L452.6 241.6 L450.2 244.1 L447.7 246.5 L445.2 248.9 L442.8 251.2 L440.3 253.5 L437.8 255.8 L435.4 258.1 L432.9 260.3 L430.4 262.6 L428.0 264.9 L425.5 267.1 L423.0 269.4 L420.6 271.6 L418.1 273.8 L415.6 276.0 L413.2 278.2 L410.7 280.4 L408.2 282.5 L405.8 284.6 L403.3 286.7 L400.8 288.8 L398.4 290.9 L395.9 292.9 L393.4 295.0 L391.0 297.1 L388.5 299.1Z M388.5 259.2 L391.0 257.2 L393.4 255.1 L395.9 253.0 L398.4 251.0 L400.8 248.9 L403.3 246.8 L405.8 244.7 L408.2 242.6 L410.7 240.5 L413.2 238.3 L415.6 236.1 L418.1 233.9 L420.6 231.7 L423.0 229.5 L425.5 227.2 L428.0 224.9 L430.4 222.5 L432.9 220.1 L435.4 217.6 L437.8 215.0 L440.3 212.4 L442.8 209.7 L445.2 207.0 L447.7 204.2 L450.2 201.4 L452.6 198.6 L455.1 195.7 L457.6 192.8 L460.0 189.9 L462.5 186.9 L465.0 183.9 L467.4 180.8 L469.9 177.7 L472.4 174.6 L474.8 171.4 L477.3 168.2 L479.8 164.9 L482.2 161.7 L484.7 158.4 L487.2 155.0 L489.6 151.6 L492.1 148.2 L494.6 144.8 L497.0 141.3 L499.5 137.8 L502.0 134.3 L504.4 130.8 L506.9 127.2 L509.4 123.6 L511.8 120.0 L514.3 116.3 L516.8 112.7 L519.2 109.0 L521.7 105.2 L524.2 101.5 L526.6 97.7 L529.1 93.9 L531.6 90.1 L534.0 86.2 L536.5 82.4 L539.0 78.7 L541.4 75.0 L543.9 71.3 L546.4 67.7 L548.8 64.2 L551.3 60.6 L553.8 57.2 L556.2 53.7 L558.7 50.3 L561.2 46.9 L563.6 43.6 L566.1 40.3 L568.6 37.0 L571.0 33.7 L573.5 30.5 L576.0 27.3 L578.4 24.2 L580.9 21.1 L583.4 18.0 L585.8 14.9 L588.3 11.9 L590.8 9.0 L593.2 6.0 L595.7 3.1 L598.2 0.3 L600.6 -2.5 L603.1 -5.3 L605.6 -8.0 L608.0 -10.7 L610.5 -13.4 L613.0 -16.0 L615.4 -18.5 L617.9 -21.1 L620.4 -23.5 L622.8 -26.0 L625.3 -28.4 L627.8 -30.8 L630.2 -33.1 L632.7 -35.4 L635.2 -37.7 L637.6 -40.0 L640.1 -42.2 L642.6 -44.5 L645.0 -46.8 L647.5 -49.0 L650.0 -51.3 L652.4 -53.5 L654.9 -55.7 L657.4 -57.9 L659.8 -60.1 L662.3 -62.3 L664.8 -64.4 L667.2 -66.5 L669.7 -68.6 L672.2 -70.7 L674.6 -72.8 L677.1 -74.8 L679.6 -76.9 L682.0 -79.0 L684.5 -81.0 L684.5 -79.4 L682.0 -77.4 L679.6 -75.3 L677.1 -73.2 L674.6 -71.2 L672.2 -69.1 L669.7 -67.0 L667.2 -64.9 L664.8 -62.8 L662.3 -60.7 L659.8 -58.5 L657.4 -56.3 L654.9 -54.1 L652.4 -51.9 L650.0 -49.7 L647.5 -47.4 L645.0 -45.1 L642.6 -42.7 L640.1 -40.3 L637.6 -37.8 L635.2 -35.2 L632.7 -32.6 L630.2 -29.9 L627.8 -27.2 L625.3 -24.4 L622.8 -21.6 L620.4 -18.8 L617.9 -15.9 L615.4 -13.0 L613.0 -10.1 L610.5 -7.1 L608.0 -4.1 L605.6 -1.0 L603.1 2.1 L600.6 5.2 L598.2 8.4 L595.7 11.6 L593.2 14.9 L590.8 18.1 L588.3 21.4 L585.8 24.8 L583.4 28.2 L580.9 31.6 L578.4 35.0 L576.0 38.5 L573.5 42.0 L571.0 45.5 L568.6 49.0 L566.1 52.6 L563.6 56.2 L561.2 59.8 L558.7 63.5 L556.2 67.1 L553.8 70.8 L551.3 74.6 L548.8 78.3 L546.4 82.1 L543.9 85.9 L541.4 89.7 L539.0 93.6 L536.5 97.4 L534.0 101.1 L531.6 104.8 L529.1 108.5 L526.6 112.1 L524.2 115.6 L521.7 119.2 L519.2 122.6 L516.8 126.1 L514.3 129.5 L511.8 132.9 L509.4 136.2 L506.9 139.5 L504.4 142.8 L502.0 146.1 L499.5 149.3 L497.0 152.5 L494.6 155.6 L492.1 158.7 L489.6 161.8 L487.2 164.9 L484.7 167.9 L482.2 170.8 L479.8 173.8 L477.3 176.7 L474.8 179.5 L472.4 182.3 L469.9 185.1 L467.4 187.8 L465.0 190.5 L462.5 193.2 L460.0 195.8 L457.6 198.3 L455.1 200.9 L452.6 203.3 L450.2 205.8 L447.7 208.2 L445.2 210.6 L442.8 212.9 L440.3 215.2 L437.8 217.5 L435.4 219.8 L432.9 222.0 L430.4 224.3 L428.0 226.6 L425.5 228.8 L423.0 231.1 L420.6 233.3 L418.1 235.5 L415.6 237.7 L413.2 239.9 L410.7 242.1 L408.2 244.2 L405.8 246.3 L403.3 248.4 L400.8 250.5 L398.4 252.6 L395.9 254.6 L393.4 256.7 L391.0 258.8 L388.5 260.8Z M388.5 220.9 L391.0 218.9 L393.4 216.8 L395.9 214.7 L398.4 212.7 L400.8 210.6 L403.3 208.5 L405.8 206.4 L408.2 204.3 L410.7 202.2 L413.2 200.0 L415.6 197.8 L418.1 195.6 L420.6 193.4 L423.0 191.2 L425.5 188.9 L428.0 186.6 L430.4 184.2 L432.9 181.8 L435.4 179.3 L437.8 176.7 L440.3 174.1 L442.8 171.4 L445.2 168.7 L447.7 165.9 L450.2 163.1 L452.6 160.3 L455.1 157.4 L457.6 154.5 L460.0 151.6 L462.5 148.6 L465.0 145.6 L467.4 142.5 L469.9 139.4 L472.4 136.3 L474.8 133.1 L477.3 129.9 L479.8 126.6 L482.2 123.4 L484.7 120.1 L487.2 116.7 L489.6 113.3 L492.1 109.9 L494.6 106.5 L497.0 103.0 L499.5 99.5 L502.0 96.0 L504.4 92.5 L506.9 88.9 L509.4 85.3 L511.8 81.7 L514.3 78.0 L516.8 74.4 L519.2 70.7 L521.7 66.9 L524.2 63.2 L526.6 59.4 L529.1 55.6 L531.6 51.8 L534.0 47.9 L536.5 44.1 L539.0 40.4 L541.4 36.7 L543.9 33.0 L546.4 29.4 L548.8 25.9 L551.3 22.3 L553.8 18.9 L556.2 15.4 L558.7 12.0 L561.2 8.6 L563.6 5.3 L566.1 2.0 L568.6 -1.3 L571.0 -4.6 L573.5 -7.8 L576.0 -11.0 L578.4 -14.1 L580.9 -17.2 L583.4 -20.3 L585.8 -23.4 L588.3 -26.4 L590.8 -29.3 L593.2 -32.3 L595.7 -35.2 L598.2 -38.0 L600.6 -40.8 L603.1 -43.6 L605.6 -46.3 L608.0 -49.0 L610.5 -51.7 L613.0 -54.3 L615.4 -56.8 L617.9 -59.4 L620.4 -61.8 L622.8 -64.3 L625.3 -66.7 L627.8 -69.1 L630.2 -71.4 L632.7 -73.7 L635.2 -76.0 L637.6 -78.3 L640.1 -80.5 L642.6 -82.8 L645.0 -85.1 L647.5 -87.3 L650.0 -89.6 L652.4 -91.8 L654.9 -94.0 L657.4 -96.2 L659.8 -98.4 L662.3 -100.6 L664.8 -102.7 L667.2 -104.8 L669.7 -106.9 L672.2 -109.0 L674.6 -111.1 L677.1 -113.1 L679.6 -115.2 L682.0 -117.3 L684.5 -119.3 L684.5 -117.7 L682.0 -115.7 L679.6 -113.6 L677.1 -111.5 L674.6 -109.5 L672.2 -107.4 L669.7 -105.3 L667.2 -103.2 L664.8 -101.1 L662.3 -99.0 L659.8 -96.8 L657.4 -94.6 L654.9 -92.4 L652.4 -90.2 L650.0 -88.0 L647.5 -85.7 L645.0 -83.4 L642.6 -81.0 L640.1 -78.6 L637.6 -76.1 L635.2 -73.5 L632.7 -70.9 L630.2 -68.2 L627.8 -65.5 L625.3 -62.7 L622.8 -59.9 L620.4 -57.1 L617.9 -54.2 L615.4 -51.3 L613.0 -48.4 L610.5 -45.4 L608.0 -42.4 L605.6 -39.3 L603.1 -36.2 L600.6 -33.1 L598.2 -29.9 L595.7 -26.7 L593.2 -23.4 L590.8 -20.2 L588.3 -16.9 L585.8 -13.5 L583.4 -10.1 L580.9 -6.7 L578.4 -3.3 L576.0 0.2 L573.5 3.7 L571.0 7.2 L568.6 10.7 L566.1 14.3 L563.6 17.9 L561.2 21.5 L558.7 25.2 L556.2 28.8 L553.8 32.5 L551.3 36.3 L548.8 40.0 L546.4 43.8 L543.9 47.6 L541.4 51.4 L539.0 55.3 L536.5 59.1 L534.0 62.8 L531.6 66.5 L529.1 70.2 L526.6 73.8 L524.2 77.3 L521.7 80.9 L519.2 84.3 L516.8 87.8 L514.3 91.2 L511.8 94.6 L509.4 97.9 L506.9 101.2 L504.4 104.5 L502.0 107.8 L499.5 111.0 L497.0 114.2 L494.6 117.3 L492.1 120.4 L489.6 123.5 L487.2 126.6 L484.7 129.6 L482.2 132.5 L479.8 135.5 L477.3 138.4 L474.8 141.2 L472.4 144.0 L469.9 146.8 L467.4 149.5 L465.0 152.2 L462.5 154.9 L460.0 157.5 L457.6 160.0 L455.1 162.6 L452.6 165.0 L450.2 167.5 L447.7 169.9 L445.2 172.3 L442.8 174.6 L440.3 176.9 L437.8 179.2 L435.4 181.5 L432.9 183.7 L430.4 186.0 L428.0 188.3 L425.5 190.5 L423.0 192.8 L420.6 195.0 L418.1 197.2 L415.6 199.4 L413.2 201.6 L410.7 203.8 L408.2 205.9 L405.8 208.0 L403.3 210.1 L400.8 212.2 L398.4 214.3 L395.9 216.3 L393.4 218.4 L391.0 220.5 L388.5 222.5Z M388.5 182.6 L391.0 180.6 L393.4 178.5 L395.9 176.4 L398.4 174.4 L400.8 172.3 L403.3 170.2 L405.8 168.1 L408.2 166.0 L410.7 163.9 L413.2 161.7 L415.6 159.5 L418.1 157.3 L420.6 155.1 L423.0 152.9 L425.5 150.6 L428.0 148.3 L430.4 145.9 L432.9 143.5 L435.4 141.0 L437.8 138.4 L440.3 135.8 L442.8 133.1 L445.2 130.4 L447.7 127.6 L450.2 124.8 L452.6 122.0 L455.1 119.1 L457.6 116.2 L460.0 113.3 L462.5 110.3 L465.0 107.3 L467.4 104.2 L469.9 101.1 L472.4 98.0 L474.8 94.8 L477.3 91.6 L479.8 88.3 L482.2 85.1 L484.7 81.8 L487.2 78.4 L489.6 75.0 L492.1 71.6 L494.6 68.2 L497.0 64.7 L499.5 61.2 L502.0 57.7 L504.4 54.2 L506.9 50.6 L509.4 47.0 L511.8 43.4 L514.3 39.7 L516.8 36.1 L519.2 32.4 L521.7 28.6 L524.2 24.9 L526.6 21.1 L529.1 17.3 L531.6 13.5 L534.0 9.6 L536.5 5.8 L539.0 2.1 L541.4 -1.6 L543.9 -5.3 L546.4 -8.9 L548.8 -12.4 L551.3 -16.0 L553.8 -19.4 L556.2 -22.9 L558.7 -26.3 L561.2 -29.7 L563.6 -33.0 L566.1 -36.3 L568.6 -39.6 L571.0 -42.9 L573.5 -46.1 L576.0 -49.3 L578.4 -52.4 L580.9 -55.5 L583.4 -58.6 L585.8 -61.7 L588.3 -64.7 L590.8 -67.6 L593.2 -70.6 L595.7 -73.5 L598.2 -76.3 L600.6 -79.1 L603.1 -81.9 L605.6 -84.6 L608.0 -87.3 L610.5 -90.0 L613.0 -92.6 L615.4 -95.1 L617.9 -97.7 L620.4 -100.1 L622.8 -102.6 L625.3 -105.0 L627.8 -107.4 L630.2 -109.7 L632.7 -112.0 L635.2 -114.3 L637.6 -116.6 L640.1 -118.8 L642.6 -121.1 L645.0 -123.4 L647.5 -125.6 L650.0 -127.9 L652.4 -130.1 L654.9 -132.3 L657.4 -134.5 L659.8 -136.7 L662.3 -138.9 L664.8 -141.0 L667.2 -143.1 L669.7 -145.2 L672.2 -147.3 L674.6 -149.4 L677.1 -151.4 L679.6 -153.5 L682.0 -155.6 L684.5 -157.6 L684.5 -156.0 L682.0 -154.0 L679.6 -151.9 L677.1 -149.8 L674.6 -147.8 L672.2 -145.7 L669.7 -143.6 L667.2 -141.5 L664.8 -139.4 L662.3 -137.3 L659.8 -135.1 L657.4 -132.9 L654.9 -130.7 L652.4 -128.5 L650.0 -126.3 L647.5 -124.0 L645.0 -121.7 L642.6 -119.3 L640.1 -116.9 L637.6 -114.4 L635.2 -111.8 L632.7 -109.2 L630.2 -106.5 L627.8 -103.8 L625.3 -101.0 L622.8 -98.2 L620.4 -95.4 L617.9 -92.5 L615.4 -89.6 L613.0 -86.7 L610.5 -83.7 L608.0 -80.7 L605.6 -77.6 L603.1 -74.5 L600.6 -71.4 L598.2 -68.2 L595.7 -65.0 L593.2 -61.7 L590.8 -58.5 L588.3 -55.2 L585.8 -51.8 L583.4 -48.4 L580.9 -45.0 L578.4 -41.6 L576.0 -38.1 L573.5 -34.6 L571.0 -31.1 L568.6 -27.6 L566.1 -24.0 L563.6 -20.4 L561.2 -16.8 L558.7 -13.1 L556.2 -9.5 L553.8 -5.8 L551.3 -2.0 L548.8 1.7 L546.4 5.5 L543.9 9.3 L541.4 13.1 L539.0 17.0 L536.5 20.8 L534.0 24.5 L531.6 28.2 L529.1 31.9 L526.6 35.5 L524.2 39.0 L521.7 42.6 L519.2 46.0 L516.8 49.5 L514.3 52.9 L511.8 56.3 L509.4 59.6 L506.9 62.9 L504.4 66.2 L502.0 69.5 L499.5 72.7 L497.0 75.9 L494.6 79.0 L492.1 82.1 L489.6 85.2 L487.2 88.3 L484.7 91.3 L482.2 94.2 L479.8 97.2 L477.3 100.1 L474.8 102.9 L472.4 105.7 L469.9 108.5 L467.4 111.2 L465.0 113.9 L462.5 116.6 L460.0 119.2 L457.6 121.7 L455.1 124.3 L452.6 126.7 L450.2 129.2 L447.7 131.6 L445.2 134.0 L442.8 136.3 L440.3 138.6 L437.8 140.9 L435.4 143.2 L432.9 145.4 L430.4 147.7 L428.0 150.0 L425.5 152.2 L423.0 154.5 L420.6 156.7 L418.1 158.9 L415.6 161.1 L413.2 163.3 L410.7 165.5 L408.2 167.6 L405.8 169.7 L403.3 171.8 L400.8 173.9 L398.4 176.0 L395.9 178.0 L393.4 180.1 L391.0 182.2 L388.5 184.2Z M388.5 144.3 L391.0 142.3 L393.4 140.2 L395.9 138.1 L398.4 136.1 L400.8 134.0 L403.3 131.9 L405.8 129.8 L408.2 127.7 L410.7 125.6 L413.2 123.4 L415.6 121.2 L418.1 119.0 L420.6 116.8 L423.0 114.6 L425.5 112.3 L428.0 110.0 L430.4 107.6 L432.9 105.2 L435.4 102.7 L437.8 100.1 L440.3 97.5 L442.8 94.8 L445.2 92.1 L447.7 89.3 L450.2 86.5 L452.6 83.7 L455.1 80.8 L457.6 77.9 L460.0 75.0 L462.5 72.0 L465.0 69.0 L467.4 65.9 L469.9 62.8 L472.4 59.7 L474.8 56.5 L477.3 53.3 L479.8 50.0 L482.2 46.8 L484.7 43.5 L487.2 40.1 L489.6 36.7 L492.1 33.3 L494.6 29.9 L497.0 26.4 L499.5 22.9 L502.0 19.4 L504.4 15.9 L506.9 12.3 L509.4 8.7 L511.8 5.1 L514.3 1.4 L516.8 -2.2 L519.2 -5.9 L521.7 -9.7 L524.2 -13.4 L526.6 -17.2 L529.1 -21.0 L531.6 -24.8 L534.0 -28.7 L536.5 -32.5 L539.0 -36.2 L541.4 -39.9 L543.9 -43.6 L546.4 -47.2 L548.8 -50.7 L551.3 -54.3 L553.8 -57.7 L556.2 -61.2 L558.7 -64.6 L561.2 -68.0 L563.6 -71.3 L566.1 -74.6 L568.6 -77.9 L571.0 -81.2 L573.5 -84.4 L576.0 -87.6 L578.4 -90.7 L580.9 -93.8 L583.4 -96.9 L585.8 -100.0 L588.3 -103.0 L590.8 -105.9 L593.2 -108.9 L595.7 -111.8 L598.2 -114.6 L600.6 -117.4 L603.1 -120.2 L605.6 -122.9 L608.0 -125.6 L610.5 -128.3 L613.0 -130.9 L615.4 -133.4 L617.9 -136.0 L620.4 -138.4 L622.8 -140.9 L625.3 -143.3 L627.8 -145.7 L630.2 -148.0 L632.7 -150.3 L635.2 -152.6 L637.6 -154.9 L640.1 -157.1 L642.6 -159.4 L645.0 -161.7 L647.5 -163.9 L650.0 -166.2 L652.4 -168.4 L654.9 -170.6 L657.4 -172.8 L659.8 -175.0 L662.3 -177.2 L664.8 -179.3 L667.2 -181.4 L669.7 -183.5 L672.2 -185.6 L674.6 -187.7 L677.1 -189.7 L679.6 -191.8 L682.0 -193.9 L684.5 -195.9 L684.5 -194.3 L682.0 -192.3 L679.6 -190.2 L677.1 -188.1 L674.6 -186.1 L672.2 -184.0 L669.7 -181.9 L667.2 -179.8 L664.8 -177.7 L662.3 -175.6 L659.8 -173.4 L657.4 -171.2 L654.9 -169.0 L652.4 -166.8 L650.0 -164.6 L647.5 -162.3 L645.0 -160.0 L642.6 -157.6 L640.1 -155.2 L637.6 -152.7 L635.2 -150.1 L632.7 -147.5 L630.2 -144.8 L627.8 -142.1 L625.3 -139.3 L622.8 -136.5 L620.4 -133.7 L617.9 -130.8 L615.4 -127.9 L613.0 -125.0 L610.5 -122.0 L608.0 -119.0 L605.6 -115.9 L603.1 -112.8 L600.6 -109.7 L598.2 -106.5 L595.7 -103.3 L593.2 -100.0 L590.8 -96.8 L588.3 -93.5 L585.8 -90.1 L583.4 -86.7 L580.9 -83.3 L578.4 -79.9 L576.0 -76.4 L573.5 -72.9 L571.0 -69.4 L568.6 -65.9 L566.1 -62.3 L563.6 -58.7 L561.2 -55.1 L558.7 -51.4 L556.2 -47.8 L553.8 -44.1 L551.3 -40.3 L548.8 -36.6 L546.4 -32.8 L543.9 -29.0 L541.4 -25.2 L539.0 -21.3 L536.5 -17.5 L534.0 -13.8 L531.6 -10.1 L529.1 -6.4 L526.6 -2.8 L524.2 0.7 L521.7 4.3 L519.2 7.7 L516.8 11.2 L514.3 14.6 L511.8 18.0 L509.4 21.3 L506.9 24.6 L504.4 27.9 L502.0 31.2 L499.5 34.4 L497.0 37.6 L494.6 40.7 L492.1 43.8 L489.6 46.9 L487.2 50.0 L484.7 53.0 L482.2 55.9 L479.8 58.9 L477.3 61.8 L474.8 64.6 L472.4 67.4 L469.9 70.2 L467.4 72.9 L465.0 75.6 L462.5 78.3 L460.0 80.9 L457.6 83.4 L455.1 86.0 L452.6 88.4 L450.2 90.9 L447.7 93.3 L445.2 95.7 L442.8 98.0 L440.3 100.3 L437.8 102.6 L435.4 104.9 L432.9 107.1 L430.4 109.4 L428.0 111.7 L425.5 113.9 L423.0 116.2 L420.6 118.4 L418.1 120.6 L415.6 122.8 L413.2 125.0 L410.7 127.2 L408.2 129.3 L405.8 131.4 L403.3 133.5 L400.8 135.6 L398.4 137.7 L395.9 139.7 L393.4 141.8 L391.0 143.9 L388.5 145.9Z M388.5 106.0 L391.0 104.0 L393.4 101.9 L395.9 99.8 L398.4 97.8 L400.8 95.7 L403.3 93.6 L405.8 91.5 L408.2 89.4 L410.7 87.3 L413.2 85.1 L415.6 82.9 L418.1 80.7 L420.6 78.5 L423.0 76.3 L425.5 74.0 L428.0 71.7 L430.4 69.3 L432.9 66.9 L435.4 64.4 L437.8 61.8 L440.3 59.2 L442.8 56.5 L445.2 53.8 L447.7 51.0 L450.2 48.2 L452.6 45.4 L455.1 42.5 L457.6 39.6 L460.0 36.7 L462.5 33.7 L465.0 30.7 L467.4 27.6 L469.9 24.5 L472.4 21.4 L474.8 18.2 L477.3 15.0 L479.8 11.7 L482.2 8.5 L484.7 5.2 L487.2 1.8 L489.6 -1.6 L492.1 -5.0 L494.6 -8.4 L497.0 -11.9 L499.5 -15.4 L502.0 -18.9 L504.4 -22.4 L506.9 -26.0 L509.4 -29.6 L511.8 -33.2 L514.3 -36.9 L516.8 -40.5 L519.2 -44.2 L521.7 -48.0 L524.2 -51.7 L526.6 -55.5 L529.1 -59.3 L531.6 -63.1 L534.0 -67.0 L536.5 -70.8 L539.0 -74.5 L541.4 -78.2 L543.9 -81.9 L546.4 -85.5 L548.8 -89.0 L551.3 -92.6 L553.8 -96.0 L556.2 -99.5 L558.7 -102.9 L561.2 -106.3 L563.6 -109.6 L566.1 -112.9 L568.6 -116.2 L571.0 -119.5 L573.5 -122.7 L576.0 -125.9 L578.4 -129.0 L580.9 -132.1 L583.4 -135.2 L585.8 -138.3 L588.3 -141.3 L590.8 -144.2 L593.2 -147.2 L595.7 -150.1 L598.2 -152.9 L600.6 -155.7 L603.1 -158.5 L605.6 -161.2 L608.0 -163.9 L610.5 -166.6 L613.0 -169.2 L615.4 -171.7 L617.9 -174.3 L620.4 -176.7 L622.8 -179.2 L625.3 -181.6 L627.8 -184.0 L630.2 -186.3 L632.7 -188.6 L635.2 -190.9 L637.6 -193.2 L640.1 -195.4 L642.6 -197.7 L645.0 -200.0 L647.5 -202.2 L650.0 -204.5 L652.4 -206.7 L654.9 -208.9 L657.4 -211.1 L659.8 -213.3 L662.3 -215.5 L664.8 -217.6 L667.2 -219.7 L669.7 -221.8 L672.2 -223.9 L674.6 -226.0 L677.1 -228.0 L679.6 -230.1 L682.0 -232.2 L684.5 -234.2 L684.5 -232.6 L682.0 -230.6 L679.6 -228.5 L677.1 -226.4 L674.6 -224.4 L672.2 -222.3 L669.7 -220.2 L667.2 -218.1 L664.8 -216.0 L662.3 -213.9 L659.8 -211.7 L657.4 -209.5 L654.9 -207.3 L652.4 -205.1 L650.0 -202.9 L647.5 -200.6 L645.0 -198.3 L642.6 -195.9 L640.1 -193.5 L637.6 -191.0 L635.2 -188.4 L632.7 -185.8 L630.2 -183.1 L627.8 -180.4 L625.3 -177.6 L622.8 -174.8 L620.4 -172.0 L617.9 -169.1 L615.4 -166.2 L613.0 -163.3 L610.5 -160.3 L608.0 -157.3 L605.6 -154.2 L603.1 -151.1 L600.6 -148.0 L598.2 -144.8 L595.7 -141.6 L593.2 -138.3 L590.8 -135.1 L588.3 -131.8 L585.8 -128.4 L583.4 -125.0 L580.9 -121.6 L578.4 -118.2 L576.0 -114.7 L573.5 -111.2 L571.0 -107.7 L568.6 -104.2 L566.1 -100.6 L563.6 -97.0 L561.2 -93.4 L558.7 -89.7 L556.2 -86.1 L553.8 -82.4 L551.3 -78.6 L548.8 -74.9 L546.4 -71.1 L543.9 -67.3 L541.4 -63.5 L539.0 -59.6 L536.5 -55.8 L534.0 -52.1 L531.6 -48.4 L529.1 -44.7 L526.6 -41.1 L524.2 -37.6 L521.7 -34.0 L519.2 -30.6 L516.8 -27.1 L514.3 -23.7 L511.8 -20.3 L509.4 -17.0 L506.9 -13.7 L504.4 -10.4 L502.0 -7.1 L499.5 -3.9 L497.0 -0.7 L494.6 2.4 L492.1 5.5 L489.6 8.6 L487.2 11.7 L484.7 14.7 L482.2 17.6 L479.8 20.6 L477.3 23.5 L474.8 26.3 L472.4 29.1 L469.9 31.9 L467.4 34.6 L465.0 37.3 L462.5 40.0 L460.0 42.6 L457.6 45.1 L455.1 47.7 L452.6 50.1 L450.2 52.6 L447.7 55.0 L445.2 57.4 L442.8 59.7 L440.3 62.0 L437.8 64.3 L435.4 66.6 L432.9 68.8 L430.4 71.1 L428.0 73.4 L425.5 75.6 L423.0 77.9 L420.6 80.1 L418.1 82.3 L415.6 84.5 L413.2 86.7 L410.7 88.9 L408.2 91.0 L405.8 93.1 L403.3 95.2 L400.8 97.3 L398.4 99.4 L395.9 101.4 L393.4 103.5 L391.0 105.6 L388.5 107.6Z M388.5 67.7 L391.0 65.7 L393.4 63.6 L395.9 61.5 L398.4 59.5 L400.8 57.4 L403.3 55.3 L405.8 53.2 L408.2 51.1 L410.7 49.0 L413.2 46.8 L415.6 44.6 L418.1 42.4 L420.6 40.2 L423.0 38.0 L425.5 35.7 L428.0 33.4 L430.4 31.0 L432.9 28.6 L435.4 26.1 L437.8 23.5 L440.3 20.9 L442.8 18.2 L445.2 15.5 L447.7 12.7 L450.2 9.9 L452.6 7.1 L455.1 4.2 L457.6 1.3 L460.0 -1.6 L462.5 -4.6 L465.0 -7.6 L467.4 -10.7 L469.9 -13.8 L472.4 -16.9 L474.8 -20.1 L477.3 -23.3 L479.8 -26.6 L482.2 -29.8 L484.7 -33.1 L487.2 -36.5 L489.6 -39.9 L492.1 -43.3 L494.6 -46.7 L497.0 -50.2 L499.5 -53.7 L502.0 -57.2 L504.4 -60.7 L506.9 -64.3 L509.4 -67.9 L511.8 -71.5 L514.3 -75.2 L516.8 -78.8 L519.2 -82.5 L521.7 -86.3 L524.2 -90.0 L526.6 -93.8 L529.1 -97.6 L531.6 -101.4 L534.0 -105.3 L536.5 -109.1 L539.0 -112.8 L541.4 -116.5 L543.9 -120.2 L546.4 -123.8 L548.8 -127.3 L551.3 -130.9 L553.8 -134.3 L556.2 -137.8 L558.7 -141.2 L561.2 -144.6 L563.6 -147.9 L566.1 -151.2 L568.6 -154.5 L571.0 -157.8 L573.5 -161.0 L576.0 -164.2 L578.4 -167.3 L580.9 -170.4 L583.4 -173.5 L585.8 -176.6 L588.3 -179.6 L590.8 -182.5 L593.2 -185.5 L595.7 -188.4 L598.2 -191.2 L600.6 -194.0 L603.1 -196.8 L605.6 -199.5 L608.0 -202.2 L610.5 -204.9 L613.0 -207.5 L615.4 -210.0 L617.9 -212.6 L620.4 -215.0 L622.8 -217.5 L625.3 -219.9 L627.8 -222.3 L630.2 -224.6 L632.7 -226.9 L635.2 -229.2 L637.6 -231.5 L640.1 -233.7 L642.6 -236.0 L645.0 -238.3 L647.5 -240.5 L650.0 -242.8 L652.4 -245.0 L654.9 -247.2 L657.4 -249.4 L659.8 -251.6 L662.3 -253.8 L664.8 -255.9 L667.2 -258.0 L669.7 -260.1 L672.2 -262.2 L674.6 -264.3 L677.1 -266.3 L679.6 -268.4 L682.0 -270.5 L684.5 -272.5 L684.5 -270.9 L682.0 -268.9 L679.6 -266.8 L677.1 -264.7 L674.6 -262.7 L672.2 -260.6 L669.7 -258.5 L667.2 -256.4 L664.8 -254.3 L662.3 -252.2 L659.8 -250.0 L657.4 -247.8 L654.9 -245.6 L652.4 -243.4 L650.0 -241.2 L647.5 -238.9 L645.0 -236.6 L642.6 -234.2 L640.1 -231.8 L637.6 -229.3 L635.2 -226.7 L632.7 -224.1 L630.2 -221.4 L627.8 -218.7 L625.3 -215.9 L622.8 -213.1 L620.4 -210.3 L617.9 -207.4 L615.4 -204.5 L613.0 -201.6 L610.5 -198.6 L608.0 -195.6 L605.6 -192.5 L603.1 -189.4 L600.6 -186.3 L598.2 -183.1 L595.7 -179.9 L593.2 -176.6 L590.8 -173.4 L588.3 -170.1 L585.8 -166.7 L583.4 -163.3 L580.9 -159.9 L578.4 -156.5 L576.0 -153.0 L573.5 -149.5 L571.0 -146.0 L568.6 -142.5 L566.1 -138.9 L563.6 -135.3 L561.2 -131.7 L558.7 -128.0 L556.2 -124.4 L553.8 -120.7 L551.3 -116.9 L548.8 -113.2 L546.4 -109.4 L543.9 -105.6 L541.4 -101.8 L539.0 -97.9 L536.5 -94.1 L534.0 -90.4 L531.6 -86.7 L529.1 -83.0 L526.6 -79.4 L524.2 -75.9 L521.7 -72.3 L519.2 -68.9 L516.8 -65.4 L514.3 -62.0 L511.8 -58.6 L509.4 -55.3 L506.9 -52.0 L504.4 -48.7 L502.0 -45.4 L499.5 -42.2 L497.0 -39.0 L494.6 -35.9 L492.1 -32.8 L489.6 -29.7 L487.2 -26.6 L484.7 -23.6 L482.2 -20.7 L479.8 -17.7 L477.3 -14.8 L474.8 -12.0 L472.4 -9.2 L469.9 -6.4 L467.4 -3.7 L465.0 -1.0 L462.5 1.7 L460.0 4.3 L457.6 6.8 L455.1 9.4 L452.6 11.8 L450.2 14.3 L447.7 16.7 L445.2 19.1 L442.8 21.4 L440.3 23.7 L437.8 26.0 L435.4 28.3 L432.9 30.5 L430.4 32.8 L428.0 35.1 L425.5 37.3 L423.0 39.6 L420.6 41.8 L418.1 44.0 L415.6 46.2 L413.2 48.4 L410.7 50.6 L408.2 52.7 L405.8 54.8 L403.3 56.9 L400.8 59.0 L398.4 61.1 L395.9 63.1 L393.4 65.2 L391.0 67.3 L388.5 69.3Z M388.5 29.4 L391.0 27.4 L393.4 25.3 L395.9 23.2 L398.4 21.2 L400.8 19.1 L403.3 17.0 L405.8 14.9 L408.2 12.8 L410.7 10.7 L413.2 8.5 L415.6 6.3 L418.1 4.1 L420.6 1.9 L423.0 -0.3 L425.5 -2.6 L428.0 -4.9 L430.4 -7.3 L432.9 -9.7 L435.4 -12.2 L437.8 -14.8 L440.3 -17.4 L442.8 -20.1 L445.2 -22.8 L447.7 -25.6 L450.2 -28.4 L452.6 -31.2 L455.1 -34.1 L457.6 -37.0 L460.0 -39.9 L462.5 -42.9 L465.0 -45.9 L467.4 -49.0 L469.9 -52.1 L472.4 -55.2 L474.8 -58.4 L477.3 -61.6 L479.8 -64.9 L482.2 -68.1 L484.7 -71.4 L487.2 -74.8 L489.6 -78.2 L492.1 -81.6 L494.6 -85.0 L497.0 -88.5 L499.5 -92.0 L502.0 -95.5 L504.4 -99.0 L506.9 -102.6 L509.4 -106.2 L511.8 -109.8 L514.3 -113.5 L516.8 -117.1 L519.2 -120.8 L521.7 -124.6 L524.2 -128.3 L526.6 -132.1 L529.1 -135.9 L531.6 -139.7 L534.0 -143.6 L536.5 -147.4 L539.0 -151.1 L541.4 -154.8 L543.9 -158.5 L546.4 -162.1 L548.8 -165.6 L551.3 -169.2 L553.8 -172.6 L556.2 -176.1 L558.7 -179.5 L561.2 -182.9 L563.6 -186.2 L566.1 -189.5 L568.6 -192.8 L571.0 -196.1 L573.5 -199.3 L576.0 -202.5 L578.4 -205.6 L580.9 -208.7 L583.4 -211.8 L585.8 -214.9 L588.3 -217.9 L590.8 -220.8 L593.2 -223.8 L595.7 -226.7 L598.2 -229.5 L600.6 -232.3 L603.1 -235.1 L605.6 -237.8 L608.0 -240.5 L610.5 -243.2 L613.0 -245.8 L615.4 -248.3 L617.9 -250.9 L620.4 -253.3 L622.8 -255.8 L625.3 -258.2 L627.8 -260.6 L630.2 -262.9 L632.7 -265.2 L635.2 -267.5 L637.6 -269.8 L640.1 -272.0 L642.6 -274.3 L645.0 -276.6 L647.5 -278.8 L650.0 -281.1 L652.4 -283.3 L654.9 -285.5 L657.4 -287.7 L659.8 -289.9 L662.3 -292.1 L664.8 -294.2 L667.2 -296.3 L669.7 -298.4 L672.2 -300.5 L674.6 -302.6 L677.1 -304.6 L679.6 -306.7 L682.0 -308.8 L684.5 -310.8 L684.5 -309.2 L682.0 -307.2 L679.6 -305.1 L677.1 -303.0 L674.6 -301.0 L672.2 -298.9 L669.7 -296.8 L667.2 -294.7 L664.8 -292.6 L662.3 -290.5 L659.8 -288.3 L657.4 -286.1 L654.9 -283.9 L652.4 -281.7 L650.0 -279.5 L647.5 -277.2 L645.0 -274.9 L642.6 -272.5 L640.1 -270.1 L637.6 -267.6 L635.2 -265.0 L632.7 -262.4 L630.2 -259.7 L627.8 -257.0 L625.3 -254.2 L622.8 -251.4 L620.4 -248.6 L617.9 -245.7 L615.4 -242.8 L613.0 -239.9 L610.5 -236.9 L608.0 -233.9 L605.6 -230.8 L603.1 -227.7 L600.6 -224.6 L598.2 -221.4 L595.7 -218.2 L593.2 -214.9 L590.8 -211.7 L588.3 -208.4 L585.8 -205.0 L583.4 -201.6 L580.9 -198.2 L578.4 -194.8 L576.0 -191.3 L573.5 -187.8 L571.0 -184.3 L568.6 -180.8 L566.1 -177.2 L563.6 -173.6 L561.2 -170.0 L558.7 -166.3 L556.2 -162.7 L553.8 -159.0 L551.3 -155.2 L548.8 -151.5 L546.4 -147.7 L543.9 -143.9 L541.4 -140.1 L539.0 -136.2 L536.5 -132.4 L534.0 -128.7 L531.6 -125.0 L529.1 -121.3 L526.6 -117.7 L524.2 -114.2 L521.7 -110.6 L519.2 -107.2 L516.8 -103.7 L514.3 -100.3 L511.8 -96.9 L509.4 -93.6 L506.9 -90.3 L504.4 -87.0 L502.0 -83.7 L499.5 -80.5 L497.0 -77.3 L494.6 -74.2 L492.1 -71.1 L489.6 -68.0 L487.2 -64.9 L484.7 -61.9 L482.2 -59.0 L479.8 -56.0 L477.3 -53.1 L474.8 -50.3 L472.4 -47.5 L469.9 -44.7 L467.4 -42.0 L465.0 -39.3 L462.5 -36.6 L460.0 -34.0 L457.6 -31.5 L455.1 -28.9 L452.6 -26.5 L450.2 -24.0 L447.7 -21.6 L445.2 -19.2 L442.8 -16.9 L440.3 -14.6 L437.8 -12.3 L435.4 -10.0 L432.9 -7.8 L430.4 -5.5 L428.0 -3.2 L425.5 -1.0 L423.0 1.3 L420.6 3.5 L418.1 5.7 L415.6 7.9 L413.2 10.1 L410.7 12.3 L408.2 14.4 L405.8 16.5 L403.3 18.6 L400.8 20.7 L398.4 22.8 L395.9 24.8 L393.4 26.9 L391.0 29.0 L388.5 31.0Z" fill="#7cfc00" stroke="none"/>
<path d="M388.5 603.9 L391.0 601.9 L393.4 599.8 L395.9 597.7 L398.4 595.7 L400.8 593.6 L403.3 591.5 L405.8 589.4 L408.2 587.3 L410.7 585.2 L413.2 583.0 L415.6 580.8 L418.1 578.6 L420.6 576.4 L423.0 574.2 L425.5 571.9 L428.0 569.6 L430.4 567.2 L432.9 564.8 L435.4 562.3 L437.8 559.7 L440.3 557.1 L442.8 554.4 L445.2 551.7 L447.7 548.9 L450.2 546.1 L452.6 543.3 L455.1 540.4 L457.6 537.5 L460.0 534.6 L462.5 531.6 L465.0 528.6 L467.4 525.5 L469.9 522.4 L472.4 519.3 L474.8 516.1 L477.3 512.9 L479.8 509.6 L482.2 506.4 L484.7 503.1 L487.2 499.7 L489.6 496.3 L492.1 492.9 L494.6 489.5 L497.0 486.0 L499.5 482.5 L502.0 479.0 L504.4 475.5 L506.9 471.9 L509.4 468.3 L511.8 464.7 L514.3 461.0 L516.8 457.4 L519.2 453.7 L521.7 449.9 L524.2 446.2 L526.6 442.4 L529.1 438.6 L531.6 434.8 L534.0 430.9 L536.5 427.1 L539.0 423.4 L541.4 419.7 L543.9 416.0 L546.4 412.4 L548.8 408.9 L551.3 405.3 L553.8 401.9 L556.2 398.4 L558.7 395.0 L561.2 391.6 L563.6 388.3 L566.1 385.0 L568.6 381.7 L571.0 378.4 L573.5 375.2 L576.0 372.0 L578.4 368.9 L580.9 365.8 L583.4 362.7 L585.8 359.6 L588.3 356.6 L590.8 353.7 L593.2 350.7 L595.7 347.8 L598.2 345.0 L600.6 342.2 L603.1 339.4 L605.6 336.7 L608.0 334.0 L610.5 331.3 L613.0 328.7 L615.4 326.2 L617.9 323.6 L620.4 321.2 L622.8 318.7 L625.3 316.3 L627.8 313.9 L630.2 311.6 L632.7 309.3 L635.2 307.0 L637.6 304.7 L640.1 302.5 L642.6 300.2 L645.0 297.9 L647.5 295.7 L650.0 293.4 L652.4 291.2 L654.9 289.0 L657.4 286.8 L659.8 284.6 L662.3 282.4 L664.8 280.3 L667.2 278.2 L669.7 276.1 L672.2 274.0 L674.6 271.9 L677.1 269.9 L679.6 267.8 L682.0 265.7 L684.5 263.7 M388.5 565.6 L391.0 563.6 L393.4 561.5 L395.9 559.4 L398.4 557.4 L400.8 555.3 L403.3 553.2 L405.8 551.1 L408.2 549.0 L410.7 546.9 L413.2 544.7 L415.6 542.5 L418.1 540.3 L420.6 538.1 L423.0 535.9 L425.5 533.6 L428.0 531.3 L430.4 528.9 L432.9 526.5 L435.4 524.0 L437.8 521.4 L440.3 518.8 L442.8 516.1 L445.2 513.4 L447.7 510.6 L450.2 507.8 L452.6 505.0 L455.1 502.1 L457.6 499.2 L460.0 496.3 L462.5 493.3 L465.0 490.3 L467.4 487.2 L469.9 484.1 L472.4 481.0 L474.8 477.8 L477.3 474.6 L479.8 471.3 L482.2 468.1 L484.7 464.8 L487.2 461.4 L489.6 458.0 L492.1 454.6 L494.6 451.2 L497.0 447.7 L499.5 444.2 L502.0 440.7 L504.4 437.2 L506.9 433.6 L509.4 430.0 L511.8 426.4 L514.3 422.7 L516.8 419.1 L519.2 415.4 L521.7 411.6 L524.2 407.9 L526.6 404.1 L529.1 400.3 L531.6 396.5 L534.0 392.6 L536.5 388.8 L539.0 385.1 L541.4 381.4 L543.9 377.7 L546.4 374.1 L548.8 370.6 L551.3 367.0 L553.8 363.6 L556.2 360.1 L558.7 356.7 L561.2 353.3 L563.6 350.0 L566.1 346.7 L568.6 343.4 L571.0 340.1 L573.5 336.9 L576.0 333.7 L578.4 330.6 L580.9 327.5 L583.4 324.4 L585.8 321.3 L588.3 318.3 L590.8 315.4 L593.2 312.4 L595.7 309.5 L598.2 306.7 L600.6 303.9 L603.1 301.1 L605.6 298.4 L608.0 295.7 L610.5 293.0 L613.0 290.4 L615.4 287.9 L617.9 285.3 L620.4 282.9 L622.8 280.4 L625.3 278.0 L627.8 275.6 L630.2 273.3 L632.7 271.0 L635.2 268.7 L637.6 266.4 L640.1 264.2 L642.6 261.9 L645.0 259.6 L647.5 257.4 L650.0 255.1 L652.4 252.9 L654.9 250.7 L657.4 248.5 L659.8 246.3 L662.3 244.1 L664.8 242.0 L667.2 239.9 L669.7 237.8 L672.2 235.7 L674.6 233.6 L677.1 231.6 L679.6 229.5 L682.0 227.4 L684.5 225.4 M388.5 527.3 L391.0 525.3 L393.4 523.2 L395.9 521.1 L398.4 519.1 L400.8 517.0 L403.3 514.9 L405.8 512.8 L408.2 510.7 L410.7 508.6 L413.2 506.4 L415.6 504.2 L418.1 502.0 L420.6 499.8 L423.0 497.6 L425.5 495.3 L428.0 493.0 L430.4 490.6 L432.9 488.2 L435.4 485.7 L437.8 483.1 L440.3 480.5 L442.8 477.8 L445.2 475.1 L447.7 472.3 L450.2 469.5 L452.6 466.7 L455.1 463.8 L457.6 460.9 L460.0 458.0 L462.5 455.0 L465.0 452.0 L467.4 448.9 L469.9 445.8 L472.4 442.7 L474.8 439.5 L477.3 436.3 L479.8 433.0 L482.2 429.8 L484.7 426.5 L487.2 423.1 L489.6 419.7 L492.1 416.3 L494.6 412.9 L497.0 409.4 L499.5 405.9 L502.0 402.4 L504.4 398.9 L506.9 395.3 L509.4 391.7 L511.8 388.1 L514.3 384.4 L516.8 380.8 L519.2 377.1 L521.7 373.3 L524.2 369.6 L526.6 365.8 L529.1 362.0 L531.6 358.2 L534.0 354.3 L536.5 350.5 L539.0 346.8 L541.4 343.1 L543.9 339.4 L546.4 335.8 L548.8 332.3 L551.3 328.7 L553.8 325.3 L556.2 321.8 L558.7 318.4 L561.2 315.0 L563.6 311.7 L566.1 308.4 L568.6 305.1 L571.0 301.8 L573.5 298.6 L576.0 295.4 L578.4 292.3 L580.9 289.2 L583.4 286.1 L585.8 283.0 L588.3 280.0 L590.8 277.1 L593.2 274.1 L595.7 271.2 L598.2 268.4 L600.6 265.6 L603.1 262.8 L605.6 260.1 L608.0 257.4 L610.5 254.7 L613.0 252.1 L615.4 249.6 L617.9 247.0 L620.4 244.6 L622.8 242.1 L625.3 239.7 L627.8 237.3 L630.2 235.0 L632.7 232.7 L635.2 230.4 L637.6 228.1 L640.1 225.9 L642.6 223.6 L645.0 221.3 L647.5 219.1 L650.0 216.8 L652.4 214.6 L654.9 212.4 L657.4 210.2 L659.8 208.0 L662.3 205.8 L664.8 203.7 L667.2 201.6 L669.7 199.5 L672.2 197.4 L674.6 195.3 L677.1 193.3 L679.6 191.2 L682.0 189.1 L684.5 187.1 M388.5 489.0 L391.0 487.0 L393.4 484.9 L395.9 482.8 L398.4 480.8 L400.8 478.7 L403.3 476.6 L405.8 474.5 L408.2 472.4 L410.7 470.3 L413.2 468.1 L415.6 465.9 L418.1 463.7 L420.6 461.5 L423.0 459.3 L425.5 457.0 L428.0 454.7 L430.4 452.3 L432.9 449.9 L435.4 447.4 L437.8 444.8 L440.3 442.2 L442.8 439.5 L445.2 436.8 L447.7 434.0 L450.2 431.2 L452.6 428.4 L455.1 425.5 L457.6 422.6 L460.0 419.7 L462.5 416.7 L465.0 413.7 L467.4 410.6 L469.9 407.5 L472.4 404.4 L474.8 401.2 L477.3 398.0 L479.8 394.7 L482.2 391.5 L484.7 388.2 L487.2 384.8 L489.6 381.4 L492.1 378.0 L494.6 374.6 L497.0 371.1 L499.5 367.6 L502.0 364.1 L504.4 360.6 L506.9 357.0 L509.4 353.4 L511.8 349.8 L514.3 346.1 L516.8 342.5 L519.2 338.8 L521.7 335.0 L524.2 331.3 L526.6 327.5 L529.1 323.7 L531.6 319.9 L534.0 316.0 L536.5 312.2 L539.0 308.5 L541.4 304.8 L543.9 301.1 L546.4 297.5 L548.8 294.0 L551.3 290.4 L553.8 287.0 L556.2 283.5 L558.7 280.1 L561.2 276.7 L563.6 273.4 L566.1 270.1 L568.6 266.8 L571.0 263.5 L573.5 260.3 L576.0 257.1 L578.4 254.0 L580.9 250.9 L583.4 247.8 L585.8 244.7 L588.3 241.7 L590.8 238.8 L593.2 235.8 L595.7 232.9 L598.2 230.1 L600.6 227.3 L603.1 224.5 L605.6 221.8 L608.0 219.1 L610.5 216.4 L613.0 213.8 L615.4 211.3 L617.9 208.7 L620.4 206.3 L622.8 203.8 L625.3 201.4 L627.8 199.0 L630.2 196.7 L632.7 194.4 L635.2 192.1 L637.6 189.8 L640.1 187.6 L642.6 185.3 L645.0 183.0 L647.5 180.8 L650.0 178.5 L652.4 176.3 L654.9 174.1 L657.4 171.9 L659.8 169.7 L662.3 167.5 L664.8 165.4 L667.2 163.3 L669.7 161.2 L672.2 159.1 L674.6 157.0 L677.1 155.0 L679.6 152.9 L682.0 150.8 L684.5 148.8 M388.5 450.7 L391.0 448.7 L393.4 446.6 L395.9 444.5 L398.4 442.5 L400.8 440.4 L403.3 438.3 L405.8 436.2 L408.2 434.1 L410.7 432.0 L413.2 429.8 L415.6 427.6 L418.1 425.4 L420.6 423.2 L423.0 421.0 L425.5 418.7 L428.0 416.4 L430.4 414.0 L432.9 411.6 L435.4 409.1 L437.8 406.5 L440.3 403.9 L442.8 401.2 L445.2 398.5 L447.7 395.7 L450.2 392.9 L452.6 390.1 L455.1 387.2 L457.6 384.3 L460.0 381.4 L462.5 378.4 L465.0 375.4 L467.4 372.3 L469.9 369.2 L472.4 366.1 L474.8 362.9 L477.3 359.7 L479.8 356.4 L482.2 353.2 L484.7 349.9 L487.2 346.5 L489.6 343.1 L492.1 339.7 L494.6 336.3 L497.0 332.8 L499.5 329.3 L502.0 325.8 L504.4 322.3 L506.9 318.7 L509.4 315.1 L511.8 311.5 L514.3 307.8 L516.8 304.2 L519.2 300.5 L521.7 296.7 L524.2 293.0 L526.6 289.2 L529.1 285.4 L531.6 281.6 L534.0 277.7 L536.5 273.9 L539.0 270.2 L541.4 266.5 L543.9 262.8 L546.4 259.2 L548.8 255.7 L551.3 252.1 L553.8 248.7 L556.2 245.2 L558.7 241.8 L561.2 238.4 L563.6 235.1 L566.1 231.8 L568.6 228.5 L571.0 225.2 L573.5 222.0 L576.0 218.8 L578.4 215.7 L580.9 212.6 L583.4 209.5 L585.8 206.4 L588.3 203.4 L590.8 200.5 L593.2 197.5 L595.7 194.6 L598.2 191.8 L600.6 189.0 L603.1 186.2 L605.6 183.5 L608.0 180.8 L610.5 178.1 L613.0 175.5 L615.4 173.0 L617.9 170.4 L620.4 168.0 L622.8 165.5 L625.3 163.1 L627.8 160.7 L630.2 158.4 L632.7 156.1 L635.2 153.8 L637.6 151.5 L640.1 149.3 L642.6 147.0 L645.0 144.7 L647.5 142.5 L650.0 140.2 L652.4 138.0 L654.9 135.8 L657.4 133.6 L659.8 131.4 L662.3 129.2 L664.8 127.1 L667.2 125.0 L669.7 122.9 L672.2 120.8 L674.6 118.7 L677.1 116.7 L679.6 114.6 L682.0 112.5 L684.5 110.5 M388.5 412.4 L391.0 410.4 L393.4 408.3 L395.9 406.2 L398.4 404.2 L400.8 402.1 L403.3 400.0 L405.8 397.9 L408.2 395.8 L410.7 393.7 L413.2 391.5 L415.6 389.3 L418.1 387.1 L420.6 384.9 L423.0 382.7 L425.5 380.4 L428.0 378.1 L430.4 375.7 L432.9 373.3 L435.4 370.8 L437.8 368.2 L440.3 365.6 L442.8 362.9 L445.2 360.2 L447.7 357.4 L450.2 354.6 L452.6 351.8 L455.1 348.9 L457.6 346.0 L460.0 343.1 L462.5 340.1 L465.0 337.1 L467.4 334.0 L469.9 330.9 L472.4 327.8 L474.8 324.6 L477.3 321.4 L479.8 318.1 L482.2 314.9 L484.7 311.6 L487.2 308.2 L489.6 304.8 L492.1 301.4 L494.6 298.0 L497.0 294.5 L499.5 291.0 L502.0 287.5 L504.4 284.0 L506.9 280.4 L509.4 276.8 L511.8 273.2 L514.3 269.5 L516.8 265.9 L519.2 262.2 L521.7 258.4 L524.2 254.7 L526.6 250.9 L529.1 247.1 L531.6 243.3 L534.0 239.4 L536.5 235.6 L539.0 231.9 L541.4 228.2 L543.9 224.5 L546.4 220.9 L548.8 217.4 L551.3 213.8 L553.8 210.4 L556.2 206.9 L558.7 203.5 L561.2 200.1 L563.6 196.8 L566.1 193.5 L568.6 190.2 L571.0 186.9 L573.5 183.7 L576.0 180.5 L578.4 177.4 L580.9 174.3 L583.4 171.2 L585.8 168.1 L588.3 165.1 L590.8 162.2 L593.2 159.2 L595.7 156.3 L598.2 153.5 L600.6 150.7 L603.1 147.9 L605.6 145.2 L608.0 142.5 L610.5 139.8 L613.0 137.2 L615.4 134.7 L617.9 132.1 L620.4 129.7 L622.8 127.2 L625.3 124.8 L627.8 122.4 L630.2 120.1 L632.7 117.8 L635.2 115.5 L637.6 113.2 L640.1 111.0 L642.6 108.7 L645.0 106.4 L647.5 104.2 L650.0 101.9 L652.4 99.7 L654.9 97.5 L657.4 95.3 L659.8 93.1 L662.3 90.9 L664.8 88.8 L667.2 86.7 L669.7 84.6 L672.2 82.5 L674.6 80.4 L677.1 78.4 L679.6 76.3 L682.0 74.2 L684.5 72.2 M388.5 374.1 L391.0 372.1 L393.4 370.0 L395.9 367.9 L398.4 365.9 L400.8 363.8 L403.3 361.7 L405.8 359.6 L408.2 357.5 L410.7 355.4 L413.2 353.2 L415.6 351.0 L418.1 348.8 L420.6 346.6 L423.0 344.4 L425.5 342.1 L428.0 339.8 L430.4 337.4 L432.9 335.0 L435.4 332.5 L437.8 329.9 L440.3 327.3 L442.8 324.6 L445.2 321.9 L447.7 319.1 L450.2 316.3 L452.6 313.5 L455.1 310.6 L457.6 307.7 L460.0 304.8 L462.5 301.8 L465.0 298.8 L467.4 295.7 L469.9 292.6 L472.4 289.5 L474.8 286.3 L477.3 283.1 L479.8 279.8 L482.2 276.6 L484.7 273.3 L487.2 269.9 L489.6 266.5 L492.1 263.1 L494.6 259.7 L497.0 256.2 L499.5 252.7 L502.0 249.2 L504.4 245.7 L506.9 242.1 L509.4 238.5 L511.8 234.9 L514.3 231.2 L516.8 227.6 L519.2 223.9 L521.7 220.1 L524.2 216.4 L526.6 212.6 L529.1 208.8 L531.6 205.0 L534.0 201.1 L536.5 197.3 L539.0 193.6 L541.4 189.9 L543.9 186.2 L546.4 182.6 L548.8 179.1 L551.3 175.5 L553.8 172.1 L556.2 168.6 L558.7 165.2 L561.2 161.8 L563.6 158.5 L566.1 155.2 L568.6 151.9 L571.0 148.6 L573.5 145.4 L576.0 142.2 L578.4 139.1 L580.9 136.0 L583.4 132.9 L585.8 129.8 L588.3 126.8 L590.8 123.9 L593.2 120.9 L595.7 118.0 L598.2 115.2 L600.6 112.4 L603.1 109.6 L605.6 106.9 L608.0 104.2 L610.5 101.5 L613.0 98.9 L615.4 96.4 L617.9 93.8 L620.4 91.4 L622.8 88.9 L625.3 86.5 L627.8 84.1 L630.2 81.8 L632.7 79.5 L635.2 77.2 L637.6 74.9 L640.1 72.7 L642.6 70.4 L645.0 68.1 L647.5 65.9 L650.0 63.6 L652.4 61.4 L654.9 59.2 L657.4 57.0 L659.8 54.8 L662.3 52.6 L664.8 50.5 L667.2 48.4 L669.7 46.3 L672.2 44.2 L674.6 42.1 L677.1 40.1 L679.6 38.0 L682.0 35.9 L684.5 33.9 M388.5 335.8 L391.0 333.8 L393.4 331.7 L395.9 329.6 L398.4 327.6 L400.8 325.5 L403.3 323.4 L405.8 321.3 L408.2 319.2 L410.7 317.1 L413.2 314.9 L415.6 312.7 L418.1 310.5 L420.6 308.3 L423.0 306.1 L425.5 303.8 L428.0 301.5 L430.4 299.1 L432.9 296.7 L435.4 294.2 L437.8 291.6 L440.3 289.0 L442.8 286.3 L445.2 283.6 L447.7 280.8 L450.2 278.0 L452.6 275.2 L455.1 272.3 L457.6 269.4 L460.0 266.5 L462.5 263.5 L465.0 260.5 L467.4 257.4 L469.9 254.3 L472.4 251.2 L474.8 248.0 L477.3 244.8 L479.8 241.5 L482.2 238.3 L484.7 235.0 L487.2 231.6 L489.6 228.2 L492.1 224.8 L494.6 221.4 L497.0 217.9 L499.5 214.4 L502.0 210.9 L504.4 207.4 L506.9 203.8 L509.4 200.2 L511.8 196.6 L514.3 192.9 L516.8 189.3 L519.2 185.6 L521.7 181.8 L524.2 178.1 L526.6 174.3 L529.1 170.5 L531.6 166.7 L534.0 162.8 L536.5 159.0 L539.0 155.3 L541.4 151.6 L543.9 147.9 L546.4 144.3 L548.8 140.8 L551.3 137.2 L553.8 133.8 L556.2 130.3 L558.7 126.9 L561.2 123.5 L563.6 120.2 L566.1 116.9 L568.6 113.6 L571.0 110.3 L573.5 107.1 L576.0 103.9 L578.4 100.8 L580.9 97.7 L583.4 94.6 L585.8 91.5 L588.3 88.5 L590.8 85.6 L593.2 82.6 L595.7 79.7 L598.2 76.9 L600.6 74.1 L603.1 71.3 L605.6 68.6 L608.0 65.9 L610.5 63.2 L613.0 60.6 L615.4 58.1 L617.9 55.5 L620.4 53.1 L622.8 50.6 L625.3 48.2 L627.8 45.8 L630.2 43.5 L632.7 41.2 L635.2 38.9 L637.6 36.6 L640.1 34.4 L642.6 32.1 L645.0 29.8 L647.5 27.6 L650.0 25.3 L652.4 23.1 L654.9 20.9 L657.4 18.7 L659.8 16.5 L662.3 14.3 L664.8 12.2 L667.2 10.1 L669.7 8.0 L672.2 5.9 L674.6 3.8 L677.1 1.8 L679.6 -0.3 L682.0 -2.4 L684.5 -4.4 M388.5 297.5 L391.0 295.5 L393.4 293.4 L395.9 291.3 L398.4 289.3 L400.8 287.2 L403.3 285.1 L405.8 283.0 L408.2 280.9 L410.7 278.8 L413.2 276.6 L415.6 274.4 L418.1 272.2 L420.6 270.0 L423.0 267.8 L425.5 265.5 L428.0 263.2 L430.4 260.8 L432.9 258.4 L435.4 255.9 L437.8 253.3 L440.3 250.7 L442.8 248.0 L445.2 245.3 L447.7 242.5 L450.2 239.7 L452.6 236.9 L455.1 234.0 L457.6 231.1 L460.0 228.2 L462.5 225.2 L465.0 222.2 L467.4 219.1 L469.9 216.0 L472.4 212.9 L474.8 209.7 L477.3 206.5 L479.8 203.2 L482.2 200.0 L484.7 196.7 L487.2 193.3 L489.6 189.9 L492.1 186.5 L494.6 183.1 L497.0 179.6 L499.5 176.1 L502.0 172.6 L504.4 169.1 L506.9 165.5 L509.4 161.9 L511.8 158.3 L514.3 154.6 L516.8 151.0 L519.2 147.3 L521.7 143.5 L524.2 139.8 L526.6 136.0 L529.1 132.2 L531.6 128.4 L534.0 124.5 L536.5 120.7 L539.0 117.0 L541.4 113.3 L543.9 109.6 L546.4 106.0 L548.8 102.5 L551.3 98.9 L553.8 95.5 L556.2 92.0 L558.7 88.6 L561.2 85.2 L563.6 81.9 L566.1 78.6 L568.6 75.3 L571.0 72.0 L573.5 68.8 L576.0 65.6 L578.4 62.5 L580.9 59.4 L583.4 56.3 L585.8 53.2 L588.3 50.2 L590.8 47.3 L593.2 44.3 L595.7 41.4 L598.2 38.6 L600.6 35.8 L603.1 33.0 L605.6 30.3 L608.0 27.6 L610.5 24.9 L613.0 22.3 L615.4 19.8 L617.9 17.2 L620.4 14.8 L622.8 12.3 L625.3 9.9 L627.8 7.5 L630.2 5.2 L632.7 2.9 L635.2 0.6 L637.6 -1.7 L640.1 -3.9 L642.6 -6.2 L645.0 -8.5 L647.5 -10.7 L650.0 -13.0 L652.4 -15.2 L654.9 -17.4 L657.4 -19.6 L659.8 -21.8 L662.3 -24.0 L664.8 -26.1 L667.2 -28.2 L669.7 -30.3 L672.2 -32.4 L674.6 -34.5 L677.1 -36.5 L679.6 -38.6 L682.0 -40.7 L684.5 -42.7 M388.5 259.2 L391.0 257.2 L393.4 255.1 L395.9 253.0 L398.4 251.0 L400.8 248.9 L403.3 246.8 L405.8 244.7 L408.2 242.6 L410.7 240.5 L413.2 238.3 L415.6 236.1 L418.1 233.9 L420.6 231.7 L423.0 229.5 L425.5 227.2 L428.0 224.9 L430.4 222.5 L432.9 220.1 L435.4 217.6 L437.8 215.0 L440.3 212.4 L442.8 209.7 L445.2 207.0 L447.7 204.2 L450.2 201.4 L452.6 198.6 L455.1 195.7 L457.6 192.8 L460.0 189.9 L462.5 186.9 L465.0 183.9 L467.4 180.8 L469.9 177.7 L472.4 174.6 L474.8 171.4 L477.3 168.2 L479.8 164.9 L482.2 161.7 L484.7 158.4 L487.2 155.0 L489.6 151.6 L492.1 148.2 L494.6 144.8 L497.0 141.3 L499.5 137.8 L502.0 134.3 L504.4 130.8 L506.9 127.2 L509.4 123.6 L511.8 120.0 L514.3 116.3 L516.8 112.7 L519.2 109.0 L521.7 105.2 L524.2 101.5 L526.6 97.7 L529.1 93.9 L531.6 90.1 L534.0 86.2 L536.5 82.4 L539.0 78.7 L541.4 75.0 L543.9 71.3 L546.4 67.7 L548.8 64.2 L551.3 60.6 L553.8 57.2 L556.2 53.7 L558.7 50.3 L561.2 46.9 L563.6 43.6 L566.1 40.3 L568.6 37.0 L571.0 33.7 L573.5 30.5 L576.0 27.3 L578.4 24.2 L580.9 21.1 L583.4 18.0 L585.8 14.9 L588.3 11.9 L590.8 9.0 L593.2 6.0 L595.7 3.1 L598.2 0.3 L600.6 -2.5 L603.1 -5.3 L605.6 -8.0 L608.0 -10.7 L610.5 -13.4 L613.0 -16.0 L615.4 -18.5 L617.9 -21.1 L620.4 -23.5 L622.8 -26.0 L625.3 -28.4 L627.8 -30.8 L630.2 -33.1 L632.7 -35.4 L635.2 -37.7 L637.6 -40.0 L640.1 -42.2 L642.6 -44.5 L645.0 -46.8 L647.5 -49.0 L650.0 -51.3 L652.4 -53.5 L654.9 -55.7 L657.4 -57.9 L659.8 -60.1 L662.3 -62.3 L664.8 -64.4 L667.2 -66.5 L669.7 -68.6 L672.2 -70.7 L674.6 -72.8 L677.1 -74.8 L679.6 -76.9 L682.0 -79.0 L684.5 -81.0 M388.5 220.9 L391.0 218.9 L393.4 216.8 L395.9 214.7 L398.4 212.7 L400.8 210.6 L403.3 208.5 L405.8 206.4 L408.2 204.3 L410.7 202.2 L413.2 200.0 L415.6 197.8 L418.1 195.6 L420.6 193.4 L423.0 191.2 L425.5 188.9 L428.0 186.6 L430.4 184.2 L432.9 181.8 L435.4 179.3 L437.8 176.7 L440.3 174.1 L442.8 171.4 L445.2 168.7 L447.7 165.9 L450.2 163.1 L452.6 160.3 L455.1 157.4 L457.6 154.5 L460.0 151.6 L462.5 148.6 L465.0 145.6 L467.4 142.5 L469.9 139.4 L472.4 136.3 L474.8 133.1 L477.3 129.9 L479.8 126.6 L482.2 123.4 L484.7 120.1 L487.2 116.7 L489.6 113.3 L492.1 109.9 L494.6 106.5 L497.0 103.0 L499.5 99.5 L502.0 96.0 L504.4 92.5 L506.9 88.9 L509.4 85.3 L511.8 81.7 L514.3 78.0 L516.8 74.4 L519.2 70.7 L521.7 66.9 L524.2 63.2 L526.6 59.4 L529.1 55.6 L531.6 51.8 L534.0 47.9 L536.5 44.1 L539.0 40.4 L541.4 36.7 L543.9 33.0 L546.4 29.4 L548.8 25.9 L551.3 22.3 L553.8 18.9 L556.2 15.4 L558.7 12.0 L561.2 8.6 L563.6 5.3 L566.1 2.0 L568.6 -1.3 L571.0 -4.6 L573.5 -7.8 L576.0 -11.0 L578.4 -14.1 L580.9 -17.2 L583.4 -20.3 L585.8 -23.4 L588.3 -26.4 L590.8 -29.3 L593.2 -32.3 L595.7 -35.2 L598.2 -38.0 L600.6 -40.8 L603.1 -43.6 L605.6 -46.3 L608.0 -49.0 L610.5 -51.7 L613.0 -54.3 L615.4 -56.8 L617.9 -59.4 L620.4 -61.8 L622.8 -64.3 L625.3 -66.7 L627.8 -69.1 L630.2 -71.4 L632.7 -73.7 L635.2 -76.0 L637.6 -78.3 L640.1 -80.5 L642.6 -82.8 L645.0 -85.1 L647.5 -87.3 L650.0 -89.6 L652.4 -91.8 L654.9 -94.0 L657.4 -96.2 L659.8 -98.4 L662.3 -100.6 L664.8 -102.7 L667.2 -104.8 L669.7 -106.9 L672.2 -109.0 L674.6 -111.1 L677.1 -113.1 L679.6 -115.2 L682.0 -117.3 L684.5 -119.3 M388.5 182.6 L391.0 180.6 L393.4 178.5 L395.9 176.4 L398.4 174.4 L400.8 172.3 L403.3 170.2 L405.8 168.1 L408.2 166.0 L410.7 163.9 L413.2 161.7 L415.6 159.5 L418.1 157.3 L420.6 155.1 L423.0 152.9 L425.5 150.6 L428.0 148.3 L430.4 145.9 L432.9 143.5 L435.4 141.0 L437.8 138.4 L440.3 135.8 L442.8 133.1 L445.2 130.4 L447.7 127.6 L450.2 124.8 L452.6 122.0 L455.1 119.1 L457.6 116.2 L460.0 113.3 L462.5 110.3 L465.0 107.3 L467.4 104.2 L469.9 101.1 L472.4 98.0 L474.8 94.8 L477.3 91.6 L479.8 88.3 L482.2 85.1 L484.7 81.8 L487.2 78.4 L489.6 75.0 L492.1 71.6 L494.6 68.2 L497.0 64.7 L499.5 61.2 L502.0 57.7 L504.4 54.2 L506.9 50.6 L509.4 47.0 L511.8 43.4 L514.3 39.7 L516.8 36.1 L519.2 32.4 L521.7 28.6 L524.2 24.9 L526.6 21.1 L529.1 17.3 L531.6 13.5 L534.0 9.6 L536.5 5.8 L539.0 2.1 L541.4 -1.6 L543.9 -5.3 L546.4 -8.9 L548.8 -12.4 L551.3 -16.0 L553.8 -19.4 L556.2 -22.9 L558.7 -26.3 L561.2 -29.7 L563.6 -33.0 L566.1 -36.3 L568.6 -39.6 L571.0 -42.9 L573.5 -46.1 L576.0 -49.3 L578.4 -52.4 L580.9 -55.5 L583.4 -58.6 L585.8 -61.7 L588.3 -64.7 L590.8 -67.6 L593.2 -70.6 L595.7 -73.5 L598.2 -76.3 L600.6 -79.1 L603.1 -81.9 L605.6 -84.6 L608.0 -87.3 L610.5 -90.0 L613.0 -92.6 L615.4 -95.1 L617.9 -97.7 L620.4 -100.1 L622.8 -102.6 L625.3 -105.0 L627.8 -107.4 L630.2 -109.7 L632.7 -112.0 L635.2 -114.3 L637.6 -116.6 L640.1 -118.8 L642.6 -121.1 L645.0 -123.4 L647.5 -125.6 L650.0 -127.9 L652.4 -130.1 L654.9 -132.3 L657.4 -134.5 L659.8 -136.7 L662.3 -138.9 L664.8 -141.0 L667.2 -143.1 L669.7 -145.2 L672.2 -147.3 L674.6 -149.4 L677.1 -151.4 L679.6 -153.5 L682.0 -155.6 L684.5 -157.6 M388.5 144.3 L391.0 142.3 L393.4 140.2 L395.9 138.1 L398.4 136.1 L400.8 134.0 L403.3 131.9 L405.8 129.8 L408.2 127.7 L410.7 125.6 L413.2 123.4 L415.6 121.2 L418.1 119.0 L420.6 116.8 L423.0 114.6 L425.5 112.3 L428.0 110.0 L430.4 107.6 L432.9 105.2 L435.4 102.7 L437.8 100.1 L440.3 97.5 L442.8 94.8 L445.2 92.1 L447.7 89.3 L450.2 86.5 L452.6 83.7 L455.1 80.8 L457.6 77.9 L460.0 75.0 L462.5 72.0 L465.0 69.0 L467.4 65.9 L469.9 62.8 L472.4 59.7 L474.8 56.5 L477.3 53.3 L479.8 50.0 L482.2 46.8 L484.7 43.5 L487.2 40.1 L489.6 36.7 L492.1 33.3 L494.6 29.9 L497.0 26.4 L499.5 22.9 L502.0 19.4 L504.4 15.9 L506.9 12.3 L509.4 8.7 L511.8 5.1 L514.3 1.4 L516.8 -2.2 L519.2 -5.9 L521.7 -9.7 L524.2 -13.4 L526.6 -17.2 L529.1 -21.0 L531.6 -24.8 L534.0 -28.7 L536.5 -32.5 L539.0 -36.2 L541.4 -39.9 L543.9 -43.6 L546.4 -47.2 L548.8 -50.7 L551.3 -54.3 L553.8 -57.7 L556.2 -61.2 L558.7 -64.6 L561.2 -68.0 L563.6 -71.3 L566.1 -74.6 L568.6 -77.9 L571.0 -81.2 L573.5 -84.4 L576.0 -87.6 L578.4 -90.7 L580.9 -93.8 L583.4 -96.9 L585.8 -100.0 L588.3 -103.0 L590.8 -105.9 L593.2 -108.9 L595.7 -111.8 L598.2 -114.6 L600.6 -117.4 L603.1 -120.2 L605.6 -122.9 L608.0 -125.6 L610.5 -128.3 L613.0 -130.9 L615.4 -133.4 L617.9 -136.0 L620.4 -138.4 L622.8 -140.9 L625.3 -143.3 L627.8 -145.7 L630.2 -148.0 L632.7 -150.3 L635.2 -152.6 L637.6 -154.9 L640.1 -157.1 L642.6 -159.4 L645.0 -161.7 L647.5 -163.9 L650.0 -166.2 L652.4 -168.4 L654.9 -170.6 L657.4 -172.8 L659.8 -175.0 L662.3 -177.2 L664.8 -179.3 L667.2 -181.4 L669.7 -183.5 L672.2 -185.6 L674.6 -187.7 L677.1 -189.7 L679.6 -191.8 L682.0 -193.9 L684.5 -195.9 M388.5 106.0 L391.0 104.0 L393.4 101.9 L395.9 99.8 L398.4 97.8 L400.8 95.7 L403.3 93.6 L405.8 91.5 L408.2 89.4 L410.7 87.3 L413.2 85.1 L415.6 82.9 L418.1 80.7 L420.6 78.5 L423.0 76.3 L425.5 74.0 L428.0 71.7 L430.4 69.3 L432.9 66.9 L435.4 64.4 L437.8 61.8 L440.3 59.2 L442.8 56.5 L445.2 53.8 L447.7 51.0 L450.2 48.2 L452.6 45.4 L455.1 42.5 L457.6 39.6 L460.0 36.7 L462.5 33.7 L465.0 30.7 L467.4 27.6 L469.9 24.5 L472.4 21.4 L474.8 18.2 L477.3 15.0 L479.8 11.7 L482.2 8.5 L484.7 5.2 L487.2 1.8 L489.6 -1.6 L492.1 -5.0 L494.6 -8.4 L497.0 -11.9 L499.5 -15.4 L502.0 -18.9 L504.4 -22.4 L506.9 -26.0 L509.4 -29.6 L511.8 -33.2 L514.3 -36.9 L516.8 -40.5 L519.2 -44.2 L521.7 -48.0 L524.2 -51.7 L526.6 -55.5 L529.1 -59.3 L531.6 -63.1 L534.0 -67.0 L536.5 -70.8 L539.0 -74.5 L541.4 -78.2 L543.9 -81.9 L546.4 -85.5 L548.8 -89.0 L551.3 -92.6 L553.8 -96.0 L556.2 -99.5 L558.7 -102.9 L561.2 -106.3 L563.6 -109.6 L566.1 -112.9 L568.6 -116.2 L571.0 -119.5 L573.5 -122.7 L576.0 -125.9 L578.4 -129.0 L580.9 -132.1 L583.4 -135.2 L585.8 -138.3 L588.3 -141.3 L590.8 -144.2 L593.2 -147.2 L595.7 -150.1 L598.2 -152.9 L600.6 -155.7 L603.1 -158.5 L605.6 -161.2 L608.0 -163.9 L610.5 -166.6 L613.0 -169.2 L615.4 -171.7 L617.9 -174.3 L620.4 -176.7 L622.8 -179.2 L625.3 -181.6 L627.8 -184.0 L630.2 -186.3 L632.7 -188.6 L635.2 -190.9 L637.6 -193.2 L640.1 -195.4 L642.6 -197.7 L645.0 -200.0 L647.5 -202.2 L650.0 -204.5 L652.4 -206.7 L654.9 -208.9 L657.4 -211.1 L659.8 -213.3 L662.3 -215.5 L664.8 -217.6 L667.2 -219.7 L669.7 -221.8 L672.2 -223.9 L674.6 -226.0 L677.1 -228.0 L679.6 -230.1 L682.0 -232.2 L684.5 -234.2 M388.5 67.7 L391.0 65.7 L393.4 63.6 L395.9 61.5 L398.4 59.5 L400.8 57.4 L403.3 55.3 L405.8 53.2 L408.2 51.1 L410.7 49.0 L413.2 46.8 L415.6 44.6 L418.1 42.4 L420.6 40.2 L423.0 38.0 L425.5 35.7 L428.0 33.4 L430.4 31.0 L432.9 28.6 L435.4 26.1 L437.8 23.5 L440.3 20.9 L442.8 18.2 L445.2 15.5 L447.7 12.7 L450.2 9.9 L452.6 7.1 L455.1 4.2 L457.6 1.3 L460.0 -1.6 L462.5 -4.6 L465.0 -7.6 L467.4 -10.7 L469.9 -13.8 L472.4 -16.9 L474.8 -20.1 L477.3 -23.3 L479.8 -26.6 L482.2 -29.8 L484.7 -33.1 L487.2 -36.5 L489.6 -39.9 L492.1 -43.3 L494.6 -46.7 L497.0 -50.2 L499.5 -53.7 L502.0 -57.2 L504.4 -60.7 L506.9 -64.3 L509.4 -67.9 L511.8 -71.5 L514.3 -75.2 L516.8 -78.8 L519.2 -82.5 L521.7 -86.3 L524.2 -90.0 L526.6 -93.8 L529.1 -97.6 L531.6 -101.4 L534.0 -105.3 L536.5 -109.1 L539.0 -112.8 L541.4 -116.5 L543.9 -120.2 L546.4 -123.8 L548.8 -127.3 L551.3 -130.9 L553.8 -134.3 L556.2 -137.8 L558.7 -141.2 L561.2 -144.6 L563.6 -147.9 L566.1 -151.2 L568.6 -154.5 L571.0 -157.8 L573.5 -161.0 L576.0 -164.2 L578.4 -167.3 L580.9 -170.4 L583.4 -173.5 L585.8 -176.6 L588.3 -179.6 L590.8 -182.5 L593.2 -185.5 L595.7 -188.4 L598.2 -191.2 L600.6 -194.0 L603.1 -196.8 L605.6 -199.5 L608.0 -202.2 L610.5 -204.9 L613.0 -207.5 L615.4 -210.0 L617.9 -212.6 L620.4 -215.0 L622.8 -217.5 L625.3 -219.9 L627.8 -222.3 L630.2 -224.6 L632.7 -226.9 L635.2 -229.2 L637.6 -231.5 L640.1 -233.7 L642.6 -236.0 L645.0 -238.3 L647.5 -240.5 L650.0 -242.8 L652.4 -245.0 L654.9 -247.2 L657.4 -249.4 L659.8 -251.6 L662.3 -253.8 L664.8 -255.9 L667.2 -258.0 L669.7 -260.1 L672.2 -262.2 L674.6 -264.3 L677.1 -266.3 L679.6 -268.4 L682.0 -270.5 L684.5 -272.5 M388.5 29.4 L391.0 27.4 L393.4 25.3 L395.9 23.2 L398.4 21.2 L400.8 19.1 L403.3 17.0 L405.8 14.9 L408.2 12.8 L410.7 10.7 L413.2 8.5 L415.6 6.3 L418.1 4.1 L420.6 1.9 L423.0 -0.3 L425.5 -2.6 L428.0 -4.9 L430.4 -7.3 L432.9 -9.7 L435.4 -12.2 L437.8 -14.8 L440.3 -17.4 L442.8 -20.1 L445.2 -22.8 L447.7 -25.6 L450.2 -28.4 L452.6 -31.2 L455.1 -34.1 L457.6 -37.0 L460.0 -39.9 L462.5 -42.9 L465.0 -45.9 L467.4 -49.0 L469.9 -52.1 L472.4 -55.2 L474.8 -58.4 L477.3 -61.6 L479.8 -64.9 L482.2 -68.1 L484.7 -71.4 L487.2 -74.8 L489.6 -78.2 L492.1 -81.6 L494.6 -85.0 L497.0 -88.5 L499.5 -92.0 L502.0 -95.5 L504.4 -99.0 L506.9 -102.6 L509.4 -106.2 L511.8 -109.8 L514.3 -113.5 L516.8 -117.1 L519.2 -120.8 L521.7 -124.6 L524.2 -128.3 L526.6 -132.1 L529.1 -135.9 L531.6 -139.7 L534.0 -143.6 L536.5 -147.4 L539.0 -151.1 L541.4 -154.8 L543.9 -158.5 L546.4 -162.1 L548.8 -165.6 L551.3 -169.2 L553.8 -172.6 L556.2 -176.1 L558.7 -179.5 L561.2 -182.9 L563.6 -186.2 L566.1 -189.5 L568.6 -192.8 L571.0 -196.1 L573.5 -199.3 L576.0 -202.5 L578.4 -205.6 L580.9 -208.7 L583.4 -211.8 L585.8 -214.9 L588.3 -217.9 L590.8 -220.8 L593.2 -223.8 L595.7 -226.7 L598.2 -229.5 L600.6 -232.3 L603.1 -235.1 L605.6 -237.8 L608.0 -240.5 L610.5 -243.2 L613.0 -245.8 L615.4 -248.3 L617.9 -250.9 L620.4 -253.3 L622.8 -255.8 L625.3 -258.2 L627.8 -260.6 L630.2 -262.9 L632.7 -265.2 L635.2 -267.5 L637.6 -269.8 L640.1 -272.0 L642.6 -274.3 L645.0 -276.6 L647.5 -278.8 L650.0 -281.1 L652.4 -283.3 L654.9 -285.5 L657.4 -287.7 L659.8 -289.9 L662.3 -292.1 L664.8 -294.2 L667.2 -296.3 L669.7 -298.4 L672.2 -300.5 L674.6 -302.6 L677.1 -304.6 L679.6 -306.7 L682.0 -308.8 L684.5 -310.8" fill="none" stroke="#0000ff" stroke-width="2.20"/>
<path d="M388.5 605.5 L391.0 603.5 L393.4 601.4 L395.9 599.3 L398.4 597.3 L400.8 595.2 L403.3 593.1 L405.8 591.0 L408.2 588.9 L410.7 586.8 L413.2 584.6 L415.6 582.4 L418.1 580.2 L420.6 578.0 L423.0 575.8 L425.5 573.5 L428.0 571.3 L430.4 569.0 L432.9 566.7 L435.4 564.5 L437.8 562.2 L440.3 559.9 L442.8 557.6 L445.2 555.3 L447.7 552.9 L450.2 550.5 L452.6 548.0 L455.1 545.6 L457.6 543.0 L460.0 540.5 L462.5 537.9 L465.0 535.2 L467.4 532.5 L469.9 529.8 L472.4 527.0 L474.8 524.2 L477.3 521.4 L479.8 518.5 L482.2 515.5 L484.7 512.6 L487.2 509.6 L489.6 506.5 L492.1 503.4 L494.6 500.3 L497.0 497.2 L499.5 494.0 L502.0 490.8 L504.4 487.5 L506.9 484.2 L509.4 480.9 L511.8 477.6 L514.3 474.2 L516.8 470.8 L519.2 467.3 L521.7 463.9 L524.2 460.3 L526.6 456.8 L529.1 453.2 L531.6 449.5 L534.0 445.8 L536.5 442.1 L539.0 438.3 L541.4 434.4 L543.9 430.6 L546.4 426.8 L548.8 423.0 L551.3 419.3 L553.8 415.5 L556.2 411.8 L558.7 408.2 L561.2 404.5 L563.6 400.9 L566.1 397.3 L568.6 393.7 L571.0 390.2 L573.5 386.7 L576.0 383.2 L578.4 379.7 L580.9 376.3 L583.4 372.9 L585.8 369.5 L588.3 366.1 L590.8 362.8 L593.2 359.6 L595.7 356.3 L598.2 353.1 L600.6 349.9 L603.1 346.8 L605.6 343.7 L608.0 340.6 L610.5 337.6 L613.0 334.6 L615.4 331.7 L617.9 328.8 L620.4 325.9 L622.8 323.1 L625.3 320.3 L627.8 317.5 L630.2 314.8 L632.7 312.1 L635.2 309.5 L637.6 306.9 L640.1 304.4 L642.6 302.0 L645.0 299.6 L647.5 297.3 L650.0 295.0 L652.4 292.8 L654.9 290.6 L657.4 288.4 L659.8 286.2 L662.3 284.0 L664.8 281.9 L667.2 279.8 L669.7 277.7 L672.2 275.6 L674.6 273.5 L677.1 271.5 L679.6 269.4 L682.0 267.3 L684.5 265.3 M388.5 567.2 L391.0 565.2 L393.4 563.1 L395.9 561.0 L398.4 559.0 L400.8 556.9 L403.3 554.8 L405.8 552.7 L408.2 550.6 L410.7 548.5 L413.2 546.3 L415.6 544.1 L418.1 541.9 L420.6 539.7 L423.0 537.5 L425.5 535.2 L428.0 533.0 L430.4 530.7 L432.9 528.4 L435.4 526.2 L437.8 523.9 L440.3 521.6 L442.8 519.3 L445.2 517.0 L447.7 514.6 L450.2 512.2 L452.6 509.7 L455.1 507.3 L457.6 504.7 L460.0 502.2 L462.5 499.6 L465.0 496.9 L467.4 494.2 L469.9 491.5 L472.4 488.7 L474.8 485.9 L477.3 483.1 L479.8 480.2 L482.2 477.2 L484.7 474.3 L487.2 471.3 L489.6 468.2 L492.1 465.1 L494.6 462.0 L497.0 458.9 L499.5 455.7 L502.0 452.5 L504.4 449.2 L506.9 445.9 L509.4 442.6 L511.8 439.3 L514.3 435.9 L516.8 432.5 L519.2 429.0 L521.7 425.6 L524.2 422.0 L526.6 418.5 L529.1 414.9 L531.6 411.2 L534.0 407.5 L536.5 403.8 L539.0 400.0 L541.4 396.1 L543.9 392.3 L546.4 388.5 L548.8 384.7 L551.3 381.0 L553.8 377.2 L556.2 373.5 L558.7 369.9 L561.2 366.2 L563.6 362.6 L566.1 359.0 L568.6 355.4 L571.0 351.9 L573.5 348.4 L576.0 344.9 L578.4 341.4 L580.9 338.0 L583.4 334.6 L585.8 331.2 L588.3 327.8 L590.8 324.5 L593.2 321.3 L595.7 318.0 L598.2 314.8 L600.6 311.6 L603.1 308.5 L605.6 305.4 L608.0 302.3 L610.5 299.3 L613.0 296.3 L615.4 293.4 L617.9 290.5 L620.4 287.6 L622.8 284.8 L625.3 282.0 L627.8 279.2 L630.2 276.5 L632.7 273.8 L635.2 271.2 L637.6 268.6 L640.1 266.1 L642.6 263.7 L645.0 261.3 L647.5 259.0 L650.0 256.7 L652.4 254.5 L654.9 252.3 L657.4 250.1 L659.8 247.9 L662.3 245.7 L664.8 243.6 L667.2 241.5 L669.7 239.4 L672.2 237.3 L674.6 235.2 L677.1 233.2 L679.6 231.1 L682.0 229.0 L684.5 227.0 M388.5 528.9 L391.0 526.9 L393.4 524.8 L395.9 522.7 L398.4 520.7 L400.8 518.6 L403.3 516.5 L405.8 514.4 L408.2 512.3 L410.7 510.2 L413.2 508.0 L415.6 505.8 L418.1 503.6 L420.6 501.4 L423.0 499.2 L425.5 496.9 L428.0 494.7 L430.4 492.4 L432.9 490.1 L435.4 487.9 L437.8 485.6 L440.3 483.3 L442.8 481.0 L445.2 478.7 L447.7 476.3 L450.2 473.9 L452.6 471.4 L455.1 469.0 L457.6 466.4 L460.0 463.9 L462.5 461.3 L465.0 458.6 L467.4 455.9 L469.9 453.2 L472.4 450.4 L474.8 447.6 L477.3 444.8 L479.8 441.9 L482.2 438.9 L484.7 436.0 L487.2 433.0 L489.6 429.9 L492.1 426.8 L494.6 423.7 L497.0 420.6 L499.5 417.4 L502.0 414.2 L504.4 410.9 L506.9 407.6 L509.4 404.3 L511.8 401.0 L514.3 397.6 L516.8 394.2 L519.2 390.7 L521.7 387.3 L524.2 383.7 L526.6 380.2 L529.1 376.6 L531.6 372.9 L534.0 369.2 L536.5 365.5 L539.0 361.7 L541.4 357.8 L543.9 354.0 L546.4 350.2 L548.8 346.4 L551.3 342.7 L553.8 338.9 L556.2 335.2 L558.7 331.6 L561.2 327.9 L563.6 324.3 L566.1 320.7 L568.6 317.1 L571.0 313.6 L573.5 310.1 L576.0 306.6 L578.4 303.1 L580.9 299.7 L583.4 296.3 L585.8 292.9 L588.3 289.5 L590.8 286.2 L593.2 283.0 L595.7 279.7 L598.2 276.5 L600.6 273.3 L603.1 270.2 L605.6 267.1 L608.0 264.0 L610.5 261.0 L613.0 258.0 L615.4 255.1 L617.9 252.2 L620.4 249.3 L622.8 246.5 L625.3 243.7 L627.8 240.9 L630.2 238.2 L632.7 235.5 L635.2 232.9 L637.6 230.3 L640.1 227.8 L642.6 225.4 L645.0 223.0 L647.5 220.7 L650.0 218.4 L652.4 216.2 L654.9 214.0 L657.4 211.8 L659.8 209.6 L662.3 207.4 L664.8 205.3 L667.2 203.2 L669.7 201.1 L672.2 199.0 L674.6 196.9 L677.1 194.9 L679.6 192.8 L682.0 190.7 L684.5 188.7 M388.5 490.6 L391.0 488.6 L393.4 486.5 L395.9 484.4 L398.4 482.4 L400.8 480.3 L403.3 478.2 L405.8 476.1 L408.2 474.0 L410.7 471.9 L413.2 469.7 L415.6 467.5 L418.1 465.3 L420.6 463.1 L423.0 460.9 L425.5 458.6 L428.0 456.4 L430.4 454.1 L432.9 451.8 L435.4 449.6 L437.8 447.3 L440.3 445.0 L442.8 442.7 L445.2 440.4 L447.7 438.0 L450.2 435.6 L452.6 433.1 L455.1 430.7 L457.6 428.1 L460.0 425.6 L462.5 423.0 L465.0 420.3 L467.4 417.6 L469.9 414.9 L472.4 412.1 L474.8 409.3 L477.3 406.5 L479.8 403.6 L482.2 400.6 L484.7 397.7 L487.2 394.7 L489.6 391.6 L492.1 388.5 L494.6 385.4 L497.0 382.3 L499.5 379.1 L502.0 375.9 L504.4 372.6 L506.9 369.3 L509.4 366.0 L511.8 362.7 L514.3 359.3 L516.8 355.9 L519.2 352.4 L521.7 349.0 L524.2 345.4 L526.6 341.9 L529.1 338.3 L531.6 334.6 L534.0 330.9 L536.5 327.2 L539.0 323.4 L541.4 319.5 L543.9 315.7 L546.4 311.9 L548.8 308.1 L551.3 304.4 L553.8 300.6 L556.2 296.9 L558.7 293.3 L561.2 289.6 L563.6 286.0 L566.1 282.4 L568.6 278.8 L571.0 275.3 L573.5 271.8 L576.0 268.3 L578.4 264.8 L580.9 261.4 L583.4 258.0 L585.8 254.6 L588.3 251.2 L590.8 247.9 L593.2 244.7 L595.7 241.4 L598.2 238.2 L600.6 235.0 L603.1 231.9 L605.6 228.8 L608.0 225.7 L610.5 222.7 L613.0 219.7 L615.4 216.8 L617.9 213.9 L620.4 211.0 L622.8 208.2 L625.3 205.4 L627.8 202.6 L630.2 199.9 L632.7 197.2 L635.2 194.6 L637.6 192.0 L640.1 189.5 L642.6 187.1 L645.0 184.7 L647.5 182.4 L650.0 180.1 L652.4 177.9 L654.9 175.7 L657.4 173.5 L659.8 171.3 L662.3 169.1 L664.8 167.0 L667.2 164.9 L669.7 162.8 L672.2 160.7 L674.6 158.6 L677.1 156.6 L679.6 154.5 L682.0 152.4 L684.5 150.4 M388.5 452.3 L391.0 450.3 L393.4 448.2 L395.9 446.1 L398.4 444.1 L400.8 442.0 L403.3 439.9 L405.8 437.8 L408.2 435.7 L410.7 433.6 L413.2 431.4 L415.6 429.2 L418.1 427.0 L420.6 424.8 L423.0 422.6 L425.5 420.3 L428.0 418.1 L430.4 415.8 L432.9 413.5 L435.4 411.3 L437.8 409.0 L440.3 406.7 L442.8 404.4 L445.2 402.1 L447.7 399.7 L450.2 397.3 L452.6 394.8 L455.1 392.4 L457.6 389.8 L460.0 387.3 L462.5 384.7 L465.0 382.0 L467.4 379.3 L469.9 376.6 L472.4 373.8 L474.8 371.0 L477.3 368.2 L479.8 365.3 L482.2 362.3 L484.7 359.4 L487.2 356.4 L489.6 353.3 L492.1 350.2 L494.6 347.1 L497.0 344.0 L499.5 340.8 L502.0 337.6 L504.4 334.3 L506.9 331.0 L509.4 327.7 L511.8 324.4 L514.3 321.0 L516.8 317.6 L519.2 314.1 L521.7 310.7 L524.2 307.1 L526.6 303.6 L529.1 300.0 L531.6 296.3 L534.0 292.6 L536.5 288.9 L539.0 285.1 L541.4 281.2 L543.9 277.4 L546.4 273.6 L548.8 269.8 L551.3 266.1 L553.8 262.3 L556.2 258.6 L558.7 255.0 L561.2 251.3 L563.6 247.7 L566.1 244.1 L568.6 240.5 L571.0 237.0 L573.5 233.5 L576.0 230.0 L578.4 226.5 L580.9 223.1 L583.4 219.7 L585.8 216.3 L588.3 212.9 L590.8 209.6 L593.2 206.4 L595.7 203.1 L598.2 199.9 L600.6 196.7 L603.1 193.6 L605.6 190.5 L608.0 187.4 L610.5 184.4 L613.0 181.4 L615.4 178.5 L617.9 175.6 L620.4 172.7 L622.8 169.9 L625.3 167.1 L627.8 164.3 L630.2 161.6 L632.7 158.9 L635.2 156.3 L637.6 153.7 L640.1 151.2 L642.6 148.8 L645.0 146.4 L647.5 144.1 L650.0 141.8 L652.4 139.6 L654.9 137.4 L657.4 135.2 L659.8 133.0 L662.3 130.8 L664.8 128.7 L667.2 126.6 L669.7 124.5 L672.2 122.4 L674.6 120.3 L677.1 118.3 L679.6 116.2 L682.0 114.1 L684.5 112.1 M388.5 414.0 L391.0 412.0 L393.4 409.9 L395.9 407.8 L398.4 405.8 L400.8 403.7 L403.3 401.6 L405.8 399.5 L408.2 397.4 L410.7 395.3 L413.2 393.1 L415.6 390.9 L418.1 388.7 L420.6 386.5 L423.0 384.3 L425.5 382.0 L428.0 379.8 L430.4 377.5 L432.9 375.2 L435.4 373.0 L437.8 370.7 L440.3 368.4 L442.8 366.1 L445.2 363.8 L447.7 361.4 L450.2 359.0 L452.6 356.5 L455.1 354.1 L457.6 351.5 L460.0 349.0 L462.5 346.4 L465.0 343.7 L467.4 341.0 L469.9 338.3 L472.4 335.5 L474.8 332.7 L477.3 329.9 L479.8 327.0 L482.2 324.0 L484.7 321.1 L487.2 318.1 L489.6 315.0 L492.1 311.9 L494.6 308.8 L497.0 305.7 L499.5 302.5 L502.0 299.3 L504.4 296.0 L506.9 292.7 L509.4 289.4 L511.8 286.1 L514.3 282.7 L516.8 279.3 L519.2 275.8 L521.7 272.4 L524.2 268.8 L526.6 265.3 L529.1 261.7 L531.6 258.0 L534.0 254.3 L536.5 250.6 L539.0 246.8 L541.4 242.9 L543.9 239.1 L546.4 235.3 L548.8 231.5 L551.3 227.8 L553.8 224.0 L556.2 220.3 L558.7 216.7 L561.2 213.0 L563.6 209.4 L566.1 205.8 L568.6 202.2 L571.0 198.7 L573.5 195.2 L576.0 191.7 L578.4 188.2 L580.9 184.8 L583.4 181.4 L585.8 178.0 L588.3 174.6 L590.8 171.3 L593.2 168.1 L595.7 164.8 L598.2 161.6 L600.6 158.4 L603.1 155.3 L605.6 152.2 L608.0 149.1 L610.5 146.1 L613.0 143.1 L615.4 140.2 L617.9 137.3 L620.4 134.4 L622.8 131.6 L625.3 128.8 L627.8 126.0 L630.2 123.3 L632.7 120.6 L635.2 118.0 L637.6 115.4 L640.1 112.9 L642.6 110.5 L645.0 108.1 L647.5 105.8 L650.0 103.5 L652.4 101.3 L654.9 99.1 L657.4 96.9 L659.8 94.7 L662.3 92.5 L664.8 90.4 L667.2 88.3 L669.7 86.2 L672.2 84.1 L674.6 82.0 L677.1 80.0 L679.6 77.9 L682.0 75.8 L684.5 73.8 M388.5 375.7 L391.0 373.7 L393.4 371.6 L395.9 369.5 L398.4 367.5 L400.8 365.4 L403.3 363.3 L405.8 361.2 L408.2 359.1 L410.7 357.0 L413.2 354.8 L415.6 352.6 L418.1 350.4 L420.6 348.2 L423.0 346.0 L425.5 343.7 L428.0 341.5 L430.4 339.2 L432.9 336.9 L435.4 334.7 L437.8 332.4 L440.3 330.1 L442.8 327.8 L445.2 325.5 L447.7 323.1 L450.2 320.7 L452.6 318.2 L455.1 315.8 L457.6 313.2 L460.0 310.7 L462.5 308.1 L465.0 305.4 L467.4 302.7 L469.9 300.0 L472.4 297.2 L474.8 294.4 L477.3 291.6 L479.8 288.7 L482.2 285.7 L484.7 282.8 L487.2 279.8 L489.6 276.7 L492.1 273.6 L494.6 270.5 L497.0 267.4 L499.5 264.2 L502.0 261.0 L504.4 257.7 L506.9 254.4 L509.4 251.1 L511.8 247.8 L514.3 244.4 L516.8 241.0 L519.2 237.5 L521.7 234.1 L524.2 230.5 L526.6 227.0 L529.1 223.4 L531.6 219.7 L534.0 216.0 L536.5 212.3 L539.0 208.5 L541.4 204.6 L543.9 200.8 L546.4 197.0 L548.8 193.2 L551.3 189.5 L553.8 185.7 L556.2 182.0 L558.7 178.4 L561.2 174.7 L563.6 171.1 L566.1 167.5 L568.6 163.9 L571.0 160.4 L573.5 156.9 L576.0 153.4 L578.4 149.9 L580.9 146.5 L583.4 143.1 L585.8 139.7 L588.3 136.3 L590.8 133.0 L593.2 129.8 L595.7 126.5 L598.2 123.3 L600.6 120.1 L603.1 117.0 L605.6 113.9 L608.0 110.8 L610.5 107.8 L613.0 104.8 L615.4 101.9 L617.9 99.0 L620.4 96.1 L622.8 93.3 L625.3 90.5 L627.8 87.7 L630.2 85.0 L632.7 82.3 L635.2 79.7 L637.6 77.1 L640.1 74.6 L642.6 72.2 L645.0 69.8 L647.5 67.5 L650.0 65.2 L652.4 63.0 L654.9 60.8 L657.4 58.6 L659.8 56.4 L662.3 54.2 L664.8 52.1 L667.2 50.0 L669.7 47.9 L672.2 45.8 L674.6 43.7 L677.1 41.7 L679.6 39.6 L682.0 37.5 L684.5 35.5 M388.5 337.4 L391.0 335.4 L393.4 333.3 L395.9 331.2 L398.4 329.2 L400.8 327.1 L403.3 325.0 L405.8 322.9 L408.2 320.8 L410.7 318.7 L413.2 316.5 L415.6 314.3 L418.1 312.1 L420.6 309.9 L423.0 307.7 L425.5 305.4 L428.0 303.2 L430.4 300.9 L432.9 298.6 L435.4 296.4 L437.8 294.1 L440.3 291.8 L442.8 289.5 L445.2 287.2 L447.7 284.8 L450.2 282.4 L452.6 279.9 L455.1 277.5 L457.6 274.9 L460.0 272.4 L462.5 269.8 L465.0 267.1 L467.4 264.4 L469.9 261.7 L472.4 258.9 L474.8 256.1 L477.3 253.3 L479.8 250.4 L482.2 247.4 L484.7 244.5 L487.2 241.5 L489.6 238.4 L492.1 235.3 L494.6 232.2 L497.0 229.1 L499.5 225.9 L502.0 222.7 L504.4 219.4 L506.9 216.1 L509.4 212.8 L511.8 209.5 L514.3 206.1 L516.8 202.7 L519.2 199.2 L521.7 195.8 L524.2 192.2 L526.6 188.7 L529.1 185.1 L531.6 181.4 L534.0 177.7 L536.5 174.0 L539.0 170.2 L541.4 166.3 L543.9 162.5 L546.4 158.7 L548.8 154.9 L551.3 151.2 L553.8 147.4 L556.2 143.7 L558.7 140.1 L561.2 136.4 L563.6 132.8 L566.1 129.2 L568.6 125.6 L571.0 122.1 L573.5 118.6 L576.0 115.1 L578.4 111.6 L580.9 108.2 L583.4 104.8 L585.8 101.4 L588.3 98.0 L590.8 94.7 L593.2 91.5 L595.7 88.2 L598.2 85.0 L600.6 81.8 L603.1 78.7 L605.6 75.6 L608.0 72.5 L610.5 69.5 L613.0 66.5 L615.4 63.6 L617.9 60.7 L620.4 57.8 L622.8 55.0 L625.3 52.2 L627.8 49.4 L630.2 46.7 L632.7 44.0 L635.2 41.4 L637.6 38.8 L640.1 36.3 L642.6 33.9 L645.0 31.5 L647.5 29.2 L650.0 26.9 L652.4 24.7 L654.9 22.5 L657.4 20.3 L659.8 18.1 L662.3 15.9 L664.8 13.8 L667.2 11.7 L669.7 9.6 L672.2 7.5 L674.6 5.4 L677.1 3.4 L679.6 1.3 L682.0 -0.8 L684.5 -2.8 M388.5 299.1 L391.0 297.1 L393.4 295.0 L395.9 292.9 L398.4 290.9 L400.8 288.8 L403.3 286.7 L405.8 284.6 L408.2 282.5 L410.7 280.4 L413.2 278.2 L415.6 276.0 L418.1 273.8 L420.6 271.6 L423.0 269.4 L425.5 267.1 L428.0 264.9 L430.4 262.6 L432.9 260.3 L435.4 258.1 L437.8 255.8 L440.3 253.5 L442.8 251.2 L445.2 248.9 L447.7 246.5 L450.2 244.1 L452.6 241.6 L455.1 239.2 L457.6 236.6 L460.0 234.1 L462.5 231.5 L465.0 228.8 L467.4 226.1 L469.9 223.4 L472.4 220.6 L474.8 217.8 L477.3 215.0 L479.8 212.1 L482.2 209.1 L484.7 206.2 L487.2 203.2 L489.6 200.1 L492.1 197.0 L494.6 193.9 L497.0 190.8 L499.5 187.6 L502.0 184.4 L504.4 181.1 L506.9 177.8 L509.4 174.5 L511.8 171.2 L514.3 167.8 L516.8 164.4 L519.2 160.9 L521.7 157.5 L524.2 153.9 L526.6 150.4 L529.1 146.8 L531.6 143.1 L534.0 139.4 L536.5 135.7 L539.0 131.9 L541.4 128.0 L543.9 124.2 L546.4 120.4 L548.8 116.6 L551.3 112.9 L553.8 109.1 L556.2 105.4 L558.7 101.8 L561.2 98.1 L563.6 94.5 L566.1 90.9 L568.6 87.3 L571.0 83.8 L573.5 80.3 L576.0 76.8 L578.4 73.3 L580.9 69.9 L583.4 66.5 L585.8 63.1 L588.3 59.7 L590.8 56.4 L593.2 53.2 L595.7 49.9 L598.2 46.7 L600.6 43.5 L603.1 40.4 L605.6 37.3 L608.0 34.2 L610.5 31.2 L613.0 28.2 L615.4 25.3 L617.9 22.4 L620.4 19.5 L622.8 16.7 L625.3 13.9 L627.8 11.1 L630.2 8.4 L632.7 5.7 L635.2 3.1 L637.6 0.5 L640.1 -2.0 L642.6 -4.4 L645.0 -6.8 L647.5 -9.1 L650.0 -11.4 L652.4 -13.6 L654.9 -15.8 L657.4 -18.0 L659.8 -20.2 L662.3 -22.4 L664.8 -24.5 L667.2 -26.6 L669.7 -28.7 L672.2 -30.8 L674.6 -32.9 L677.1 -34.9 L679.6 -37.0 L682.0 -39.1 L684.5 -41.1 M388.5 260.8 L391.0 258.8 L393.4 256.7 L395.9 254.6 L398.4 252.6 L400.8 250.5 L403.3 248.4 L405.8 246.3 L408.2 244.2 L410.7 242.1 L413.2 239.9 L415.6 237.7 L418.1 235.5 L420.6 233.3 L423.0 231.1 L425.5 228.8 L428.0 226.6 L430.4 224.3 L432.9 222.0 L435.4 219.8 L437.8 217.5 L440.3 215.2 L442.8 212.9 L445.2 210.6 L447.7 208.2 L450.2 205.8 L452.6 203.3 L455.1 200.9 L457.6 198.3 L460.0 195.8 L462.5 193.2 L465.0 190.5 L467.4 187.8 L469.9 185.1 L472.4 182.3 L474.8 179.5 L477.3 176.7 L479.8 173.8 L482.2 170.8 L484.7 167.9 L487.2 164.9 L489.6 161.8 L492.1 158.7 L494.6 155.6 L497.0 152.5 L499.5 149.3 L502.0 146.1 L504.4 142.8 L506.9 139.5 L509.4 136.2 L511.8 132.9 L514.3 129.5 L516.8 126.1 L519.2 122.6 L521.7 119.2 L524.2 115.6 L526.6 112.1 L529.1 108.5 L531.6 104.8 L534.0 101.1 L536.5 97.4 L539.0 93.6 L541.4 89.7 L543.9 85.9 L546.4 82.1 L548.8 78.3 L551.3 74.6 L553.8 70.8 L556.2 67.1 L558.7 63.5 L561.2 59.8 L563.6 56.2 L566.1 52.6 L568.6 49.0 L571.0 45.5 L573.5 42.0 L576.0 38.5 L578.4 35.0 L580.9 31.6 L583.4 28.2 L585.8 24.8 L588.3 21.4 L590.8 18.1 L593.2 14.9 L595.7 11.6 L598.2 8.4 L600.6 5.2 L603.1 2.1 L605.6 -1.0 L608.0 -4.1 L610.5 -7.1 L613.0 -10.1 L615.4 -13.0 L617.9 -15.9 L620.4 -18.8 L622.8 -21.6 L625.3 -24.4 L627.8 -27.2 L630.2 -29.9 L632.7 -32.6 L635.2 -35.2 L637.6 -37.8 L640.1 -40.3 L642.6 -42.7 L645.0 -45.1 L647.5 -47.4 L650.0 -49.7 L652.4 -51.9 L654.9 -54.1 L657.4 -56.3 L659.8 -58.5 L662.3 -60.7 L664.8 -62.8 L667.2 -64.9 L669.7 -67.0 L672.2 -69.1 L674.6 -71.2 L677.1 -73.2 L679.6 -75.3 L682.0 -77.4 L684.5 -79.4 M388.5 222.5 L391.0 220.5 L393.4 218.4 L395.9 216.3 L398.4 214.3 L400.8 212.2 L403.3 210.1 L405.8 208.0 L408.2 205.9 L410.7 203.8 L413.2 201.6 L415.6 199.4 L418.1 197.2 L420.6 195.0 L423.0 192.8 L425.5 190.5 L428.0 188.3 L430.4 186.0 L432.9 183.7 L435.4 181.5 L437.8 179.2 L440.3 176.9 L442.8 174.6 L445.2 172.3 L447.7 169.9 L450.2 167.5 L452.6 165.0 L455.1 162.6 L457.6 160.0 L460.0 157.5 L462.5 154.9 L465.0 152.2 L467.4 149.5 L469.9 146.8 L472.4 144.0 L474.8 141.2 L477.3 138.4 L479.8 135.5 L482.2 132.5 L484.7 129.6 L487.2 126.6 L489.6 123.5 L492.1 120.4 L494.6 117.3 L497.0 114.2 L499.5 111.0 L502.0 107.8 L504.4 104.5 L506.9 101.2 L509.4 97.9 L511.8 94.6 L514.3 91.2 L516.8 87.8 L519.2 84.3 L521.7 80.9 L524.2 77.3 L526.6 73.8 L529.1 70.2 L531.6 66.5 L534.0 62.8 L536.5 59.1 L539.0 55.3 L541.4 51.4 L543.9 47.6 L546.4 43.8 L548.8 40.0 L551.3 36.3 L553.8 32.5 L556.2 28.8 L558.7 25.2 L561.2 21.5 L563.6 17.9 L566.1 14.3 L568.6 10.7 L571.0 7.2 L573.5 3.7 L576.0 0.2 L578.4 -3.3 L580.9 -6.7 L583.4 -10.1 L585.8 -13.5 L588.3 -16.9 L590.8 -20.2 L593.2 -23.4 L595.7 -26.7 L598.2 -29.9 L600.6 -33.1 L603.1 -36.2 L605.6 -39.3 L608.0 -42.4 L610.5 -45.4 L613.0 -48.4 L615.4 -51.3 L617.9 -54.2 L620.4 -57.1 L622.8 -59.9 L625.3 -62.7 L627.8 -65.5 L630.2 -68.2 L632.7 -70.9 L635.2 -73.5 L637.6 -76.1 L640.1 -78.6 L642.6 -81.0 L645.0 -83.4 L647.5 -85.7 L650.0 -88.0 L652.4 -90.2 L654.9 -92.4 L657.4 -94.6 L659.8 -96.8 L662.3 -99.0 L664.8 -101.1 L667.2 -103.2 L669.7 -105.3 L672.2 -107.4 L674.6 -109.5 L677.1 -111.5 L679.6 -113.6 L682.0 -115.7 L684.5 -117.7 M388.5 184.2 L391.0 182.2 L393.4 180.1 L395.9 178.0 L398.4 176.0 L400.8 173.9 L403.3 171.8 L405.8 169.7 L408.2 167.6 L410.7 165.5 L413.2 163.3 L415.6 161.1 L418.1 158.9 L420.6 156.7 L423.0 154.5 L425.5 152.2 L428.0 150.0 L430.4 147.7 L432.9 145.4 L435.4 143.2 L437.8 140.9 L440.3 138.6 L442.8 136.3 L445.2 134.0 L447.7 131.6 L450.2 129.2 L452.6 126.7 L455.1 124.3 L457.6 121.7 L460.0 119.2 L462.5 116.6 L465.0 113.9 L467.4 111.2 L469.9 108.5 L472.4 105.7 L474.8 102.9 L477.3 100.1 L479.8 97.2 L482.2 94.2 L484.7 91.3 L487.2 88.3 L489.6 85.2 L492.1 82.1 L494.6 79.0 L497.0 75.9 L499.5 72.7 L502.0 69.5 L504.4 66.2 L506.9 62.9 L509.4 59.6 L511.8 56.3 L514.3 52.9 L516.8 49.5 L519.2 46.0 L521.7 42.6 L524.2 39.0 L526.6 35.5 L529.1 31.9 L531.6 28.2 L534.0 24.5 L536.5 20.8 L539.0 17.0 L541.4 13.1 L543.9 9.3 L546.4 5.5 L548.8 1.7 L551.3 -2.0 L553.8 -5.8 L556.2 -9.5 L558.7 -13.1 L561.2 -16.8 L563.6 -20.4 L566.1 -24.0 L568.6 -27.6 L571.0 -31.1 L573.5 -34.6 L576.0 -38.1 L578.4 -41.6 L580.9 -45.0 L583.4 -48.4 L585.8 -51.8 L588.3 -55.2 L590.8 -58.5 L593.2 -61.7 L595.7 -65.0 L598.2 -68.2 L600.6 -71.4 L603.1 -74.5 L605.6 -77.6 L608.0 -80.7 L610.5 -83.7 L613.0 -86.7 L615.4 -89.6 L617.9 -92.5 L620.4 -95.4 L622.8 -98.2 L625.3 -101.0 L627.8 -103.8 L630.2 -106.5 L632.7 -109.2 L635.2 -111.8 L637.6 -114.4 L640.1 -116.9 L642.6 -119.3 L645.0 -121.7 L647.5 -124.0 L650.0 -126.3 L652.4 -128.5 L654.9 -130.7 L657.4 -132.9 L659.8 -135.1 L662.3 -137.3 L664.8 -139.4 L667.2 -141.5 L669.7 -143.6 L672.2 -145.7 L674.6 -147.8 L677.1 -149.8 L679.6 -151.9 L682.0 -154.0 L684.5 -156.0 M388.5 145.9 L391.0 143.9 L393.4 141.8 L395.9 139.7 L398.4 137.7 L400.8 135.6 L403.3 133.5 L405.8 131.4 L408.2 129.3 L410.7 127.2 L413.2 125.0 L415.6 122.8 L418.1 120.6 L420.6 118.4 L423.0 116.2 L425.5 113.9 L428.0 111.7 L430.4 109.4 L432.9 107.1 L435.4 104.9 L437.8 102.6 L440.3 100.3 L442.8 98.0 L445.2 95.7 L447.7 93.3 L450.2 90.9 L452.6 88.4 L455.1 86.0 L457.6 83.4 L460.0 80.9 L462.5 78.3 L465.0 75.6 L467.4 72.9 L469.9 70.2 L472.4 67.4 L474.8 64.6 L477.3 61.8 L479.8 58.9 L482.2 55.9 L484.7 53.0 L487.2 50.0 L489.6 46.9 L492.1 43.8 L494.6 40.7 L497.0 37.6 L499.5 34.4 L502.0 31.2 L504.4 27.9 L506.9 24.6 L509.4 21.3 L511.8 18.0 L514.3 14.6 L516.8 11.2 L519.2 7.7 L521.7 4.3 L524.2 0.7 L526.6 -2.8 L529.1 -6.4 L531.6 -10.1 L534.0 -13.8 L536.5 -17.5 L539.0 -21.3 L541.4 -25.2 L543.9 -29.0 L546.4 -32.8 L548.8 -36.6 L551.3 -40.3 L553.8 -44.1 L556.2 -47.8 L558.7 -51.4 L561.2 -55.1 L563.6 -58.7 L566.1 -62.3 L568.6 -65.9 L571.0 -69.4 L573.5 -72.9 L576.0 -76.4 L578.4 -79.9 L580.9 -83.3 L583.4 -86.7 L585.8 -90.1 L588.3 -93.5 L590.8 -96.8 L593.2 -100.0 L595.7 -103.3 L598.2 -106.5 L600.6 -109.7 L603.1 -112.8 L605.6 -115.9 L608.0 -119.0 L610.5 -122.0 L613.0 -125.0 L615.4 -127.9 L617.9 -130.8 L620.4 -133.7 L622.8 -136.5 L625.3 -139.3 L627.8 -142.1 L630.2 -144.8 L632.7 -147.5 L635.2 -150.1 L637.6 -152.7 L640.1 -155.2 L642.6 -157.6 L645.0 -160.0 L647.5 -162.3 L650.0 -164.6 L652.4 -166.8 L654.9 -169.0 L657.4 -171.2 L659.8 -173.4 L662.3 -175.6 L664.8 -177.7 L667.2 -179.8 L669.7 -181.9 L672.2 -184.0 L674.6 -186.1 L677.1 -188.1 L679.6 -190.2 L682.0 -192.3 L684.5 -194.3 M388.5 107.6 L391.0 105.6 L393.4 103.5 L395.9 101.4 L398.4 99.4 L400.8 97.3 L403.3 95.2 L405.8 93.1 L408.2 91.0 L410.7 88.9 L413.2 86.7 L415.6 84.5 L418.1 82.3 L420.6 80.1 L423.0 77.9 L425.5 75.6 L428.0 73.4 L430.4 71.1 L432.9 68.8 L435.4 66.6 L437.8 64.3 L440.3 62.0 L442.8 59.7 L445.2 57.4 L447.7 55.0 L450.2 52.6 L452.6 50.1 L455.1 47.7 L457.6 45.1 L460.0 42.6 L462.5 40.0 L465.0 37.3 L467.4 34.6 L469.9 31.9 L472.4 29.1 L474.8 26.3 L477.3 23.5 L479.8 20.6 L482.2 17.6 L484.7 14.7 L487.2 11.7 L489.6 8.6 L492.1 5.5 L494.6 2.4 L497.0 -0.7 L499.5 -3.9 L502.0 -7.1 L504.4 -10.4 L506.9 -13.7 L509.4 -17.0 L511.8 -20.3 L514.3 -23.7 L516.8 -27.1 L519.2 -30.6 L521.7 -34.0 L524.2 -37.6 L526.6 -41.1 L529.1 -44.7 L531.6 -48.4 L534.0 -52.1 L536.5 -55.8 L539.0 -59.6 L541.4 -63.5 L543.9 -67.3 L546.4 -71.1 L548.8 -74.9 L551.3 -78.6 L553.8 -82.4 L556.2 -86.1 L558.7 -89.7 L561.2 -93.4 L563.6 -97.0 L566.1 -100.6 L568.6 -104.2 L571.0 -107.7 L573.5 -111.2 L576.0 -114.7 L578.4 -118.2 L580.9 -121.6 L583.4 -125.0 L585.8 -128.4 L588.3 -131.8 L590.8 -135.1 L593.2 -138.3 L595.7 -141.6 L598.2 -144.8 L600.6 -148.0 L603.1 -151.1 L605.6 -154.2 L608.0 -157.3 L610.5 -160.3 L613.0 -163.3 L615.4 -166.2 L617.9 -169.1 L620.4 -172.0 L622.8 -174.8 L625.3 -177.6 L627.8 -180.4 L630.2 -183.1 L632.7 -185.8 L635.2 -188.4 L637.6 -191.0 L640.1 -193.5 L642.6 -195.9 L645.0 -198.3 L647.5 -200.6 L650.0 -202.9 L652.4 -205.1 L654.9 -207.3 L657.4 -209.5 L659.8 -211.7 L662.3 -213.9 L664.8 -216.0 L667.2 -218.1 L669.7 -220.2 L672.2 -222.3 L674.6 -224.4 L677.1 -226.4 L679.6 -228.5 L682.0 -230.6 L684.5 -232.6 M388.5 69.3 L391.0 67.3 L393.4 65.2 L395.9 63.1 L398.4 61.1 L400.8 59.0 L403.3 56.9 L405.8 54.8 L408.2 52.7 L410.7 50.6 L413.2 48.4 L415.6 46.2 L418.1 44.0 L420.6 41.8 L423.0 39.6 L425.5 37.3 L428.0 35.1 L430.4 32.8 L432.9 30.5 L435.4 28.3 L437.8 26.0 L440.3 23.7 L442.8 21.4 L445.2 19.1 L447.7 16.7 L450.2 14.3 L452.6 11.8 L455.1 9.4 L457.6 6.8 L460.0 4.3 L462.5 1.7 L465.0 -1.0 L467.4 -3.7 L469.9 -6.4 L472.4 -9.2 L474.8 -12.0 L477.3 -14.8 L479.8 -17.7 L482.2 -20.7 L484.7 -23.6 L487.2 -26.6 L489.6 -29.7 L492.1 -32.8 L494.6 -35.9 L497.0 -39.0 L499.5 -42.2 L502.0 -45.4 L504.4 -48.7 L506.9 -52.0 L509.4 -55.3 L511.8 -58.6 L514.3 -62.0 L516.8 -65.4 L519.2 -68.9 L521.7 -72.3 L524.2 -75.9 L526.6 -79.4 L529.1 -83.0 L531.6 -86.7 L534.0 -90.4 L536.5 -94.1 L539.0 -97.9 L541.4 -101.8 L543.9 -105.6 L546.4 -109.4 L548.8 -113.2 L551.3 -116.9 L553.8 -120.7 L556.2 -124.4 L558.7 -128.0 L561.2 -131.7 L563.6 -135.3 L566.1 -138.9 L568.6 -142.5 L571.0 -146.0 L573.5 -149.5 L576.0 -153.0 L578.4 -156.5 L580.9 -159.9 L583.4 -163.3 L585.8 -166.7 L588.3 -170.1 L590.8 -173.4 L593.2 -176.6 L595.7 -179.9 L598.2 -183.1 L600.6 -186.3 L603.1 -189.4 L605.6 -192.5 L608.0 -195.6 L610.5 -198.6 L613.0 -201.6 L615.4 -204.5 L617.9 -207.4 L620.4 -210.3 L622.8 -213.1 L625.3 -215.9 L627.8 -218.7 L630.2 -221.4 L632.7 -224.1 L635.2 -226.7 L637.6 -229.3 L640.1 -231.8 L642.6 -234.2 L645.0 -236.6 L647.5 -238.9 L650.0 -241.2 L652.4 -243.4 L654.9 -245.6 L657.4 -247.8 L659.8 -250.0 L662.3 -252.2 L664.8 -254.3 L667.2 -256.4 L669.7 -258.5 L672.2 -260.6 L674.6 -262.7 L677.1 -264.7 L679.6 -266.8 L682.0 -268.9 L684.5 -270.9 M388.5 31.0 L391.0 29.0 L393.4 26.9 L395.9 24.8 L398.4 22.8 L400.8 20.7 L403.3 18.6 L405.8 16.5 L408.2 14.4 L410.7 12.3 L413.2 10.1 L415.6 7.9 L418.1 5.7 L420.6 3.5 L423.0 1.3 L425.5 -1.0 L428.0 -3.2 L430.4 -5.5 L432.9 -7.8 L435.4 -10.0 L437.8 -12.3 L440.3 -14.6 L442.8 -16.9 L445.2 -19.2 L447.7 -21.6 L450.2 -24.0 L452.6 -26.5 L455.1 -28.9 L457.6 -31.5 L460.0 -34.0 L462.5 -36.6 L465.0 -39.3 L467.4 -42.0 L469.9 -44.7 L472.4 -47.5 L474.8 -50.3 L477.3 -53.1 L479.8 -56.0 L482.2 -59.0 L484.7 -61.9 L487.2 -64.9 L489.6 -68.0 L492.1 -71.1 L494.6 -74.2 L497.0 -77.3 L499.5 -80.5 L502.0 -83.7 L504.4 -87.0 L506.9 -90.3 L509.4 -93.6 L511.8 -96.9 L514.3 -100.3 L516.8 -103.7 L519.2 -107.2 L521.7 -110.6 L524.2 -114.2 L526.6 -117.7 L529.1 -121.3 L531.6 -125.0 L534.0 -128.7 L536.5 -132.4 L539.0 -136.2 L541.4 -140.1 L543.9 -143.9 L546.4 -147.7 L548.8 -151.5 L551.3 -155.2 L553.8 -159.0 L556.2 -162.7 L558.7 -166.3 L561.2 -170.0 L563.6 -173.6 L566.1 -177.2 L568.6 -180.8 L571.0 -184.3 L573.5 -187.8 L576.0 -191.3 L578.4 -194.8 L580.9 -198.2 L583.4 -201.6 L585.8 -205.0 L588.3 -208.4 L590.8 -211.7 L593.2 -214.9 L595.7 -218.2 L598.2 -221.4 L600.6 -224.6 L603.1 -227.7 L605.6 -230.8 L608.0 -233.9 L610.5 -236.9 L613.0 -239.9 L615.4 -242.8 L617.9 -245.7 L620.4 -248.6 L622.8 -251.4 L625.3 -254.2 L627.8 -257.0 L630.2 -259.7 L632.7 -262.4 L635.2 -265.0 L637.6 -267.6 L640.1 -270.1 L642.6 -272.5 L645.0 -274.9 L647.5 -277.2 L650.0 -279.5 L652.4 -281.7 L654.9 -283.9 L657.4 -286.1 L659.8 -288.3 L662.3 -290.5 L664.8 -292.6 L667.2 -294.7 L669.7 -296.8 L672.2 -298.9 L674.6 -301.0 L677.1 -303.0 L679.6 -305.1 L682.0 -307.2 L684.5 -309.2" fill="none" stroke="#ff0000" stroke-width="2.20"/>
<path d="M388.5 319.1 L391.0 317.0 L393.4 315.0 L395.9 312.9 L398.4 310.8 L400.8 308.7 L403.3 306.7 L405.8 304.6 L408.2 302.4 L410.7 300.3 L413.2 298.2 L415.6 296.0 L418.1 293.8 L420.6 291.6 L423.0 289.3 L425.5 287.1 L428.0 284.8 L430.4 282.4 L432.9 280.1 L435.4 277.7 L437.8 275.3 L440.3 272.8 L442.8 270.3 L445.2 267.8 L447.7 265.3 L450.2 262.7 L452.6 260.0 L455.1 257.3 L457.6 254.6 L460.0 251.9 L462.5 249.1 L465.0 246.2 L467.4 243.4 L469.9 240.4 L472.4 237.5 L474.8 234.5 L477.3 231.5 L479.8 228.4 L482.2 225.3 L484.7 222.2 L487.2 219.0 L489.6 215.8 L492.1 212.5 L494.6 209.2 L497.0 205.9 L499.5 202.6 L502.0 199.2 L504.4 195.8 L506.9 192.4 L509.4 188.9 L511.8 185.5 L514.3 182.0 L516.8 178.4 L519.2 174.9 L521.7 171.3 L524.2 167.7 L526.6 164.1 L529.1 160.4 L531.6 156.8 L534.0 153.1 L536.5 149.4 L539.0 145.7 L541.4 142.0 L543.9 138.4 L546.4 134.7 L548.8 131.1 L551.3 127.5 L553.8 123.9 L556.2 120.4 L558.7 116.8 L561.2 113.3 L563.6 109.9 L566.1 106.4 L568.6 103.0 L571.0 99.6 L573.5 96.2 L576.0 92.9 L578.4 89.6 L580.9 86.3 L583.4 83.0 L585.8 79.8 L588.3 76.6 L590.8 73.5 L593.2 70.4 L595.7 67.3 L598.2 64.3 L600.6 61.3 L603.1 58.4 L605.6 55.4 L608.0 52.6 L610.5 49.7 L613.0 46.9 L615.4 44.2 L617.9 41.5 L620.4 38.8 L622.8 36.1 L625.3 33.5 L627.8 31.0 L630.2 28.5 L632.7 26.0 L635.2 23.5 L637.6 21.1 L640.1 18.7 L642.6 16.4 L645.0 14.0 L647.5 11.7 L650.0 9.5 L652.4 7.2 L654.9 5.0 L657.4 2.8 L659.8 0.6 L662.3 -1.5 L664.8 -3.6 L667.2 -5.8 L669.7 -7.9 L672.2 -9.9 L674.6 -12.0 L677.1 -14.1 L679.6 -16.2 L682.0 -18.2 L684.5 -20.3" fill="none" stroke="#008000" stroke-width="2.25" stroke-dasharray="8.33 3.60" stroke-dashoffset="-1.70"/>
</g>
<line x1="388.50" y1="0.02" x2="388.50" y2="296.15" stroke="#000" stroke-width="0.62"/>
<line x1="684.55" y1="0.02" x2="684.55" y2="296.15" stroke="#000" stroke-width="0.72"/>
<line x1="388.10" y1="0.42" x2="684.95" y2="0.42" stroke="#000" stroke-width="0.72"/>
<line x1="388.10" y1="295.75" x2="684.95" y2="295.75" stroke="#000" stroke-width="0.70"/>
<line x1="418.10" y1="295.75" x2="418.10" y2="298.25" stroke="#000" stroke-width="0.8"/>
<line x1="388.50" y1="266.20" x2="386.00" y2="266.20" stroke="#000" stroke-width="0.8"/>
<line x1="477.30" y1="295.75" x2="477.30" y2="298.25" stroke="#000" stroke-width="0.8"/>
<line x1="388.50" y1="207.20" x2="386.00" y2="207.20" stroke="#000" stroke-width="0.8"/>
<line x1="536.50" y1="295.75" x2="536.50" y2="298.25" stroke="#000" stroke-width="0.8"/>
<line x1="388.50" y1="148.20" x2="386.00" y2="148.20" stroke="#000" stroke-width="0.8"/>
<line x1="595.70" y1="295.75" x2="595.70" y2="298.25" stroke="#000" stroke-width="0.8"/>
<line x1="388.50" y1="89.20" x2="386.00" y2="89.20" stroke="#000" stroke-width="0.8"/>
<line x1="654.90" y1="295.75" x2="654.90" y2="298.25" stroke="#000" stroke-width="0.8"/>
<line x1="388.50" y1="30.20" x2="386.00" y2="30.20" stroke="#000" stroke-width="0.8"/>
<text x="418.50" y="308.30" text-anchor="middle" textLength="26.40" lengthAdjust="spacingAndGlyphs" class="tk">−0.4</text>
<text x="384.40" y="271.10" text-anchor="end" textLength="26.40" lengthAdjust="spacingAndGlyphs" class="tk">−0.4</text>
<text x="477.70" y="308.30" text-anchor="middle" textLength="26.40" lengthAdjust="spacingAndGlyphs" class="tk">−0.2</text>
<text x="384.40" y="212.10" text-anchor="end" textLength="26.40" lengthAdjust="spacingAndGlyphs" class="tk">−0.2</text>
<text x="536.90" y="308.30" text-anchor="middle" textLength="17.00" lengthAdjust="spacingAndGlyphs" class="tk">0.0</text>
<text x="384.40" y="153.10" text-anchor="end" textLength="17.00" lengthAdjust="spacingAndGlyphs" class="tk">0.0</text>
<text x="596.10" y="308.30" text-anchor="middle" textLength="17.00" lengthAdjust="spacingAndGlyphs" class="tk">0.2</text>
<text x="384.40" y="94.10" text-anchor="end" textLength="17.00" lengthAdjust="spacingAndGlyphs" class="tk">0.2</text>
<text x="655.30" y="308.30" text-anchor="middle" textLength="17.00" lengthAdjust="spacingAndGlyphs" class="tk">0.4</text>
<text x="384.40" y="35.10" text-anchor="end" textLength="17.00" lengthAdjust="spacingAndGlyphs" class="tk">0.4</text>
<text x="46.04" y="337.50" class="cb" textLength="6.48" lengthAdjust="spacingAndGlyphs">(</text>
<text x="52.48" y="337.50" class="cb" textLength="9.61" lengthAdjust="spacingAndGlyphs">a</text>
<text x="62.71" y="337.50" class="cb" textLength="6.09" lengthAdjust="spacingAndGlyphs">)</text>
<text x="391.80" y="337.50" class="cb" textLength="6.09" lengthAdjust="spacingAndGlyphs">(</text>
<text x="398.55" y="337.50" class="cb" textLength="10.95" lengthAdjust="spacingAndGlyphs">b</text>
<text x="409.59" y="337.50" class="cb" textLength="6.35" lengthAdjust="spacingAndGlyphs">)</text>
<path d="M80.80 325.90 H78.45 V341.10 H80.80" fill="none" stroke="#000" stroke-width="0.95"/>
<path d="M86.30 325.80 L82.90 333.50 L86.30 341.20" fill="none" stroke="#000" stroke-width="0.80"/>
<path d="M129.60 325.80 L133.00 333.50 L129.60 341.20" fill="none" stroke="#000" stroke-width="0.80"/>
<path d="M135.20 325.90 H137.30 V341.10 H135.20" fill="none" stroke="#000" stroke-width="0.95"/>
<text x="87.04" y="337.50" class="cr" textLength="16.49" lengthAdjust="spacingAndGlyphs">58</text>
<text x="104.96" y="337.50" class="cr" textLength="3.53" lengthAdjust="spacingAndGlyphs">,</text>
<text x="111.82" y="337.50" class="cr" textLength="16.35" lengthAdjust="spacingAndGlyphs">39</text>
<text x="146.18" y="337.50" class="cr" textLength="32.06" lengthAdjust="spacingAndGlyphs">with</text>
<text x="183.61" y="337.50" class="cr" textLength="66.21" lengthAdjust="spacingAndGlyphs">complete</text>
<path d="M427.90 325.90 H425.55 V341.10 H427.90" fill="none" stroke="#000" stroke-width="0.95"/>
<path d="M433.40 325.80 L430.00 333.50 L433.40 341.20" fill="none" stroke="#000" stroke-width="0.80"/>
<path d="M476.70 325.80 L480.10 333.50 L476.70 341.20" fill="none" stroke="#000" stroke-width="0.80"/>
<path d="M482.30 325.90 H484.40 V341.10 H482.30" fill="none" stroke="#000" stroke-width="0.95"/>
<text x="434.14" y="337.50" class="cr" textLength="16.49" lengthAdjust="spacingAndGlyphs">58</text>
<text x="452.06" y="337.50" class="cr" textLength="3.53" lengthAdjust="spacingAndGlyphs">,</text>
<text x="458.92" y="337.50" class="cr" textLength="16.35" lengthAdjust="spacingAndGlyphs">39</text>
<text x="493.28" y="337.50" class="cr" textLength="32.06" lengthAdjust="spacingAndGlyphs">with</text>
<text x="530.71" y="337.50" class="cr" textLength="66.21" lengthAdjust="spacingAndGlyphs">complete</text>
<text x="255.02" y="337.50" class="cr" textLength="26.29" lengthAdjust="spacingAndGlyphs">gap</text>
<text x="601.93" y="337.50" class="cr" textLength="52.65" lengthAdjust="spacingAndGlyphs">overlap</text>
</svg>
</body></html>
